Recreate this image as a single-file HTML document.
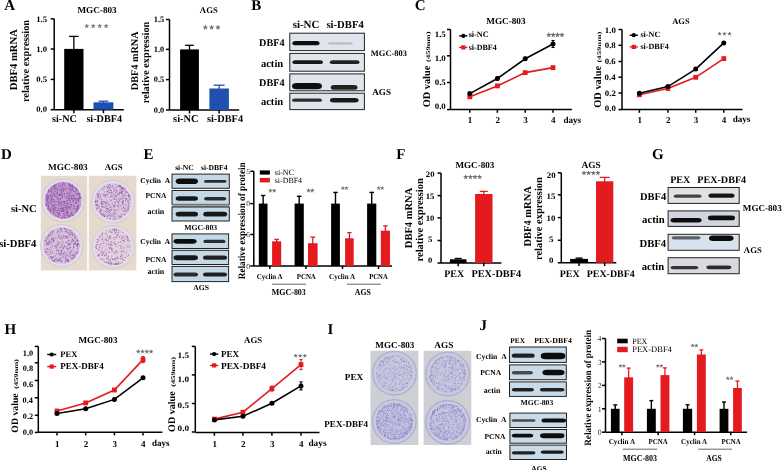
<!DOCTYPE html>
<html><head><meta charset="utf-8"><style>
html,body{margin:0;padding:0;background:#fff;width:782px;height:470px;overflow:hidden}
svg{display:block;filter:blur(0.3px)}
text{text-rendering:geometricPrecision}
</style></head><body>
<svg width="782" height="470" viewBox="0 0 782 470">
<defs><filter id="blur05" x="-10%" y="-10%" width="120%" height="120%"><feGaussianBlur stdDeviation="0.35"/></filter><filter id="blur1" x="-20%" y="-50%" width="140%" height="200%"><feGaussianBlur stdDeviation="0.75"/></filter></defs>
<rect width="782" height="470" fill="#fff"/>
<text x="4.33" y="10.30" font-family="Liberation Serif" font-size="15.0" font-weight="bold">A</text>
<text x="251.28" y="10.22" font-family="Liberation Serif" font-size="15.0" font-weight="bold">B</text>
<text x="414.72" y="10.35" font-family="Liberation Serif" font-size="15.0" font-weight="bold">C</text>
<text x="0.88" y="159.12" font-family="Liberation Serif" font-size="15.0" font-weight="bold">D</text>
<text x="143.58" y="159.20" font-family="Liberation Serif" font-size="15.0" font-weight="bold">E</text>
<text x="396.37" y="159.30" font-family="Liberation Serif" font-size="15.0" font-weight="bold">F</text>
<text x="651.93" y="159.35" font-family="Liberation Serif" font-size="15.0" font-weight="bold">G</text>
<text x="4.58" y="334.20" font-family="Liberation Serif" font-size="15.0" font-weight="bold">H</text>
<text x="327.45" y="334.20" font-family="Liberation Serif" font-size="15.0" font-weight="bold">I</text>
<text x="479.40" y="330.15" font-family="Liberation Serif" font-size="15.0" font-weight="bold">J</text>
<line x1="54.20" y1="18.80" x2="54.20" y2="109.70" stroke="#000" stroke-width="1.5"/>
<line x1="50.70" y1="18.80" x2="54.20" y2="18.80" stroke="#000" stroke-width="1.5"/>
<line x1="50.70" y1="49.00" x2="54.20" y2="49.00" stroke="#000" stroke-width="1.5"/>
<line x1="50.70" y1="79.40" x2="54.20" y2="79.40" stroke="#000" stroke-width="1.5"/>
<line x1="50.70" y1="109.70" x2="54.20" y2="109.70" stroke="#000" stroke-width="1.5"/>
<line x1="54.20" y1="109.70" x2="123.80" y2="109.70" stroke="#000" stroke-width="1.5"/>
<text x="36.19" y="21.54" font-family="Liberation Serif" font-size="8.30" font-weight="bold" textLength="10.91" lengthAdjust="spacingAndGlyphs">1.5</text>
<text x="36.19" y="51.76" font-family="Liberation Serif" font-size="8.30" font-weight="bold" textLength="10.91" lengthAdjust="spacingAndGlyphs">1.0</text>
<text x="36.19" y="82.16" font-family="Liberation Serif" font-size="8.30" font-weight="bold" textLength="10.91" lengthAdjust="spacingAndGlyphs">0.5</text>
<text x="36.19" y="112.46" font-family="Liberation Serif" font-size="8.30" font-weight="bold" textLength="10.91" lengthAdjust="spacingAndGlyphs">0.0</text>
<text x="77.46" y="13.30" font-family="Liberation Serif" font-size="9.17" font-weight="bold" fill="#000">MGC-803</text>
<path d="M86.75,26.18L86.75,24.45M86.75,26.18L88.39,25.64M86.75,26.18L87.76,27.58M86.75,26.18L85.73,27.58M86.75,26.18L85.10,25.64M93.22,26.18L93.22,24.45M93.22,26.18L94.86,25.64M93.22,26.18L94.23,27.58M93.22,26.18L92.20,27.58M93.22,26.18L91.57,25.64M99.68,26.18L99.68,24.45M99.68,26.18L101.33,25.64M99.68,26.18L100.70,27.58M99.68,26.18L98.67,27.58M99.68,26.18L98.04,25.64M106.15,26.18L106.15,24.45M106.15,26.18L107.80,25.64M106.15,26.18L107.17,27.58M106.15,26.18L105.14,27.58M106.15,26.18L104.51,25.64" stroke="#6a6a6a" stroke-width="0.99" stroke-linecap="round" fill="none"/>
<line x1="73.85" y1="36.40" x2="73.85" y2="49.90" stroke="#000" stroke-width="1.3"/>
<line x1="69.10" y1="36.40" x2="78.60" y2="36.40" stroke="#000" stroke-width="1.3"/>
<rect x="64.20" y="48.90" width="19.30" height="60.80" fill="#000" />
<line x1="73.85" y1="109.70" x2="73.85" y2="113.20" stroke="#000" stroke-width="1.5"/>
<line x1="103.45" y1="101.20" x2="103.45" y2="103.30" stroke="#1f4fb0" stroke-width="1.3"/>
<line x1="98.60" y1="101.20" x2="108.30" y2="101.20" stroke="#1f4fb0" stroke-width="1.3"/>
<rect x="93.50" y="102.30" width="19.90" height="7.40" fill="#1f4fb0" />
<line x1="103.45" y1="109.70" x2="103.45" y2="113.20" stroke="#000" stroke-width="1.5"/>
<text x="52.09" y="122.30" font-family="Liberation Serif" font-size="10.17" font-weight="bold" fill="#000">si-NC</text>
<text x="86.39" y="122.30" font-family="Liberation Serif" font-size="10.19" font-weight="bold" fill="#000">si-DBF4</text>
<text transform="translate(17.00,90.26) rotate(-90)" x="0" y="0" font-family="Liberation Serif" font-size="10.63" font-weight="bold" fill="#000">DBF4 mRNA</text>
<text transform="translate(28.90,102.06) rotate(-90)" x="0" y="0" font-family="Liberation Serif" font-size="10.37" font-weight="bold" fill="#000">relative expression</text>
<line x1="169.50" y1="19.50" x2="169.50" y2="110.00" stroke="#000" stroke-width="1.5"/>
<line x1="166.00" y1="19.50" x2="169.50" y2="19.50" stroke="#000" stroke-width="1.5"/>
<line x1="166.00" y1="49.40" x2="169.50" y2="49.40" stroke="#000" stroke-width="1.5"/>
<line x1="166.00" y1="79.60" x2="169.50" y2="79.60" stroke="#000" stroke-width="1.5"/>
<line x1="166.00" y1="110.00" x2="169.50" y2="110.00" stroke="#000" stroke-width="1.5"/>
<line x1="169.50" y1="110.00" x2="239.20" y2="110.00" stroke="#000" stroke-width="1.5"/>
<text x="153.81" y="22.24" font-family="Liberation Serif" font-size="8.30" font-weight="bold" textLength="10.49" lengthAdjust="spacingAndGlyphs">1.5</text>
<text x="153.81" y="52.16" font-family="Liberation Serif" font-size="8.30" font-weight="bold" textLength="10.49" lengthAdjust="spacingAndGlyphs">1.0</text>
<text x="153.81" y="82.36" font-family="Liberation Serif" font-size="8.30" font-weight="bold" textLength="10.49" lengthAdjust="spacingAndGlyphs">0.5</text>
<text x="153.81" y="112.76" font-family="Liberation Serif" font-size="8.30" font-weight="bold" textLength="10.49" lengthAdjust="spacingAndGlyphs">0.0</text>
<text x="199.86" y="13.00" font-family="Liberation Serif" font-size="8.71" font-weight="bold" fill="#000">AGS</text>
<path d="M205.35,27.40L205.35,25.56M205.35,27.40L207.09,26.83M205.35,27.40L206.43,28.89M205.35,27.40L204.27,28.89M205.35,27.40L203.60,26.83M211.65,27.40L211.65,25.56M211.65,27.40L213.40,26.83M211.65,27.40L212.73,28.89M211.65,27.40L210.57,28.89M211.65,27.40L209.90,26.83M217.95,27.40L217.95,25.56M217.95,27.40L219.70,26.83M217.95,27.40L219.03,28.89M217.95,27.40L216.87,28.89M217.95,27.40L216.21,26.83" stroke="#6a6a6a" stroke-width="1.05" stroke-linecap="round" fill="none"/>
<line x1="189.50" y1="45.30" x2="189.50" y2="50.40" stroke="#000" stroke-width="1.3"/>
<line x1="185.15" y1="45.30" x2="193.85" y2="45.30" stroke="#000" stroke-width="1.3"/>
<rect x="180.10" y="49.40" width="18.80" height="60.60" fill="#000" />
<line x1="189.50" y1="110.00" x2="189.50" y2="113.50" stroke="#000" stroke-width="1.5"/>
<line x1="219.15" y1="85.20" x2="219.15" y2="89.50" stroke="#1f4fb0" stroke-width="1.3"/>
<line x1="213.65" y1="85.20" x2="224.65" y2="85.20" stroke="#1f4fb0" stroke-width="1.3"/>
<rect x="209.40" y="88.50" width="19.50" height="21.50" fill="#1f4fb0" />
<line x1="219.15" y1="110.00" x2="219.15" y2="113.50" stroke="#000" stroke-width="1.5"/>
<text x="173.09" y="122.30" font-family="Liberation Serif" font-size="10.43" font-weight="bold" fill="#000">si-NC</text>
<text x="206.99" y="122.30" font-family="Liberation Serif" font-size="10.30" font-weight="bold" fill="#000">si-DBF4</text>
<text transform="translate(138.20,90.25) rotate(-90)" x="0" y="0" font-family="Liberation Serif" font-size="10.24" font-weight="bold" fill="#000">DBF4 mRNA</text>
<text transform="translate(149.30,103.16) rotate(-90)" x="0" y="0" font-family="Liberation Serif" font-size="10.27" font-weight="bold" fill="#000">relative expression</text>
<text x="292.67" y="28.30" font-family="Liberation Serif" font-size="10.94" font-weight="bold" fill="#000">si-NC</text>
<text x="326.48" y="28.30" font-family="Liberation Serif" font-size="10.65" font-weight="bold" fill="#000">si-DBF4</text>
<rect x="289.80" y="33.20" width="74.60" height="17.40" fill="#e0e4ec" stroke="#222" stroke-width="1.0"/>
<rect x="292.40" y="41.00" width="27.10" height="4.30" rx="3.22" ry="2.15" fill="#111" opacity="1.0" filter="url(#blur1)"/>
<rect x="327.90" y="42.20" width="24.90" height="2.30" rx="1.72" ry="1.15" fill="#111" opacity="0.18" filter="url(#blur1)"/>
<rect x="289.80" y="53.40" width="74.60" height="17.80" fill="#e0e4ec" stroke="#222" stroke-width="1.0"/>
<rect x="292.40" y="60.30" width="30.60" height="3.70" rx="2.78" ry="1.85" fill="#111" opacity="0.95" filter="url(#blur1)"/>
<rect x="329.80" y="60.30" width="29.70" height="3.70" rx="2.78" ry="1.85" fill="#111" opacity="0.9" filter="url(#blur1)"/>
<rect x="289.80" y="73.90" width="74.60" height="16.90" fill="#e0e4ec" stroke="#222" stroke-width="1.0"/>
<rect x="292.00" y="82.90" width="30.00" height="6.40" rx="4.80" ry="3.20" fill="#111" opacity="1.0" filter="url(#blur1)"/>
<rect x="330.70" y="85.00" width="26.80" height="4.80" rx="3.60" ry="2.40" fill="#111" opacity="0.9" filter="url(#blur1)"/>
<rect x="289.80" y="93.20" width="74.60" height="16.40" fill="#e0e4ec" stroke="#222" stroke-width="1.0"/>
<rect x="292.00" y="98.50" width="30.00" height="3.30" rx="2.47" ry="1.65" fill="#111" opacity="0.85" filter="url(#blur1)"/>
<rect x="330.00" y="98.00" width="28.50" height="4.50" rx="3.38" ry="2.25" fill="#111" opacity="0.95" filter="url(#blur1)"/>
<text x="259.05" y="45.70" font-family="Liberation Serif" font-size="10.20" font-weight="bold" fill="#000">DBF4</text>
<text x="260.88" y="67.00" font-family="Liberation Serif" font-size="10.58" font-weight="bold" fill="#000">actin</text>
<text x="259.05" y="85.50" font-family="Liberation Serif" font-size="10.20" font-weight="bold" fill="#000">DBF4</text>
<text x="260.88" y="104.80" font-family="Liberation Serif" font-size="10.58" font-weight="bold" fill="#000">actin</text>
<text x="370.77" y="55.60" font-family="Liberation Serif" font-size="8.51" font-weight="bold" fill="#000">MGC-803</text>
<text x="372.25" y="94.90" font-family="Liberation Serif" font-size="9.10" font-weight="bold" fill="#000">AGS</text>
<line x1="450.50" y1="29.50" x2="450.50" y2="109.60" stroke="#000" stroke-width="1.5"/>
<line x1="447.00" y1="29.50" x2="450.50" y2="29.50" stroke="#000" stroke-width="1.5"/>
<line x1="447.00" y1="55.80" x2="450.50" y2="55.80" stroke="#000" stroke-width="1.5"/>
<line x1="447.00" y1="82.50" x2="450.50" y2="82.50" stroke="#000" stroke-width="1.5"/>
<line x1="447.00" y1="109.60" x2="450.50" y2="109.60" stroke="#000" stroke-width="1.5"/>
<line x1="450.50" y1="109.60" x2="571.90" y2="109.60" stroke="#000" stroke-width="1.5"/>
<line x1="469.80" y1="109.60" x2="469.80" y2="112.80" stroke="#000" stroke-width="1.5"/>
<line x1="497.40" y1="109.60" x2="497.40" y2="112.80" stroke="#000" stroke-width="1.5"/>
<line x1="525.20" y1="109.60" x2="525.20" y2="112.80" stroke="#000" stroke-width="1.5"/>
<line x1="553.00" y1="109.60" x2="553.00" y2="112.80" stroke="#000" stroke-width="1.5"/>
<text x="434.69" y="36.64" font-family="Liberation Serif" font-size="8.30" font-weight="bold" textLength="11.12" lengthAdjust="spacingAndGlyphs">1.5</text>
<text x="434.69" y="60.56" font-family="Liberation Serif" font-size="8.30" font-weight="bold" textLength="11.12" lengthAdjust="spacingAndGlyphs">1.0</text>
<text x="434.69" y="84.56" font-family="Liberation Serif" font-size="8.30" font-weight="bold" textLength="11.12" lengthAdjust="spacingAndGlyphs">0.5</text>
<text x="434.69" y="108.66" font-family="Liberation Serif" font-size="8.30" font-weight="bold" textLength="11.12" lengthAdjust="spacingAndGlyphs">0.0</text>
<text x="470.10" y="122.80" text-anchor="middle" font-family="Liberation Serif" font-size="9.0" font-weight="bold">1</text>
<text x="497.70" y="122.80" text-anchor="middle" font-family="Liberation Serif" font-size="9.0" font-weight="bold">2</text>
<text x="525.50" y="122.80" text-anchor="middle" font-family="Liberation Serif" font-size="9.0" font-weight="bold">3</text>
<text x="553.30" y="122.80" text-anchor="middle" font-family="Liberation Serif" font-size="9.0" font-weight="bold">4</text>
<text x="563.44" y="122.80" font-family="Liberation Serif" font-size="9.10" font-weight="bold" fill="#000">days</text>
<text x="486.26" y="23.80" font-family="Liberation Serif" font-size="9.20" font-weight="bold" fill="#000">MGC-803</text>
<line x1="459.20" y1="35.90" x2="467.40" y2="35.90" stroke="#000" stroke-width="1.4"/>
<circle cx="463.30" cy="35.90" r="2.1" fill="#000"/>
<line x1="459.20" y1="47.40" x2="467.40" y2="47.40" stroke="#e31b1f" stroke-width="1.4"/>
<rect x="461.20" y="45.30" width="4.20" height="4.20" fill="#e31b1f" />
<text x="468.65" y="37.30" font-family="Liberation Serif" font-size="8.21" font-weight="bold" fill="#000">si-NC</text>
<text x="468.66" y="49.60" font-family="Liberation Serif" font-size="8.02" font-weight="bold" fill="#000">si-DBF4</text>
<path d="M548.75,34.90L548.75,33.06M548.75,34.90L550.49,34.33M548.75,34.90L549.83,36.39M548.75,34.90L547.67,36.39M548.75,34.90L547.00,34.33M553.15,34.90L553.15,33.06M553.15,34.90L554.90,34.33M553.15,34.90L554.23,36.39M553.15,34.90L552.07,36.39M553.15,34.90L551.40,34.33M557.55,34.90L557.55,33.06M557.55,34.90L559.30,34.33M557.55,34.90L558.63,36.39M557.55,34.90L556.47,36.39M557.55,34.90L555.80,34.33M561.95,34.90L561.95,33.06M561.95,34.90L563.70,34.33M561.95,34.90L563.03,36.39M561.95,34.90L560.87,36.39M561.95,34.90L560.21,34.33" stroke="#6a6a6a" stroke-width="1.05" stroke-linecap="round" fill="none"/>
<polyline points="469.80,96.80 497.40,85.90 525.20,72.60 553.00,67.60" fill="none" stroke="#e31b1f" stroke-width="1.6"/>
<polyline points="469.80,93.60 497.40,78.50 525.20,58.80 553.00,44.00" fill="none" stroke="#000" stroke-width="1.6"/>
<rect x="467.40" y="94.40" width="4.80" height="4.80" fill="#e31b1f" />
<rect x="495.00" y="83.50" width="4.80" height="4.80" fill="#e31b1f" />
<rect x="522.80" y="70.20" width="4.80" height="4.80" fill="#e31b1f" />
<rect x="550.60" y="65.20" width="4.80" height="4.80" fill="#e31b1f" />
<circle cx="469.80" cy="93.60" r="2.5" fill="#000"/>
<line x1="497.40" y1="77.00" x2="497.40" y2="80.00" stroke="#000" stroke-width="1.1"/>
<line x1="495.80" y1="77.00" x2="499.00" y2="77.00" stroke="#000" stroke-width="1.1"/>
<line x1="495.80" y1="80.00" x2="499.00" y2="80.00" stroke="#000" stroke-width="1.1"/>
<circle cx="497.40" cy="78.50" r="2.5" fill="#000"/>
<line x1="525.20" y1="57.30" x2="525.20" y2="60.30" stroke="#000" stroke-width="1.1"/>
<line x1="523.60" y1="57.30" x2="526.80" y2="57.30" stroke="#000" stroke-width="1.1"/>
<line x1="523.60" y1="60.30" x2="526.80" y2="60.30" stroke="#000" stroke-width="1.1"/>
<circle cx="525.20" cy="58.80" r="2.5" fill="#000"/>
<line x1="553.00" y1="40.50" x2="553.00" y2="47.50" stroke="#000" stroke-width="1.1"/>
<line x1="551.40" y1="40.50" x2="554.60" y2="40.50" stroke="#000" stroke-width="1.1"/>
<line x1="551.40" y1="47.50" x2="554.60" y2="47.50" stroke="#000" stroke-width="1.1"/>
<circle cx="553.00" cy="44.00" r="2.5" fill="#000"/>
<text transform="translate(430.20,107.37) rotate(-90)" x="0" y="0" font-family="Liberation Serif" font-size="10.35" font-weight="bold" fill="#000">OD value</text>
<text transform="translate(430.20,61.94) rotate(-90)" x="0" y="0" font-family="Liberation Serif" font-size="5.60" font-weight="bold" fill="#000" textLength="30.43" lengthAdjust="spacingAndGlyphs">(459nm)</text>
<line x1="622.00" y1="29.50" x2="622.00" y2="109.60" stroke="#000" stroke-width="1.5"/>
<line x1="618.50" y1="29.50" x2="622.00" y2="29.50" stroke="#000" stroke-width="1.5"/>
<line x1="618.50" y1="45.30" x2="622.00" y2="45.30" stroke="#000" stroke-width="1.5"/>
<line x1="618.50" y1="61.50" x2="622.00" y2="61.50" stroke="#000" stroke-width="1.5"/>
<line x1="618.50" y1="77.20" x2="622.00" y2="77.20" stroke="#000" stroke-width="1.5"/>
<line x1="618.50" y1="93.00" x2="622.00" y2="93.00" stroke="#000" stroke-width="1.5"/>
<line x1="618.50" y1="109.60" x2="622.00" y2="109.60" stroke="#000" stroke-width="1.5"/>
<line x1="622.00" y1="109.60" x2="742.50" y2="109.60" stroke="#000" stroke-width="1.5"/>
<line x1="639.40" y1="109.60" x2="639.40" y2="112.80" stroke="#000" stroke-width="1.5"/>
<line x1="667.90" y1="109.60" x2="667.90" y2="112.80" stroke="#000" stroke-width="1.5"/>
<line x1="695.70" y1="109.60" x2="695.70" y2="112.80" stroke="#000" stroke-width="1.5"/>
<line x1="723.80" y1="109.60" x2="723.80" y2="112.80" stroke="#000" stroke-width="1.5"/>
<text x="604.77" y="32.56" font-family="Liberation Serif" font-size="8.30" font-weight="bold" textLength="11.04" lengthAdjust="spacingAndGlyphs">1.0</text>
<text x="604.72" y="48.06" font-family="Liberation Serif" font-size="8.30" font-weight="bold" textLength="11.04" lengthAdjust="spacingAndGlyphs">0.8</text>
<text x="604.68" y="64.16" font-family="Liberation Serif" font-size="8.30" font-weight="bold" textLength="11.04" lengthAdjust="spacingAndGlyphs">0.6</text>
<text x="604.59" y="79.86" font-family="Liberation Serif" font-size="8.30" font-weight="bold" textLength="11.04" lengthAdjust="spacingAndGlyphs">0.4</text>
<text x="604.81" y="95.66" font-family="Liberation Serif" font-size="8.30" font-weight="bold" textLength="11.04" lengthAdjust="spacingAndGlyphs">0.2</text>
<text x="604.77" y="110.96" font-family="Liberation Serif" font-size="8.30" font-weight="bold" textLength="11.04" lengthAdjust="spacingAndGlyphs">0.0</text>
<text x="639.70" y="122.80" text-anchor="middle" font-family="Liberation Serif" font-size="9.0" font-weight="bold">1</text>
<text x="668.20" y="122.80" text-anchor="middle" font-family="Liberation Serif" font-size="9.0" font-weight="bold">2</text>
<text x="696.00" y="122.80" text-anchor="middle" font-family="Liberation Serif" font-size="9.0" font-weight="bold">3</text>
<text x="724.10" y="122.80" text-anchor="middle" font-family="Liberation Serif" font-size="9.0" font-weight="bold">4</text>
<text x="732.63" y="122.40" font-family="Liberation Serif" font-size="9.15" font-weight="bold" fill="#000">days</text>
<text x="672.26" y="23.80" font-family="Liberation Serif" font-size="8.46" font-weight="bold" fill="#000">AGS</text>
<line x1="629.70" y1="35.20" x2="637.90" y2="35.20" stroke="#000" stroke-width="1.4"/>
<circle cx="633.80" cy="35.20" r="2.1" fill="#000"/>
<line x1="629.70" y1="46.90" x2="637.90" y2="46.90" stroke="#e31b1f" stroke-width="1.4"/>
<rect x="631.70" y="44.80" width="4.20" height="4.20" fill="#e31b1f" />
<text x="640.46" y="36.60" font-family="Liberation Serif" font-size="8.12" font-weight="bold" fill="#000">si-NC</text>
<text x="640.46" y="49.40" font-family="Liberation Serif" font-size="8.08" font-weight="bold" fill="#000">si-DBF4</text>
<path d="M719.60,33.88L719.60,32.41M719.60,33.88L720.99,33.43M719.60,33.88L720.46,35.07M719.60,33.88L718.73,35.07M719.60,33.88L718.20,33.43M724.55,33.88L724.55,32.41M724.55,33.88L725.95,33.43M724.55,33.88L725.41,35.07M724.55,33.88L723.69,35.07M724.55,33.88L723.15,33.43M729.50,33.88L729.50,32.41M729.50,33.88L730.90,33.43M729.50,33.88L730.37,35.07M729.50,33.88L728.64,35.07M729.50,33.88L728.11,33.43" stroke="#6a6a6a" stroke-width="0.90" stroke-linecap="round" fill="none"/>
<polyline points="639.40,94.80 667.90,88.50 695.70,77.30 723.80,58.60" fill="none" stroke="#e31b1f" stroke-width="1.6"/>
<polyline points="639.40,93.20 667.90,86.60 695.70,69.10 723.80,42.90" fill="none" stroke="#000" stroke-width="1.6"/>
<rect x="637.00" y="92.40" width="4.80" height="4.80" fill="#e31b1f" />
<rect x="665.50" y="86.10" width="4.80" height="4.80" fill="#e31b1f" />
<rect x="693.30" y="74.90" width="4.80" height="4.80" fill="#e31b1f" />
<rect x="721.40" y="56.20" width="4.80" height="4.80" fill="#e31b1f" />
<circle cx="639.40" cy="93.20" r="2.5" fill="#000"/>
<circle cx="667.90" cy="86.60" r="2.5" fill="#000"/>
<circle cx="695.70" cy="69.10" r="2.5" fill="#000"/>
<circle cx="723.80" cy="42.90" r="2.5" fill="#000"/>
<text transform="translate(601.20,107.77) rotate(-90)" x="0" y="0" font-family="Liberation Serif" font-size="10.40" font-weight="bold" fill="#000">OD value</text>
<text transform="translate(601.20,62.55) rotate(-90)" x="0" y="0" font-family="Liberation Serif" font-size="5.60" font-weight="bold" fill="#000" textLength="30.84" lengthAdjust="spacingAndGlyphs">(459nm)</text>
<rect x="40.80" y="175.80" width="46.40" height="94.60" fill="#e7dacd" />
<rect x="88.80" y="175.80" width="47.60" height="94.60" fill="#e7dacd" />
<circle cx="63.20" cy="200.40" r="21.40" fill="#e2dce6" stroke="#d2c8d4" stroke-width="1.0"/>
<circle cx="63.20" cy="200.40" r="18.40" fill="#c3a0cf" filter="url(#blur1)"/>
<g fill="#7e3a9c" opacity="0.75" filter="url(#blur05)"><circle cx="64.2" cy="213.7" r="0.43"/><circle cx="51.9" cy="191.7" r="0.28"/><circle cx="79.6" cy="201.8" r="0.38"/><circle cx="65.0" cy="218.3" r="0.49"/><circle cx="69.6" cy="189.7" r="0.57"/><circle cx="71.6" cy="212.1" r="0.68"/><circle cx="47.8" cy="198.1" r="0.59"/><circle cx="77.7" cy="206.5" r="0.55"/><circle cx="62.2" cy="203.4" r="0.68"/><circle cx="48.1" cy="203.0" r="0.69"/><circle cx="59.3" cy="183.5" r="0.45"/><circle cx="67.0" cy="189.0" r="0.72"/><circle cx="67.3" cy="196.5" r="0.32"/><circle cx="66.8" cy="217.7" r="0.47"/><circle cx="56.3" cy="193.3" r="0.50"/><circle cx="55.1" cy="207.4" r="0.54"/><circle cx="48.4" cy="191.7" r="0.59"/><circle cx="78.3" cy="193.2" r="0.75"/><circle cx="59.7" cy="194.0" r="0.68"/><circle cx="79.9" cy="196.6" r="0.53"/><circle cx="61.3" cy="192.3" r="0.67"/><circle cx="54.6" cy="196.1" r="0.28"/><circle cx="74.1" cy="186.1" r="0.29"/><circle cx="66.8" cy="189.4" r="0.33"/><circle cx="58.9" cy="215.6" r="0.69"/><circle cx="76.8" cy="204.3" r="0.27"/><circle cx="61.2" cy="190.2" r="0.69"/><circle cx="75.9" cy="198.8" r="0.75"/><circle cx="61.4" cy="205.1" r="0.55"/><circle cx="71.1" cy="202.0" r="0.45"/><circle cx="57.7" cy="195.8" r="0.27"/><circle cx="70.0" cy="192.9" r="0.73"/><circle cx="72.0" cy="193.7" r="0.48"/><circle cx="48.8" cy="198.6" r="0.55"/><circle cx="50.0" cy="195.2" r="0.72"/><circle cx="51.4" cy="199.9" r="0.61"/><circle cx="64.0" cy="210.3" r="0.74"/><circle cx="50.0" cy="198.6" r="0.26"/><circle cx="51.4" cy="207.4" r="0.26"/><circle cx="52.5" cy="190.9" r="0.28"/><circle cx="54.6" cy="191.6" r="0.59"/><circle cx="54.1" cy="212.5" r="0.62"/><circle cx="67.6" cy="201.0" r="0.59"/><circle cx="72.0" cy="198.3" r="0.48"/><circle cx="54.7" cy="194.8" r="0.43"/><circle cx="59.0" cy="210.5" r="0.55"/><circle cx="59.8" cy="210.9" r="0.64"/><circle cx="76.6" cy="202.7" r="0.62"/><circle cx="60.1" cy="208.3" r="0.65"/><circle cx="63.8" cy="208.2" r="0.47"/><circle cx="61.4" cy="194.9" r="0.41"/><circle cx="54.9" cy="214.6" r="0.47"/><circle cx="67.8" cy="194.6" r="0.42"/><circle cx="53.2" cy="186.7" r="0.48"/><circle cx="64.2" cy="206.6" r="0.51"/><circle cx="69.1" cy="215.5" r="0.67"/><circle cx="67.1" cy="209.1" r="0.65"/><circle cx="53.0" cy="187.8" r="0.42"/><circle cx="69.9" cy="207.5" r="0.65"/><circle cx="61.8" cy="210.9" r="0.46"/><circle cx="53.1" cy="206.0" r="0.71"/><circle cx="63.9" cy="201.4" r="0.72"/><circle cx="76.3" cy="188.1" r="0.47"/><circle cx="79.7" cy="195.0" r="0.36"/><circle cx="62.7" cy="183.9" r="0.58"/><circle cx="53.6" cy="199.2" r="0.42"/><circle cx="63.9" cy="205.1" r="0.54"/><circle cx="59.5" cy="216.2" r="0.27"/><circle cx="75.6" cy="191.8" r="0.71"/><circle cx="76.8" cy="190.0" r="0.54"/><circle cx="78.7" cy="201.7" r="0.34"/><circle cx="58.7" cy="214.4" r="0.51"/><circle cx="48.2" cy="209.4" r="0.56"/><circle cx="58.3" cy="208.0" r="0.68"/><circle cx="47.4" cy="202.7" r="0.43"/><circle cx="67.5" cy="212.9" r="0.66"/><circle cx="70.8" cy="214.5" r="0.71"/><circle cx="68.8" cy="185.0" r="0.25"/><circle cx="51.6" cy="188.3" r="0.27"/><circle cx="61.9" cy="209.7" r="0.51"/><circle cx="52.2" cy="206.2" r="0.64"/><circle cx="67.4" cy="200.4" r="0.31"/><circle cx="66.5" cy="203.7" r="0.74"/><circle cx="66.4" cy="196.2" r="0.50"/><circle cx="59.1" cy="209.7" r="0.43"/><circle cx="54.9" cy="189.4" r="0.43"/><circle cx="66.9" cy="210.0" r="0.31"/><circle cx="48.9" cy="195.2" r="0.44"/><circle cx="69.9" cy="204.1" r="0.44"/><circle cx="50.6" cy="190.7" r="0.44"/><circle cx="67.7" cy="186.9" r="0.47"/><circle cx="54.4" cy="209.5" r="0.60"/><circle cx="50.0" cy="207.6" r="0.48"/><circle cx="63.6" cy="213.6" r="0.60"/><circle cx="73.8" cy="205.5" r="0.46"/><circle cx="75.9" cy="188.4" r="0.44"/><circle cx="76.0" cy="190.8" r="0.38"/><circle cx="57.0" cy="201.8" r="0.66"/><circle cx="54.3" cy="185.9" r="0.65"/><circle cx="55.6" cy="187.0" r="0.53"/><circle cx="74.2" cy="208.7" r="0.25"/><circle cx="73.0" cy="212.8" r="0.27"/><circle cx="68.0" cy="203.5" r="0.69"/><circle cx="64.4" cy="202.9" r="0.67"/><circle cx="75.2" cy="211.8" r="0.59"/><circle cx="72.3" cy="185.3" r="0.54"/><circle cx="64.2" cy="197.1" r="0.63"/><circle cx="48.0" cy="199.3" r="0.30"/><circle cx="63.1" cy="183.0" r="0.28"/><circle cx="57.1" cy="212.5" r="0.66"/><circle cx="63.6" cy="208.0" r="0.37"/><circle cx="51.5" cy="190.0" r="0.45"/><circle cx="55.6" cy="208.8" r="0.43"/><circle cx="58.7" cy="203.0" r="0.50"/><circle cx="74.6" cy="198.4" r="0.62"/><circle cx="71.2" cy="213.1" r="0.63"/><circle cx="57.2" cy="188.9" r="0.49"/><circle cx="52.6" cy="187.0" r="0.32"/><circle cx="76.1" cy="209.2" r="0.71"/><circle cx="51.3" cy="199.1" r="0.61"/><circle cx="66.8" cy="209.0" r="0.35"/><circle cx="54.5" cy="195.2" r="0.37"/><circle cx="56.8" cy="184.0" r="0.40"/><circle cx="60.0" cy="189.3" r="0.68"/><circle cx="55.2" cy="195.7" r="0.36"/><circle cx="75.6" cy="202.2" r="0.44"/><circle cx="68.3" cy="210.0" r="0.41"/><circle cx="64.2" cy="193.6" r="0.75"/><circle cx="49.4" cy="202.2" r="0.48"/><circle cx="71.5" cy="186.3" r="0.53"/><circle cx="48.0" cy="202.2" r="0.68"/><circle cx="50.7" cy="209.5" r="0.73"/><circle cx="54.7" cy="202.2" r="0.37"/><circle cx="60.2" cy="185.9" r="0.73"/><circle cx="68.6" cy="193.3" r="0.34"/><circle cx="62.8" cy="208.2" r="0.60"/><circle cx="74.0" cy="187.1" r="0.38"/><circle cx="69.9" cy="192.8" r="0.46"/><circle cx="62.5" cy="195.2" r="0.30"/><circle cx="68.1" cy="192.0" r="0.43"/><circle cx="50.2" cy="193.2" r="0.25"/><circle cx="57.1" cy="210.7" r="0.49"/><circle cx="66.6" cy="213.8" r="0.73"/><circle cx="52.9" cy="208.8" r="0.31"/><circle cx="60.9" cy="214.9" r="0.31"/><circle cx="76.3" cy="189.2" r="0.30"/><circle cx="73.5" cy="196.4" r="0.64"/><circle cx="63.7" cy="190.6" r="0.59"/><circle cx="54.0" cy="187.1" r="0.38"/><circle cx="63.7" cy="182.7" r="0.59"/><circle cx="57.3" cy="199.0" r="0.50"/><circle cx="54.0" cy="212.6" r="0.59"/><circle cx="56.2" cy="197.3" r="0.57"/><circle cx="58.0" cy="194.8" r="0.69"/><circle cx="59.7" cy="195.2" r="0.72"/><circle cx="69.7" cy="208.5" r="0.61"/><circle cx="52.2" cy="192.7" r="0.57"/><circle cx="53.5" cy="203.0" r="0.34"/><circle cx="77.1" cy="206.8" r="0.63"/><circle cx="48.3" cy="196.2" r="0.43"/><circle cx="62.1" cy="211.5" r="0.69"/><circle cx="75.6" cy="203.8" r="0.37"/><circle cx="64.5" cy="189.7" r="0.42"/><circle cx="52.3" cy="208.0" r="0.64"/><circle cx="53.2" cy="213.6" r="0.31"/><circle cx="62.5" cy="206.0" r="0.31"/><circle cx="66.0" cy="185.3" r="0.34"/><circle cx="67.5" cy="211.2" r="0.62"/><circle cx="69.5" cy="186.1" r="0.55"/><circle cx="70.1" cy="209.5" r="0.35"/><circle cx="49.8" cy="198.1" r="0.35"/><circle cx="63.2" cy="216.3" r="0.27"/><circle cx="68.8" cy="184.3" r="0.72"/><circle cx="53.2" cy="209.4" r="0.54"/><circle cx="51.3" cy="187.1" r="0.59"/><circle cx="58.1" cy="216.3" r="0.49"/><circle cx="50.8" cy="191.3" r="0.25"/><circle cx="65.1" cy="185.8" r="0.50"/><circle cx="51.1" cy="198.6" r="0.35"/><circle cx="59.8" cy="199.8" r="0.50"/><circle cx="55.9" cy="190.9" r="0.53"/><circle cx="79.7" cy="196.1" r="0.32"/><circle cx="66.9" cy="186.7" r="0.28"/><circle cx="57.6" cy="207.1" r="0.29"/><circle cx="46.3" cy="196.2" r="0.41"/><circle cx="73.5" cy="189.5" r="0.32"/><circle cx="72.0" cy="189.5" r="0.71"/><circle cx="59.9" cy="185.2" r="0.42"/><circle cx="69.3" cy="184.1" r="0.68"/><circle cx="48.7" cy="206.4" r="0.49"/><circle cx="66.1" cy="202.8" r="0.29"/><circle cx="65.4" cy="207.3" r="0.50"/><circle cx="59.1" cy="187.8" r="0.46"/><circle cx="57.3" cy="192.4" r="0.48"/><circle cx="63.7" cy="189.0" r="0.34"/><circle cx="75.5" cy="191.4" r="0.43"/><circle cx="54.2" cy="209.9" r="0.55"/><circle cx="63.4" cy="201.3" r="0.35"/><circle cx="64.6" cy="193.7" r="0.48"/><circle cx="66.0" cy="208.2" r="0.34"/><circle cx="57.1" cy="204.6" r="0.26"/><circle cx="68.9" cy="205.1" r="0.50"/><circle cx="65.7" cy="201.4" r="0.47"/><circle cx="50.5" cy="208.7" r="0.28"/><circle cx="53.9" cy="206.9" r="0.26"/><circle cx="71.4" cy="198.6" r="0.30"/><circle cx="56.0" cy="201.6" r="0.56"/><circle cx="59.6" cy="205.6" r="0.28"/><circle cx="61.9" cy="191.0" r="0.64"/><circle cx="46.2" cy="204.2" r="0.40"/><circle cx="63.2" cy="209.7" r="0.66"/><circle cx="55.9" cy="192.7" r="0.30"/><circle cx="55.9" cy="184.2" r="0.55"/><circle cx="66.3" cy="200.5" r="0.30"/><circle cx="64.9" cy="203.4" r="0.28"/><circle cx="53.5" cy="186.3" r="0.35"/><circle cx="75.5" cy="198.4" r="0.65"/><circle cx="78.4" cy="191.7" r="0.27"/><circle cx="58.5" cy="213.6" r="0.72"/><circle cx="71.5" cy="205.5" r="0.67"/><circle cx="71.7" cy="207.8" r="0.42"/><circle cx="55.8" cy="184.7" r="0.34"/><circle cx="62.2" cy="185.0" r="0.67"/><circle cx="46.8" cy="194.7" r="0.43"/><circle cx="55.8" cy="204.8" r="0.64"/><circle cx="53.9" cy="201.5" r="0.33"/><circle cx="60.6" cy="186.6" r="0.61"/><circle cx="53.7" cy="208.6" r="0.33"/><circle cx="62.5" cy="197.8" r="0.48"/><circle cx="64.0" cy="185.6" r="0.30"/><circle cx="64.5" cy="216.9" r="0.57"/><circle cx="75.4" cy="188.8" r="0.47"/><circle cx="75.5" cy="191.1" r="0.42"/><circle cx="59.9" cy="203.9" r="0.45"/><circle cx="68.8" cy="198.8" r="0.53"/><circle cx="67.1" cy="203.7" r="0.57"/><circle cx="63.4" cy="204.4" r="0.33"/><circle cx="54.7" cy="189.5" r="0.26"/><circle cx="65.4" cy="218.0" r="0.36"/><circle cx="52.4" cy="195.9" r="0.64"/><circle cx="50.5" cy="190.6" r="0.52"/><circle cx="66.1" cy="207.4" r="0.29"/><circle cx="66.0" cy="195.0" r="0.26"/><circle cx="71.1" cy="198.7" r="0.70"/><circle cx="73.8" cy="206.7" r="0.36"/><circle cx="70.0" cy="188.0" r="0.57"/><circle cx="64.4" cy="183.6" r="0.42"/><circle cx="53.6" cy="193.1" r="0.31"/><circle cx="70.3" cy="188.4" r="0.66"/><circle cx="66.8" cy="213.1" r="0.48"/><circle cx="62.5" cy="195.4" r="0.42"/><circle cx="58.4" cy="200.9" r="0.53"/><circle cx="62.1" cy="188.7" r="0.57"/><circle cx="56.6" cy="195.2" r="0.43"/><circle cx="73.6" cy="200.1" r="0.47"/><circle cx="70.5" cy="204.6" r="0.33"/><circle cx="77.1" cy="193.9" r="0.69"/><circle cx="77.3" cy="199.2" r="0.72"/><circle cx="51.8" cy="197.8" r="0.72"/><circle cx="77.6" cy="190.3" r="0.49"/><circle cx="64.9" cy="189.0" r="0.75"/><circle cx="71.8" cy="195.7" r="0.72"/><circle cx="65.4" cy="205.5" r="0.61"/><circle cx="59.6" cy="212.9" r="0.57"/><circle cx="78.3" cy="204.3" r="0.39"/><circle cx="53.6" cy="204.8" r="0.62"/><circle cx="63.0" cy="190.7" r="0.30"/><circle cx="59.7" cy="211.4" r="0.29"/><circle cx="72.2" cy="213.3" r="0.60"/><circle cx="80.9" cy="197.8" r="0.69"/><circle cx="58.2" cy="205.6" r="0.41"/><circle cx="50.5" cy="203.4" r="0.52"/><circle cx="52.6" cy="213.3" r="0.39"/><circle cx="46.7" cy="204.3" r="0.65"/><circle cx="60.6" cy="208.9" r="0.65"/><circle cx="69.7" cy="200.8" r="0.52"/><circle cx="56.0" cy="198.8" r="0.28"/><circle cx="67.7" cy="215.6" r="0.48"/><circle cx="79.1" cy="198.3" r="0.74"/><circle cx="70.8" cy="202.1" r="0.26"/><circle cx="53.6" cy="204.7" r="0.28"/><circle cx="57.9" cy="198.8" r="0.41"/><circle cx="63.5" cy="216.6" r="0.46"/><circle cx="63.0" cy="204.2" r="0.46"/><circle cx="52.9" cy="189.8" r="0.71"/><circle cx="66.4" cy="192.0" r="0.32"/><circle cx="64.0" cy="184.4" r="0.50"/><circle cx="69.7" cy="188.7" r="0.39"/><circle cx="64.4" cy="202.5" r="0.57"/><circle cx="76.9" cy="190.0" r="0.48"/><circle cx="54.4" cy="185.4" r="0.66"/><circle cx="53.9" cy="193.4" r="0.51"/><circle cx="66.9" cy="207.2" r="0.59"/><circle cx="76.5" cy="199.7" r="0.45"/><circle cx="55.9" cy="210.2" r="0.65"/><circle cx="46.3" cy="205.6" r="0.33"/><circle cx="58.0" cy="212.4" r="0.46"/><circle cx="72.9" cy="187.2" r="0.72"/><circle cx="60.8" cy="198.4" r="0.54"/><circle cx="51.2" cy="196.5" r="0.39"/><circle cx="58.9" cy="183.7" r="0.30"/><circle cx="57.8" cy="190.8" r="0.51"/><circle cx="77.2" cy="189.6" r="0.57"/><circle cx="69.1" cy="216.7" r="0.34"/><circle cx="51.0" cy="211.4" r="0.41"/><circle cx="60.9" cy="217.8" r="0.72"/><circle cx="58.6" cy="210.7" r="0.39"/><circle cx="69.3" cy="207.0" r="0.74"/><circle cx="70.8" cy="204.5" r="0.35"/><circle cx="74.7" cy="206.7" r="0.62"/><circle cx="70.7" cy="188.2" r="0.66"/><circle cx="72.8" cy="200.7" r="0.73"/><circle cx="71.7" cy="204.3" r="0.49"/><circle cx="61.7" cy="213.6" r="0.27"/><circle cx="64.8" cy="218.0" r="0.32"/><circle cx="69.5" cy="196.1" r="0.75"/><circle cx="56.6" cy="187.5" r="0.32"/><circle cx="78.0" cy="205.7" r="0.34"/><circle cx="69.3" cy="215.6" r="0.69"/><circle cx="80.1" cy="205.7" r="0.52"/><circle cx="58.8" cy="204.4" r="0.44"/><circle cx="72.7" cy="199.7" r="0.32"/><circle cx="67.1" cy="205.5" r="0.43"/><circle cx="67.5" cy="197.9" r="0.35"/><circle cx="79.9" cy="193.7" r="0.74"/><circle cx="63.5" cy="211.1" r="0.73"/><circle cx="48.1" cy="201.8" r="0.41"/><circle cx="73.7" cy="201.8" r="0.62"/><circle cx="65.9" cy="187.1" r="0.48"/><circle cx="51.5" cy="197.6" r="0.52"/><circle cx="67.2" cy="193.4" r="0.55"/><circle cx="78.4" cy="193.6" r="0.34"/><circle cx="79.3" cy="196.6" r="0.33"/><circle cx="62.4" cy="208.5" r="0.28"/><circle cx="74.6" cy="198.8" r="0.69"/><circle cx="64.8" cy="201.8" r="0.68"/><circle cx="68.1" cy="183.1" r="0.59"/><circle cx="47.6" cy="197.9" r="0.30"/><circle cx="51.6" cy="197.4" r="0.32"/><circle cx="54.9" cy="194.4" r="0.50"/><circle cx="56.1" cy="207.7" r="0.43"/><circle cx="48.8" cy="189.8" r="0.72"/><circle cx="73.9" cy="187.8" r="0.39"/><circle cx="72.5" cy="199.0" r="0.31"/><circle cx="47.8" cy="200.3" r="0.42"/><circle cx="57.3" cy="192.8" r="0.73"/><circle cx="51.3" cy="204.0" r="0.52"/><circle cx="75.9" cy="187.7" r="0.51"/><circle cx="50.0" cy="205.5" r="0.28"/><circle cx="48.4" cy="207.9" r="0.64"/><circle cx="78.7" cy="206.5" r="0.44"/><circle cx="74.0" cy="199.1" r="0.36"/><circle cx="47.0" cy="195.3" r="0.47"/><circle cx="73.4" cy="189.1" r="0.43"/><circle cx="59.2" cy="212.6" r="0.45"/><circle cx="53.1" cy="210.9" r="0.69"/><circle cx="57.3" cy="196.9" r="0.36"/><circle cx="53.5" cy="210.7" r="0.32"/><circle cx="72.1" cy="205.4" r="0.39"/><circle cx="76.2" cy="202.8" r="0.71"/><circle cx="48.1" cy="197.1" r="0.66"/><circle cx="72.2" cy="185.7" r="0.47"/><circle cx="60.6" cy="194.7" r="0.69"/><circle cx="54.2" cy="209.0" r="0.70"/><circle cx="61.4" cy="208.1" r="0.66"/><circle cx="58.9" cy="197.3" r="0.26"/><circle cx="62.3" cy="201.7" r="0.67"/><circle cx="67.0" cy="209.0" r="0.44"/><circle cx="51.4" cy="199.5" r="0.56"/><circle cx="56.8" cy="190.3" r="0.30"/><circle cx="78.1" cy="198.4" r="0.29"/><circle cx="48.6" cy="206.0" r="0.75"/><circle cx="64.8" cy="201.1" r="0.49"/><circle cx="48.1" cy="208.4" r="0.66"/><circle cx="57.5" cy="210.6" r="0.54"/><circle cx="69.3" cy="195.0" r="0.45"/><circle cx="75.5" cy="208.0" r="0.26"/><circle cx="75.2" cy="195.2" r="0.54"/><circle cx="70.7" cy="204.8" r="0.48"/><circle cx="71.5" cy="190.1" r="0.39"/><circle cx="77.8" cy="198.8" r="0.51"/><circle cx="66.1" cy="209.8" r="0.70"/><circle cx="72.0" cy="210.1" r="0.56"/><circle cx="53.5" cy="212.9" r="0.70"/><circle cx="72.9" cy="188.3" r="0.35"/><circle cx="74.2" cy="204.8" r="0.41"/><circle cx="69.0" cy="216.2" r="0.36"/><circle cx="70.9" cy="184.7" r="0.31"/><circle cx="72.9" cy="194.5" r="0.36"/><circle cx="64.6" cy="203.6" r="0.50"/><circle cx="50.8" cy="211.5" r="0.67"/><circle cx="73.9" cy="204.4" r="0.44"/><circle cx="67.2" cy="208.5" r="0.38"/><circle cx="59.6" cy="190.5" r="0.31"/><circle cx="65.4" cy="212.2" r="0.53"/><circle cx="63.6" cy="215.5" r="0.36"/><circle cx="56.5" cy="188.0" r="0.34"/><circle cx="63.3" cy="189.1" r="0.52"/><circle cx="51.5" cy="192.2" r="0.47"/><circle cx="78.2" cy="205.9" r="0.68"/><circle cx="49.5" cy="201.2" r="0.38"/><circle cx="75.2" cy="191.5" r="0.36"/><circle cx="70.6" cy="184.1" r="0.42"/><circle cx="75.7" cy="200.0" r="0.34"/><circle cx="61.0" cy="190.1" r="0.62"/><circle cx="58.1" cy="197.4" r="0.51"/><circle cx="70.6" cy="190.4" r="0.52"/><circle cx="71.1" cy="191.3" r="0.50"/><circle cx="49.0" cy="192.3" r="0.35"/><circle cx="76.3" cy="209.1" r="0.53"/><circle cx="57.7" cy="216.5" r="0.69"/><circle cx="45.9" cy="195.8" r="0.67"/><circle cx="63.1" cy="190.7" r="0.26"/><circle cx="56.5" cy="186.5" r="0.43"/><circle cx="49.7" cy="202.2" r="0.37"/><circle cx="58.8" cy="187.6" r="0.44"/><circle cx="73.6" cy="208.9" r="0.41"/><circle cx="62.0" cy="193.0" r="0.45"/><circle cx="67.0" cy="211.3" r="0.54"/><circle cx="66.5" cy="203.0" r="0.49"/><circle cx="67.0" cy="212.6" r="0.33"/><circle cx="73.9" cy="208.2" r="0.71"/><circle cx="72.0" cy="190.9" r="0.45"/><circle cx="71.9" cy="204.2" r="0.41"/><circle cx="69.0" cy="198.2" r="0.72"/><circle cx="51.4" cy="202.1" r="0.38"/><circle cx="70.8" cy="198.6" r="0.54"/><circle cx="55.2" cy="199.9" r="0.36"/><circle cx="79.2" cy="198.9" r="0.62"/><circle cx="67.8" cy="197.2" r="0.60"/><circle cx="63.2" cy="191.8" r="0.48"/><circle cx="73.4" cy="198.7" r="0.63"/><circle cx="70.7" cy="213.1" r="0.38"/><circle cx="52.2" cy="199.8" r="0.69"/><circle cx="62.8" cy="187.6" r="0.59"/><circle cx="48.7" cy="207.5" r="0.38"/><circle cx="49.9" cy="196.6" r="0.44"/><circle cx="70.3" cy="202.5" r="0.57"/><circle cx="67.0" cy="215.6" r="0.50"/><circle cx="79.1" cy="195.6" r="0.61"/><circle cx="60.6" cy="203.1" r="0.53"/><circle cx="62.7" cy="183.1" r="0.35"/><circle cx="72.9" cy="215.4" r="0.62"/><circle cx="47.8" cy="201.9" r="0.32"/><circle cx="49.0" cy="196.4" r="0.55"/><circle cx="66.7" cy="206.1" r="0.56"/><circle cx="68.2" cy="195.9" r="0.25"/><circle cx="77.1" cy="208.3" r="0.45"/><circle cx="45.9" cy="205.3" r="0.56"/><circle cx="61.9" cy="215.4" r="0.25"/><circle cx="60.2" cy="215.2" r="0.34"/><circle cx="75.9" cy="203.0" r="0.41"/><circle cx="68.9" cy="199.4" r="0.65"/><circle cx="50.8" cy="210.8" r="0.47"/><circle cx="58.1" cy="191.4" r="0.36"/><circle cx="47.8" cy="205.2" r="0.42"/><circle cx="64.7" cy="211.9" r="0.30"/><circle cx="57.7" cy="212.9" r="0.52"/><circle cx="55.3" cy="194.8" r="0.26"/><circle cx="73.6" cy="202.1" r="0.35"/><circle cx="54.8" cy="196.5" r="0.63"/><circle cx="51.4" cy="191.7" r="0.62"/><circle cx="51.5" cy="198.8" r="0.40"/><circle cx="78.0" cy="206.6" r="0.50"/><circle cx="77.3" cy="210.6" r="0.54"/><circle cx="54.7" cy="192.0" r="0.31"/><circle cx="70.6" cy="200.4" r="0.43"/><circle cx="69.5" cy="200.4" r="0.50"/><circle cx="54.3" cy="201.5" r="0.71"/><circle cx="61.5" cy="201.4" r="0.49"/><circle cx="78.4" cy="200.8" r="0.68"/><circle cx="66.5" cy="198.2" r="0.59"/><circle cx="59.0" cy="212.1" r="0.40"/><circle cx="61.0" cy="206.6" r="0.56"/><circle cx="78.2" cy="209.8" r="0.27"/><circle cx="70.9" cy="198.6" r="0.29"/><circle cx="62.8" cy="187.3" r="0.63"/><circle cx="48.9" cy="199.6" r="0.29"/><circle cx="57.3" cy="188.9" r="0.73"/><circle cx="67.9" cy="200.6" r="0.59"/><circle cx="73.7" cy="195.2" r="0.61"/><circle cx="52.7" cy="196.2" r="0.48"/><circle cx="60.7" cy="198.6" r="0.40"/><circle cx="62.5" cy="191.3" r="0.49"/><circle cx="62.7" cy="211.2" r="0.58"/><circle cx="62.5" cy="182.8" r="0.49"/><circle cx="66.3" cy="210.4" r="0.28"/><circle cx="64.1" cy="214.2" r="0.56"/><circle cx="63.6" cy="208.1" r="0.30"/><circle cx="68.7" cy="211.9" r="0.38"/><circle cx="73.3" cy="191.4" r="0.42"/><circle cx="59.9" cy="201.9" r="0.62"/><circle cx="63.3" cy="189.5" r="0.61"/><circle cx="62.0" cy="208.8" r="0.36"/><circle cx="67.8" cy="213.7" r="0.57"/><circle cx="62.4" cy="194.6" r="0.63"/><circle cx="52.2" cy="201.9" r="0.50"/><circle cx="55.8" cy="203.7" r="0.45"/><circle cx="53.9" cy="188.3" r="0.71"/><circle cx="69.0" cy="216.4" r="0.65"/><circle cx="59.1" cy="183.0" r="0.32"/><circle cx="66.0" cy="183.5" r="0.31"/><circle cx="48.7" cy="190.6" r="0.40"/><circle cx="73.7" cy="186.9" r="0.47"/><circle cx="68.3" cy="207.0" r="0.66"/><circle cx="54.3" cy="205.2" r="0.47"/><circle cx="71.4" cy="196.4" r="0.26"/><circle cx="72.8" cy="197.2" r="0.44"/><circle cx="72.7" cy="199.0" r="0.29"/><circle cx="70.0" cy="194.6" r="0.36"/><circle cx="71.2" cy="197.1" r="0.70"/><circle cx="58.2" cy="209.0" r="0.36"/><circle cx="50.2" cy="196.9" r="0.45"/><circle cx="53.4" cy="199.9" r="0.67"/><circle cx="77.5" cy="194.1" r="0.66"/><circle cx="71.3" cy="204.3" r="0.35"/><circle cx="73.2" cy="215.1" r="0.70"/><circle cx="74.8" cy="193.5" r="0.31"/><circle cx="59.4" cy="202.3" r="0.70"/><circle cx="62.3" cy="210.0" r="0.72"/><circle cx="68.5" cy="216.9" r="0.41"/><circle cx="60.2" cy="195.3" r="0.70"/><circle cx="54.7" cy="206.7" r="0.58"/><circle cx="55.7" cy="195.4" r="0.31"/><circle cx="60.7" cy="199.1" r="0.69"/><circle cx="59.1" cy="206.6" r="0.41"/><circle cx="70.9" cy="207.1" r="0.52"/><circle cx="54.5" cy="206.2" r="0.40"/><circle cx="47.3" cy="201.7" r="0.47"/><circle cx="64.6" cy="187.9" r="0.31"/><circle cx="71.2" cy="215.0" r="0.49"/><circle cx="53.6" cy="209.1" r="0.67"/><circle cx="55.5" cy="208.1" r="0.43"/><circle cx="76.5" cy="201.3" r="0.49"/><circle cx="51.1" cy="200.7" r="0.49"/><circle cx="61.5" cy="192.8" r="0.74"/><circle cx="75.8" cy="211.5" r="0.34"/><circle cx="65.8" cy="191.6" r="0.29"/><circle cx="47.2" cy="196.2" r="0.67"/><circle cx="76.0" cy="187.9" r="0.28"/><circle cx="58.9" cy="204.5" r="0.63"/><circle cx="48.4" cy="205.1" r="0.65"/><circle cx="78.0" cy="200.3" r="0.69"/><circle cx="58.3" cy="198.9" r="0.70"/><circle cx="67.6" cy="203.3" r="0.67"/><circle cx="60.4" cy="214.8" r="0.26"/><circle cx="66.9" cy="215.2" r="0.27"/><circle cx="45.8" cy="199.2" r="0.36"/><circle cx="58.8" cy="185.5" r="0.56"/><circle cx="64.7" cy="185.4" r="0.26"/><circle cx="67.9" cy="212.7" r="0.73"/><circle cx="66.0" cy="213.9" r="0.31"/><circle cx="70.1" cy="190.5" r="0.51"/><circle cx="60.0" cy="194.6" r="0.61"/><circle cx="68.4" cy="184.5" r="0.39"/><circle cx="63.9" cy="207.7" r="0.70"/><circle cx="52.8" cy="204.7" r="0.51"/><circle cx="60.0" cy="190.8" r="0.42"/><circle cx="64.8" cy="184.6" r="0.40"/><circle cx="78.7" cy="208.2" r="0.61"/><circle cx="53.7" cy="194.0" r="0.73"/><circle cx="55.6" cy="203.9" r="0.30"/><circle cx="54.9" cy="211.7" r="0.43"/><circle cx="76.9" cy="195.7" r="0.48"/><circle cx="55.7" cy="188.6" r="0.56"/><circle cx="50.2" cy="200.8" r="0.50"/><circle cx="67.1" cy="193.5" r="0.64"/><circle cx="58.2" cy="216.3" r="0.29"/><circle cx="51.2" cy="201.5" r="0.61"/><circle cx="65.9" cy="209.2" r="0.32"/><circle cx="50.5" cy="195.2" r="0.25"/><circle cx="66.7" cy="207.6" r="0.73"/><circle cx="50.2" cy="204.2" r="0.39"/><circle cx="54.5" cy="186.7" r="0.59"/><circle cx="75.2" cy="200.5" r="0.49"/><circle cx="78.6" cy="204.8" r="0.41"/><circle cx="59.4" cy="214.1" r="0.54"/><circle cx="46.5" cy="200.8" r="0.51"/><circle cx="60.7" cy="204.2" r="0.53"/><circle cx="54.6" cy="210.4" r="0.42"/><circle cx="66.7" cy="200.6" r="0.33"/><circle cx="77.0" cy="209.7" r="0.54"/><circle cx="64.3" cy="215.6" r="0.57"/><circle cx="77.7" cy="206.3" r="0.36"/><circle cx="70.0" cy="200.3" r="0.39"/><circle cx="63.3" cy="217.1" r="0.66"/><circle cx="57.1" cy="197.1" r="0.46"/><circle cx="61.9" cy="196.3" r="0.71"/><circle cx="72.7" cy="185.8" r="0.60"/><circle cx="50.0" cy="188.4" r="0.38"/><circle cx="61.0" cy="206.3" r="0.34"/><circle cx="64.9" cy="195.1" r="0.62"/><circle cx="49.8" cy="210.6" r="0.63"/><circle cx="56.8" cy="185.1" r="0.27"/><circle cx="62.1" cy="211.3" r="0.46"/><circle cx="55.1" cy="185.6" r="0.62"/><circle cx="76.8" cy="193.9" r="0.43"/><circle cx="47.6" cy="199.6" r="0.66"/><circle cx="55.8" cy="208.2" r="0.56"/><circle cx="65.5" cy="217.2" r="0.25"/><circle cx="55.7" cy="190.3" r="0.35"/><circle cx="52.0" cy="195.1" r="0.73"/><circle cx="73.5" cy="191.2" r="0.69"/><circle cx="68.7" cy="195.5" r="0.66"/><circle cx="72.2" cy="184.9" r="0.63"/><circle cx="56.8" cy="205.5" r="0.58"/><circle cx="67.0" cy="215.6" r="0.54"/><circle cx="68.1" cy="190.8" r="0.40"/><circle cx="75.3" cy="192.1" r="0.44"/><circle cx="47.7" cy="194.2" r="0.62"/><circle cx="47.0" cy="198.7" r="0.79"/><circle cx="76.3" cy="188.9" r="0.44"/><circle cx="69.2" cy="216.7" r="0.71"/><circle cx="53.9" cy="187.2" r="0.66"/><circle cx="46.8" cy="198.0" r="0.59"/><circle cx="46.9" cy="205.8" r="0.68"/><circle cx="79.0" cy="198.7" r="0.59"/><circle cx="79.4" cy="194.6" r="0.59"/><circle cx="72.7" cy="187.9" r="0.70"/><circle cx="51.0" cy="188.5" r="0.46"/><circle cx="51.5" cy="189.5" r="0.56"/><circle cx="62.3" cy="218.3" r="0.70"/><circle cx="46.0" cy="203.4" r="0.49"/><circle cx="47.3" cy="198.0" r="0.73"/><circle cx="64.7" cy="183.0" r="0.34"/><circle cx="69.8" cy="186.2" r="0.58"/><circle cx="47.5" cy="201.6" r="0.51"/><circle cx="76.2" cy="189.2" r="0.46"/><circle cx="69.7" cy="185.2" r="0.75"/><circle cx="50.3" cy="209.6" r="0.79"/><circle cx="77.9" cy="207.4" r="0.69"/><circle cx="75.9" cy="211.6" r="0.73"/><circle cx="49.3" cy="191.6" r="0.68"/><circle cx="71.0" cy="185.3" r="0.61"/><circle cx="55.9" cy="215.3" r="0.80"/><circle cx="78.6" cy="197.6" r="0.40"/><circle cx="65.9" cy="217.7" r="0.40"/><circle cx="71.7" cy="215.7" r="0.38"/><circle cx="79.8" cy="198.0" r="0.75"/><circle cx="70.0" cy="185.8" r="0.69"/><circle cx="49.3" cy="208.6" r="0.32"/><circle cx="58.3" cy="184.1" r="0.45"/><circle cx="71.2" cy="186.4" r="0.52"/><circle cx="77.3" cy="209.0" r="0.74"/><circle cx="47.2" cy="200.4" r="0.42"/></g>
<circle cx="61.80" cy="245.60" r="21.20" fill="#e2dce6" stroke="#d2c8d4" stroke-width="1.0"/>
<circle cx="61.80" cy="245.60" r="18.23" fill="#d8c4dc" filter="url(#blur1)"/>
<g fill="#7e3a9c" opacity="0.75" filter="url(#blur05)"><circle cx="56.0" cy="238.2" r="0.62"/><circle cx="77.3" cy="251.8" r="0.50"/><circle cx="66.5" cy="236.0" r="0.26"/><circle cx="68.4" cy="258.1" r="0.24"/><circle cx="74.0" cy="255.7" r="0.62"/><circle cx="71.9" cy="232.8" r="0.47"/><circle cx="72.4" cy="235.1" r="0.48"/><circle cx="59.3" cy="246.9" r="0.27"/><circle cx="61.8" cy="257.7" r="0.28"/><circle cx="75.1" cy="243.1" r="0.56"/><circle cx="68.4" cy="240.3" r="0.62"/><circle cx="70.7" cy="243.2" r="0.28"/><circle cx="67.0" cy="229.6" r="0.58"/><circle cx="50.2" cy="253.2" r="0.28"/><circle cx="62.9" cy="257.1" r="0.56"/><circle cx="76.4" cy="254.7" r="0.24"/><circle cx="70.3" cy="244.0" r="0.59"/><circle cx="69.0" cy="229.7" r="0.44"/><circle cx="58.7" cy="236.4" r="0.60"/><circle cx="74.8" cy="256.2" r="0.49"/><circle cx="77.8" cy="252.2" r="0.37"/><circle cx="70.1" cy="249.4" r="0.24"/><circle cx="58.9" cy="260.4" r="0.67"/><circle cx="50.6" cy="233.5" r="0.60"/><circle cx="59.4" cy="234.8" r="0.34"/><circle cx="69.2" cy="256.6" r="0.32"/><circle cx="61.2" cy="235.5" r="0.49"/><circle cx="48.2" cy="241.5" r="0.29"/><circle cx="61.2" cy="260.4" r="0.32"/><circle cx="53.5" cy="230.1" r="0.40"/><circle cx="75.4" cy="242.3" r="0.65"/><circle cx="46.5" cy="243.1" r="0.53"/><circle cx="66.1" cy="257.7" r="0.49"/><circle cx="47.7" cy="248.9" r="0.63"/><circle cx="66.3" cy="230.1" r="0.29"/><circle cx="57.7" cy="232.1" r="0.65"/><circle cx="69.2" cy="245.7" r="0.66"/><circle cx="51.4" cy="256.4" r="0.49"/><circle cx="52.3" cy="252.7" r="0.48"/><circle cx="74.8" cy="244.4" r="0.58"/><circle cx="56.8" cy="259.8" r="0.50"/><circle cx="61.1" cy="228.9" r="0.26"/><circle cx="75.5" cy="242.7" r="0.34"/><circle cx="56.4" cy="246.8" r="0.33"/><circle cx="69.7" cy="232.8" r="0.61"/><circle cx="64.9" cy="250.6" r="0.40"/><circle cx="46.7" cy="246.0" r="0.36"/><circle cx="60.7" cy="232.0" r="0.35"/><circle cx="62.9" cy="240.9" r="0.49"/><circle cx="63.2" cy="249.0" r="0.44"/><circle cx="47.9" cy="243.9" r="0.39"/><circle cx="76.1" cy="238.8" r="0.29"/><circle cx="79.3" cy="246.1" r="0.41"/><circle cx="67.8" cy="250.2" r="0.54"/><circle cx="66.7" cy="255.4" r="0.53"/><circle cx="53.1" cy="257.2" r="0.65"/><circle cx="65.6" cy="232.0" r="0.51"/><circle cx="56.6" cy="258.9" r="0.52"/><circle cx="51.1" cy="239.1" r="0.56"/><circle cx="66.1" cy="260.1" r="0.67"/><circle cx="70.5" cy="247.6" r="0.67"/><circle cx="75.8" cy="253.6" r="0.49"/><circle cx="74.6" cy="251.6" r="0.23"/><circle cx="67.5" cy="237.6" r="0.64"/><circle cx="67.1" cy="241.6" r="0.41"/><circle cx="70.7" cy="258.3" r="0.27"/><circle cx="67.2" cy="248.3" r="0.61"/><circle cx="62.0" cy="255.8" r="0.43"/><circle cx="50.9" cy="241.9" r="0.65"/><circle cx="55.2" cy="256.0" r="0.61"/><circle cx="62.1" cy="253.0" r="0.60"/><circle cx="55.0" cy="261.0" r="0.59"/><circle cx="54.6" cy="253.0" r="0.27"/><circle cx="70.1" cy="237.1" r="0.38"/><circle cx="65.6" cy="253.2" r="0.62"/><circle cx="70.9" cy="255.3" r="0.51"/><circle cx="49.2" cy="244.0" r="0.40"/><circle cx="67.6" cy="260.7" r="0.63"/><circle cx="53.6" cy="242.1" r="0.64"/><circle cx="64.0" cy="252.7" r="0.51"/><circle cx="68.4" cy="233.8" r="0.27"/><circle cx="68.8" cy="244.7" r="0.38"/><circle cx="77.7" cy="244.4" r="0.57"/><circle cx="76.5" cy="253.2" r="0.41"/><circle cx="77.6" cy="246.7" r="0.64"/><circle cx="73.3" cy="249.1" r="0.63"/><circle cx="56.9" cy="254.1" r="0.58"/><circle cx="45.2" cy="252.0" r="0.61"/><circle cx="71.3" cy="233.9" r="0.31"/><circle cx="56.6" cy="233.1" r="0.44"/><circle cx="52.8" cy="241.6" r="0.31"/><circle cx="71.0" cy="239.9" r="0.27"/><circle cx="74.4" cy="243.7" r="0.53"/><circle cx="58.1" cy="251.4" r="0.37"/><circle cx="66.5" cy="237.5" r="0.64"/><circle cx="56.1" cy="261.5" r="0.31"/><circle cx="55.8" cy="247.8" r="0.29"/><circle cx="51.1" cy="244.1" r="0.47"/><circle cx="63.9" cy="255.3" r="0.37"/><circle cx="65.9" cy="242.6" r="0.41"/><circle cx="70.0" cy="234.9" r="0.34"/><circle cx="67.7" cy="245.5" r="0.29"/><circle cx="73.6" cy="246.9" r="0.61"/><circle cx="59.9" cy="255.0" r="0.58"/><circle cx="63.9" cy="246.7" r="0.52"/><circle cx="72.8" cy="252.4" r="0.29"/><circle cx="48.6" cy="235.8" r="0.43"/><circle cx="59.7" cy="259.6" r="0.54"/><circle cx="70.0" cy="248.7" r="0.39"/><circle cx="52.5" cy="245.3" r="0.52"/><circle cx="61.2" cy="262.6" r="0.38"/><circle cx="62.7" cy="250.5" r="0.28"/><circle cx="65.4" cy="262.0" r="0.41"/><circle cx="45.4" cy="251.7" r="0.66"/><circle cx="62.7" cy="236.9" r="0.37"/><circle cx="52.7" cy="245.3" r="0.38"/><circle cx="63.8" cy="254.1" r="0.56"/><circle cx="52.3" cy="238.4" r="0.44"/><circle cx="50.6" cy="235.9" r="0.24"/><circle cx="68.5" cy="235.5" r="0.38"/><circle cx="76.8" cy="241.6" r="0.38"/><circle cx="73.5" cy="247.4" r="0.42"/><circle cx="57.9" cy="249.6" r="0.48"/><circle cx="61.3" cy="261.2" r="0.46"/><circle cx="57.5" cy="261.3" r="0.43"/><circle cx="70.0" cy="250.4" r="0.25"/><circle cx="46.4" cy="252.9" r="0.65"/><circle cx="57.7" cy="239.9" r="0.33"/><circle cx="65.0" cy="256.0" r="0.51"/><circle cx="74.2" cy="247.3" r="0.42"/><circle cx="53.2" cy="231.8" r="0.40"/><circle cx="54.4" cy="240.0" r="0.43"/><circle cx="59.1" cy="242.5" r="0.46"/><circle cx="54.1" cy="245.5" r="0.34"/><circle cx="66.5" cy="236.2" r="0.31"/><circle cx="59.0" cy="258.2" r="0.40"/><circle cx="55.8" cy="253.8" r="0.32"/><circle cx="48.0" cy="245.2" r="0.27"/><circle cx="53.5" cy="240.3" r="0.67"/><circle cx="67.8" cy="243.1" r="0.54"/><circle cx="58.4" cy="250.5" r="0.62"/><circle cx="75.1" cy="237.0" r="0.51"/><circle cx="75.0" cy="243.8" r="0.53"/><circle cx="52.3" cy="232.0" r="0.61"/><circle cx="59.1" cy="253.3" r="0.47"/><circle cx="52.8" cy="239.9" r="0.61"/><circle cx="70.4" cy="233.6" r="0.47"/><circle cx="59.1" cy="238.2" r="0.59"/><circle cx="73.6" cy="257.8" r="0.51"/><circle cx="60.5" cy="253.3" r="0.49"/><circle cx="47.3" cy="249.0" r="0.27"/><circle cx="70.1" cy="237.3" r="0.42"/><circle cx="60.8" cy="231.7" r="0.43"/><circle cx="58.6" cy="257.4" r="0.24"/><circle cx="61.2" cy="261.8" r="0.28"/><circle cx="75.9" cy="254.1" r="0.39"/><circle cx="48.3" cy="243.0" r="0.55"/><circle cx="55.2" cy="259.8" r="0.23"/><circle cx="67.5" cy="237.5" r="0.51"/><circle cx="56.7" cy="260.2" r="0.39"/><circle cx="53.7" cy="239.5" r="0.60"/><circle cx="63.2" cy="237.7" r="0.57"/><circle cx="69.9" cy="242.5" r="0.31"/><circle cx="77.7" cy="238.2" r="0.28"/><circle cx="64.6" cy="228.6" r="0.34"/><circle cx="63.7" cy="236.0" r="0.58"/><circle cx="49.5" cy="245.0" r="0.28"/><circle cx="53.2" cy="233.4" r="0.36"/><circle cx="67.0" cy="247.1" r="0.34"/><circle cx="77.2" cy="245.3" r="0.63"/><circle cx="61.8" cy="239.1" r="0.40"/><circle cx="77.5" cy="240.5" r="0.67"/><circle cx="68.2" cy="232.0" r="0.57"/><circle cx="71.9" cy="239.6" r="0.24"/><circle cx="61.0" cy="247.5" r="0.35"/><circle cx="53.9" cy="240.6" r="0.34"/><circle cx="70.7" cy="251.6" r="0.46"/><circle cx="47.2" cy="236.2" r="0.26"/><circle cx="61.6" cy="250.6" r="0.64"/><circle cx="52.0" cy="234.9" r="0.59"/><circle cx="78.8" cy="245.9" r="0.37"/><circle cx="54.0" cy="237.4" r="0.56"/><circle cx="58.8" cy="254.5" r="0.34"/><circle cx="59.9" cy="233.7" r="0.29"/><circle cx="53.5" cy="256.2" r="0.39"/><circle cx="48.1" cy="236.6" r="0.51"/><circle cx="64.9" cy="236.3" r="0.62"/><circle cx="73.9" cy="240.9" r="0.24"/><circle cx="75.1" cy="253.6" r="0.62"/><circle cx="59.8" cy="233.0" r="0.47"/><circle cx="72.1" cy="254.8" r="0.67"/><circle cx="65.6" cy="259.0" r="0.61"/><circle cx="55.6" cy="237.0" r="0.33"/><circle cx="59.9" cy="228.5" r="0.62"/><circle cx="49.3" cy="254.6" r="0.59"/><circle cx="50.8" cy="256.6" r="0.40"/><circle cx="61.9" cy="245.9" r="0.55"/><circle cx="61.9" cy="241.9" r="0.25"/><circle cx="58.4" cy="253.0" r="0.55"/><circle cx="66.8" cy="258.3" r="0.47"/><circle cx="52.2" cy="259.0" r="0.42"/><circle cx="47.3" cy="244.5" r="0.41"/><circle cx="68.6" cy="261.6" r="0.56"/><circle cx="49.7" cy="242.1" r="0.50"/><circle cx="60.5" cy="250.2" r="0.47"/><circle cx="66.3" cy="242.3" r="0.67"/><circle cx="49.3" cy="258.3" r="0.57"/><circle cx="60.7" cy="253.8" r="0.62"/><circle cx="77.7" cy="243.5" r="0.49"/><circle cx="46.6" cy="241.4" r="0.60"/><circle cx="66.6" cy="237.3" r="0.60"/><circle cx="74.8" cy="241.7" r="0.23"/><circle cx="67.2" cy="259.0" r="0.42"/><circle cx="74.2" cy="238.5" r="0.54"/><circle cx="69.3" cy="256.1" r="0.54"/><circle cx="76.5" cy="237.1" r="0.34"/><circle cx="44.1" cy="245.4" r="0.27"/><circle cx="68.7" cy="248.9" r="0.55"/><circle cx="55.0" cy="259.0" r="0.60"/><circle cx="63.1" cy="242.3" r="0.53"/><circle cx="66.3" cy="231.3" r="0.61"/><circle cx="67.6" cy="232.8" r="0.61"/><circle cx="56.2" cy="244.0" r="0.35"/><circle cx="71.2" cy="241.3" r="0.44"/><circle cx="72.1" cy="235.0" r="0.58"/><circle cx="49.3" cy="248.0" r="0.26"/><circle cx="64.0" cy="252.4" r="0.47"/><circle cx="57.1" cy="244.8" r="0.51"/><circle cx="70.7" cy="252.2" r="0.24"/><circle cx="55.1" cy="246.7" r="0.65"/><circle cx="51.3" cy="258.0" r="0.42"/><circle cx="54.2" cy="260.1" r="0.35"/><circle cx="47.6" cy="244.3" r="0.67"/><circle cx="60.6" cy="241.7" r="0.43"/><circle cx="77.6" cy="240.7" r="0.39"/><circle cx="68.2" cy="252.3" r="0.57"/><circle cx="68.9" cy="260.9" r="0.34"/><circle cx="56.3" cy="231.8" r="0.33"/><circle cx="47.7" cy="243.9" r="0.35"/><circle cx="47.9" cy="242.8" r="0.66"/><circle cx="60.2" cy="252.9" r="0.45"/><circle cx="51.6" cy="238.5" r="0.64"/><circle cx="65.6" cy="257.8" r="0.44"/><circle cx="65.7" cy="257.0" r="0.43"/><circle cx="50.7" cy="256.7" r="0.67"/><circle cx="70.0" cy="244.0" r="0.39"/><circle cx="66.7" cy="244.0" r="0.27"/><circle cx="77.9" cy="252.5" r="0.45"/><circle cx="56.7" cy="247.9" r="0.62"/><circle cx="76.6" cy="244.9" r="0.64"/><circle cx="52.7" cy="241.5" r="0.31"/><circle cx="59.5" cy="252.1" r="0.39"/><circle cx="65.2" cy="246.7" r="0.63"/><circle cx="71.1" cy="232.4" r="0.38"/><circle cx="49.3" cy="249.6" r="0.58"/><circle cx="57.6" cy="257.7" r="0.47"/><circle cx="67.5" cy="236.7" r="0.23"/><circle cx="48.0" cy="255.1" r="0.30"/><circle cx="57.2" cy="241.0" r="0.35"/><circle cx="57.7" cy="241.6" r="0.43"/><circle cx="52.3" cy="239.8" r="0.57"/><circle cx="67.2" cy="237.8" r="0.57"/><circle cx="62.3" cy="231.8" r="0.49"/><circle cx="47.8" cy="239.3" r="0.54"/><circle cx="59.9" cy="259.9" r="0.54"/><circle cx="45.4" cy="249.6" r="0.37"/><circle cx="49.0" cy="241.3" r="0.50"/><circle cx="67.7" cy="259.0" r="0.28"/><circle cx="50.1" cy="243.1" r="0.54"/><circle cx="72.9" cy="231.8" r="0.33"/><circle cx="72.2" cy="239.0" r="0.45"/><circle cx="77.8" cy="249.8" r="0.33"/><circle cx="60.1" cy="255.3" r="0.33"/><circle cx="59.5" cy="254.9" r="0.46"/><circle cx="51.9" cy="257.6" r="0.64"/><circle cx="71.8" cy="241.1" r="0.53"/><circle cx="60.1" cy="230.5" r="0.40"/><circle cx="67.3" cy="260.1" r="0.52"/><circle cx="53.1" cy="257.3" r="0.26"/><circle cx="65.4" cy="229.0" r="0.66"/><circle cx="73.0" cy="255.4" r="0.58"/><circle cx="70.6" cy="256.4" r="0.31"/><circle cx="62.4" cy="248.5" r="0.35"/><circle cx="69.8" cy="234.5" r="0.58"/><circle cx="68.6" cy="244.3" r="0.61"/><circle cx="73.2" cy="236.8" r="0.38"/><circle cx="67.1" cy="256.2" r="0.39"/><circle cx="60.8" cy="260.2" r="0.51"/><circle cx="61.4" cy="253.0" r="0.45"/><circle cx="58.3" cy="231.5" r="0.51"/><circle cx="74.2" cy="236.2" r="0.42"/><circle cx="61.4" cy="231.0" r="0.38"/><circle cx="67.3" cy="255.1" r="0.55"/><circle cx="61.8" cy="235.7" r="0.47"/><circle cx="74.1" cy="251.9" r="0.43"/><circle cx="63.7" cy="229.1" r="0.25"/><circle cx="69.0" cy="244.0" r="0.66"/><circle cx="70.2" cy="244.8" r="0.36"/><circle cx="72.2" cy="259.1" r="0.57"/><circle cx="77.5" cy="242.2" r="0.39"/><circle cx="63.4" cy="235.1" r="0.37"/><circle cx="48.4" cy="252.3" r="0.37"/><circle cx="49.3" cy="240.6" r="0.58"/><circle cx="50.4" cy="247.8" r="0.47"/><circle cx="47.0" cy="249.3" r="0.27"/><circle cx="63.3" cy="248.7" r="0.41"/><circle cx="69.8" cy="234.3" r="0.51"/><circle cx="76.7" cy="239.2" r="0.36"/><circle cx="64.1" cy="258.5" r="0.33"/><circle cx="57.7" cy="242.7" r="0.40"/><circle cx="60.2" cy="236.7" r="0.29"/><circle cx="61.7" cy="237.7" r="0.63"/><circle cx="49.0" cy="234.6" r="0.46"/><circle cx="52.7" cy="246.2" r="0.25"/><circle cx="69.8" cy="243.2" r="0.26"/><circle cx="73.7" cy="240.2" r="0.49"/><circle cx="75.1" cy="238.2" r="0.34"/><circle cx="58.8" cy="259.8" r="0.53"/><circle cx="63.2" cy="254.4" r="0.45"/><circle cx="76.7" cy="251.5" r="0.52"/><circle cx="69.7" cy="256.7" r="0.49"/><circle cx="71.7" cy="251.8" r="0.58"/><circle cx="47.2" cy="249.9" r="0.33"/><circle cx="76.4" cy="245.4" r="0.48"/><circle cx="72.4" cy="246.3" r="0.23"/><circle cx="54.8" cy="248.4" r="0.33"/><circle cx="59.5" cy="252.0" r="0.35"/><circle cx="55.3" cy="245.4" r="0.48"/><circle cx="76.2" cy="240.8" r="0.65"/><circle cx="73.1" cy="254.8" r="0.33"/><circle cx="73.3" cy="240.6" r="0.55"/><circle cx="62.9" cy="239.2" r="0.27"/><circle cx="67.8" cy="230.6" r="0.42"/><circle cx="64.5" cy="246.0" r="0.59"/><circle cx="58.1" cy="235.3" r="0.53"/><circle cx="62.3" cy="244.2" r="0.56"/><circle cx="78.3" cy="243.3" r="0.62"/><circle cx="48.9" cy="250.7" r="0.28"/><circle cx="65.6" cy="231.6" r="0.41"/><circle cx="69.0" cy="247.9" r="0.41"/><circle cx="72.6" cy="239.7" r="0.61"/><circle cx="65.3" cy="253.9" r="0.33"/><circle cx="58.1" cy="261.1" r="0.39"/><circle cx="55.5" cy="258.9" r="0.43"/><circle cx="72.6" cy="235.3" r="0.60"/><circle cx="51.7" cy="250.5" r="0.43"/><circle cx="79.1" cy="244.3" r="0.48"/><circle cx="57.0" cy="245.8" r="0.61"/><circle cx="53.0" cy="238.3" r="0.30"/><circle cx="47.0" cy="248.3" r="0.35"/><circle cx="60.6" cy="258.3" r="0.45"/><circle cx="66.3" cy="245.8" r="0.39"/><circle cx="59.0" cy="234.9" r="0.23"/><circle cx="62.1" cy="253.5" r="0.57"/><circle cx="64.3" cy="263.1" r="0.35"/><circle cx="62.8" cy="247.8" r="0.45"/><circle cx="46.1" cy="244.0" r="0.53"/><circle cx="57.8" cy="244.5" r="0.64"/><circle cx="61.9" cy="254.3" r="0.30"/><circle cx="49.5" cy="238.0" r="0.37"/><circle cx="61.7" cy="247.5" r="0.49"/><circle cx="60.3" cy="239.6" r="0.33"/><circle cx="62.0" cy="230.5" r="0.29"/><circle cx="76.9" cy="244.5" r="0.55"/><circle cx="54.2" cy="261.4" r="0.42"/><circle cx="50.2" cy="232.2" r="0.60"/><circle cx="64.7" cy="251.4" r="0.32"/><circle cx="74.1" cy="257.1" r="0.47"/><circle cx="51.1" cy="247.2" r="0.45"/><circle cx="47.8" cy="251.5" r="0.41"/><circle cx="72.8" cy="233.4" r="0.62"/><circle cx="61.8" cy="238.2" r="0.41"/><circle cx="67.5" cy="236.6" r="0.48"/><circle cx="65.7" cy="261.3" r="0.38"/><circle cx="51.4" cy="257.9" r="0.27"/><circle cx="73.4" cy="246.1" r="0.43"/><circle cx="70.3" cy="252.9" r="0.57"/><circle cx="74.6" cy="234.1" r="0.58"/><circle cx="71.5" cy="250.4" r="0.43"/><circle cx="77.3" cy="248.4" r="0.35"/><circle cx="64.5" cy="231.2" r="0.35"/><circle cx="55.2" cy="255.6" r="0.31"/><circle cx="73.4" cy="246.4" r="0.33"/><circle cx="61.3" cy="261.4" r="0.56"/><circle cx="59.4" cy="247.1" r="0.57"/><circle cx="61.3" cy="251.2" r="0.56"/><circle cx="69.3" cy="240.5" r="0.47"/><circle cx="71.6" cy="237.2" r="0.38"/><circle cx="63.5" cy="248.1" r="0.63"/><circle cx="64.7" cy="238.6" r="0.52"/><circle cx="67.3" cy="260.0" r="0.39"/><circle cx="57.5" cy="233.3" r="0.26"/><circle cx="48.7" cy="239.5" r="0.25"/><circle cx="70.8" cy="247.7" r="0.55"/><circle cx="73.6" cy="243.9" r="0.61"/><circle cx="59.5" cy="236.6" r="0.43"/><circle cx="68.8" cy="235.3" r="0.45"/><circle cx="60.6" cy="238.8" r="0.43"/><circle cx="48.4" cy="243.9" r="0.54"/><circle cx="60.2" cy="257.8" r="0.43"/><circle cx="74.4" cy="255.2" r="0.66"/><circle cx="51.1" cy="241.4" r="0.39"/><circle cx="51.4" cy="248.7" r="0.35"/><circle cx="72.1" cy="242.2" r="0.32"/><circle cx="61.1" cy="244.5" r="0.38"/><circle cx="46.8" cy="239.6" r="0.36"/><circle cx="78.4" cy="251.3" r="0.23"/><circle cx="50.7" cy="251.9" r="0.67"/><circle cx="56.4" cy="252.5" r="0.35"/><circle cx="57.0" cy="250.4" r="0.63"/><circle cx="46.5" cy="244.3" r="0.35"/><circle cx="53.2" cy="230.8" r="0.33"/><circle cx="71.0" cy="243.0" r="0.55"/><circle cx="73.2" cy="241.3" r="0.64"/><circle cx="52.4" cy="252.8" r="0.64"/><circle cx="58.5" cy="243.1" r="0.29"/><circle cx="51.6" cy="243.3" r="0.25"/><circle cx="65.8" cy="236.2" r="0.63"/><circle cx="56.7" cy="251.3" r="0.42"/><circle cx="69.7" cy="230.5" r="0.48"/><circle cx="61.7" cy="258.6" r="0.34"/><circle cx="60.8" cy="246.8" r="0.23"/><circle cx="76.1" cy="239.2" r="0.33"/><circle cx="59.1" cy="243.2" r="0.60"/><circle cx="50.3" cy="235.7" r="0.42"/><circle cx="47.0" cy="252.0" r="0.37"/><circle cx="67.2" cy="248.4" r="0.64"/><circle cx="61.0" cy="250.0" r="0.48"/><circle cx="69.8" cy="254.1" r="0.57"/><circle cx="63.0" cy="257.1" r="0.64"/><circle cx="73.1" cy="233.4" r="0.24"/><circle cx="75.0" cy="243.3" r="0.29"/><circle cx="77.5" cy="244.2" r="0.71"/><circle cx="77.2" cy="248.6" r="0.48"/><circle cx="48.7" cy="234.9" r="0.64"/><circle cx="75.2" cy="256.4" r="0.41"/><circle cx="78.1" cy="240.8" r="0.58"/><circle cx="73.7" cy="258.7" r="0.40"/><circle cx="66.0" cy="261.5" r="0.62"/><circle cx="54.5" cy="260.5" r="0.54"/><circle cx="62.1" cy="261.4" r="0.45"/><circle cx="57.8" cy="229.0" r="0.37"/><circle cx="52.2" cy="231.0" r="0.59"/><circle cx="68.2" cy="259.8" r="0.71"/><circle cx="57.7" cy="230.0" r="0.60"/><circle cx="46.9" cy="237.4" r="0.43"/><circle cx="53.7" cy="231.3" r="0.44"/><circle cx="54.0" cy="261.0" r="0.66"/><circle cx="57.8" cy="260.7" r="0.38"/><circle cx="62.4" cy="229.3" r="0.27"/><circle cx="71.0" cy="231.8" r="0.30"/><circle cx="61.5" cy="228.9" r="0.65"/><circle cx="70.7" cy="230.6" r="0.67"/><circle cx="48.8" cy="257.2" r="0.49"/><circle cx="52.5" cy="232.5" r="0.55"/><circle cx="77.5" cy="253.4" r="0.35"/><circle cx="45.9" cy="238.2" r="0.64"/><circle cx="72.0" cy="232.6" r="0.30"/><circle cx="78.0" cy="244.1" r="0.66"/><circle cx="47.8" cy="254.5" r="0.51"/><circle cx="45.2" cy="240.7" r="0.53"/><circle cx="70.1" cy="260.2" r="0.31"/><circle cx="71.5" cy="233.0" r="0.43"/><circle cx="48.0" cy="236.8" r="0.67"/><circle cx="66.1" cy="229.9" r="0.46"/><circle cx="60.5" cy="228.9" r="0.56"/><circle cx="53.1" cy="260.0" r="0.54"/><circle cx="75.0" cy="236.0" r="0.63"/><circle cx="65.4" cy="261.4" r="0.37"/><circle cx="76.0" cy="238.8" r="0.40"/><circle cx="45.0" cy="249.0" r="0.57"/><circle cx="73.7" cy="257.0" r="0.59"/><circle cx="71.6" cy="258.0" r="0.64"/><circle cx="77.5" cy="245.6" r="0.35"/><circle cx="70.1" cy="231.6" r="0.46"/><circle cx="44.8" cy="241.1" r="0.29"/><circle cx="67.5" cy="261.0" r="0.56"/><circle cx="72.9" cy="257.9" r="0.53"/><circle cx="76.7" cy="252.1" r="0.30"/><circle cx="74.9" cy="237.3" r="0.34"/><circle cx="49.7" cy="235.1" r="0.53"/><circle cx="52.1" cy="260.6" r="0.53"/><circle cx="52.2" cy="258.3" r="0.49"/><circle cx="64.3" cy="228.6" r="0.59"/><circle cx="44.2" cy="243.8" r="0.45"/><circle cx="44.8" cy="240.4" r="0.63"/></g>
<circle cx="112.90" cy="201.60" r="21.40" fill="#e2dce6" stroke="#d2c8d4" stroke-width="1.0"/>
<circle cx="112.90" cy="201.60" r="18.40" fill="#dac8dc" filter="url(#blur1)"/>
<g fill="#7e3a9c" opacity="0.75" filter="url(#blur05)"><circle cx="97.0" cy="204.2" r="0.57"/><circle cx="109.8" cy="212.6" r="0.57"/><circle cx="105.4" cy="209.2" r="0.47"/><circle cx="121.1" cy="205.8" r="0.67"/><circle cx="113.0" cy="217.8" r="0.23"/><circle cx="108.3" cy="213.7" r="0.37"/><circle cx="129.5" cy="195.5" r="0.36"/><circle cx="124.2" cy="214.7" r="0.58"/><circle cx="108.6" cy="201.1" r="0.23"/><circle cx="107.3" cy="187.8" r="0.43"/><circle cx="108.2" cy="209.8" r="0.39"/><circle cx="100.6" cy="208.5" r="0.41"/><circle cx="108.4" cy="208.9" r="0.52"/><circle cx="120.0" cy="198.6" r="0.57"/><circle cx="107.6" cy="194.7" r="0.29"/><circle cx="116.5" cy="195.6" r="0.28"/><circle cx="126.6" cy="210.4" r="0.40"/><circle cx="122.5" cy="201.7" r="0.46"/><circle cx="106.1" cy="202.7" r="0.61"/><circle cx="109.8" cy="192.7" r="0.37"/><circle cx="112.8" cy="204.2" r="0.50"/><circle cx="110.7" cy="216.1" r="0.60"/><circle cx="108.8" cy="210.3" r="0.39"/><circle cx="109.0" cy="202.2" r="0.40"/><circle cx="110.6" cy="207.1" r="0.60"/><circle cx="108.7" cy="189.7" r="0.26"/><circle cx="111.3" cy="190.6" r="0.62"/><circle cx="107.6" cy="194.6" r="0.56"/><circle cx="103.9" cy="195.8" r="0.58"/><circle cx="109.6" cy="207.6" r="0.24"/><circle cx="105.8" cy="195.4" r="0.30"/><circle cx="128.1" cy="206.3" r="0.35"/><circle cx="123.7" cy="188.4" r="0.59"/><circle cx="115.7" cy="218.9" r="0.51"/><circle cx="122.7" cy="187.5" r="0.37"/><circle cx="100.8" cy="213.7" r="0.36"/><circle cx="115.8" cy="203.7" r="0.48"/><circle cx="106.7" cy="218.0" r="0.23"/><circle cx="100.7" cy="210.7" r="0.50"/><circle cx="120.2" cy="189.0" r="0.62"/><circle cx="129.3" cy="198.2" r="0.50"/><circle cx="102.3" cy="209.4" r="0.32"/><circle cx="112.5" cy="214.6" r="0.42"/><circle cx="108.9" cy="205.0" r="0.67"/><circle cx="106.7" cy="212.5" r="0.38"/><circle cx="97.9" cy="196.2" r="0.65"/><circle cx="99.0" cy="191.0" r="0.39"/><circle cx="102.6" cy="203.4" r="0.66"/><circle cx="118.8" cy="207.8" r="0.57"/><circle cx="113.2" cy="206.2" r="0.39"/><circle cx="101.0" cy="204.3" r="0.33"/><circle cx="107.3" cy="209.5" r="0.30"/><circle cx="104.3" cy="201.2" r="0.31"/><circle cx="128.2" cy="194.3" r="0.40"/><circle cx="107.4" cy="200.6" r="0.23"/><circle cx="95.4" cy="200.1" r="0.26"/><circle cx="97.5" cy="206.1" r="0.23"/><circle cx="105.0" cy="196.8" r="0.56"/><circle cx="120.4" cy="186.4" r="0.58"/><circle cx="125.4" cy="209.2" r="0.48"/><circle cx="110.3" cy="209.3" r="0.44"/><circle cx="102.7" cy="207.0" r="0.65"/><circle cx="114.9" cy="218.2" r="0.29"/><circle cx="108.5" cy="190.4" r="0.40"/><circle cx="106.4" cy="202.5" r="0.32"/><circle cx="106.2" cy="205.8" r="0.61"/><circle cx="107.7" cy="188.3" r="0.54"/><circle cx="113.9" cy="203.2" r="0.26"/><circle cx="122.3" cy="193.2" r="0.66"/><circle cx="107.9" cy="211.6" r="0.52"/><circle cx="119.6" cy="191.9" r="0.44"/><circle cx="107.5" cy="208.5" r="0.63"/><circle cx="122.7" cy="194.9" r="0.29"/><circle cx="121.3" cy="192.7" r="0.56"/><circle cx="108.5" cy="204.2" r="0.56"/><circle cx="126.6" cy="212.4" r="0.30"/><circle cx="112.3" cy="202.5" r="0.32"/><circle cx="109.7" cy="197.2" r="0.28"/><circle cx="114.8" cy="202.4" r="0.46"/><circle cx="115.3" cy="217.1" r="0.53"/><circle cx="95.5" cy="201.1" r="0.66"/><circle cx="107.3" cy="216.4" r="0.54"/><circle cx="119.1" cy="216.3" r="0.24"/><circle cx="104.9" cy="186.4" r="0.52"/><circle cx="108.1" cy="187.8" r="0.41"/><circle cx="121.4" cy="208.7" r="0.37"/><circle cx="119.4" cy="186.0" r="0.66"/><circle cx="104.4" cy="216.4" r="0.63"/><circle cx="126.1" cy="203.3" r="0.27"/><circle cx="123.4" cy="207.4" r="0.54"/><circle cx="117.3" cy="210.8" r="0.44"/><circle cx="106.8" cy="199.9" r="0.30"/><circle cx="123.1" cy="202.5" r="0.67"/><circle cx="119.0" cy="216.0" r="0.52"/><circle cx="123.2" cy="189.1" r="0.25"/><circle cx="105.0" cy="216.0" r="0.52"/><circle cx="114.9" cy="199.0" r="0.60"/><circle cx="100.2" cy="211.3" r="0.49"/><circle cx="104.8" cy="211.9" r="0.24"/><circle cx="128.4" cy="195.0" r="0.52"/><circle cx="103.6" cy="189.3" r="0.42"/><circle cx="113.5" cy="216.1" r="0.67"/><circle cx="123.8" cy="189.7" r="0.30"/><circle cx="109.3" cy="210.4" r="0.48"/><circle cx="124.4" cy="193.3" r="0.49"/><circle cx="106.1" cy="204.9" r="0.34"/><circle cx="130.0" cy="199.7" r="0.52"/><circle cx="109.6" cy="193.7" r="0.24"/><circle cx="115.3" cy="202.0" r="0.32"/><circle cx="126.5" cy="200.0" r="0.32"/><circle cx="114.9" cy="202.9" r="0.23"/><circle cx="119.8" cy="209.5" r="0.30"/><circle cx="114.8" cy="215.7" r="0.28"/><circle cx="123.3" cy="213.5" r="0.35"/><circle cx="106.3" cy="194.6" r="0.54"/><circle cx="122.3" cy="202.2" r="0.61"/><circle cx="109.1" cy="215.5" r="0.32"/><circle cx="122.1" cy="208.9" r="0.43"/><circle cx="125.7" cy="204.5" r="0.42"/><circle cx="103.0" cy="213.8" r="0.62"/><circle cx="104.6" cy="207.1" r="0.57"/><circle cx="113.6" cy="188.7" r="0.50"/><circle cx="104.5" cy="214.5" r="0.49"/><circle cx="119.1" cy="193.9" r="0.26"/><circle cx="122.1" cy="191.3" r="0.59"/><circle cx="112.5" cy="185.8" r="0.39"/><circle cx="122.2" cy="191.0" r="0.41"/><circle cx="115.7" cy="206.4" r="0.33"/><circle cx="108.5" cy="211.0" r="0.50"/><circle cx="126.0" cy="198.2" r="0.52"/><circle cx="127.9" cy="202.6" r="0.47"/><circle cx="114.7" cy="191.1" r="0.51"/><circle cx="97.0" cy="200.4" r="0.42"/><circle cx="120.5" cy="186.6" r="0.46"/><circle cx="97.7" cy="201.4" r="0.46"/><circle cx="130.0" cy="198.3" r="0.45"/><circle cx="110.7" cy="196.2" r="0.63"/><circle cx="110.8" cy="199.6" r="0.23"/><circle cx="121.9" cy="188.4" r="0.50"/><circle cx="105.6" cy="206.6" r="0.44"/><circle cx="124.9" cy="193.7" r="0.24"/><circle cx="114.3" cy="206.7" r="0.61"/><circle cx="122.8" cy="187.4" r="0.42"/><circle cx="111.1" cy="205.7" r="0.34"/><circle cx="106.6" cy="210.9" r="0.38"/><circle cx="110.6" cy="185.0" r="0.40"/><circle cx="116.9" cy="192.7" r="0.34"/><circle cx="114.5" cy="196.4" r="0.26"/><circle cx="125.3" cy="201.0" r="0.41"/><circle cx="115.2" cy="184.7" r="0.39"/><circle cx="115.1" cy="195.5" r="0.62"/><circle cx="103.3" cy="207.4" r="0.23"/><circle cx="123.1" cy="206.3" r="0.28"/><circle cx="103.3" cy="186.4" r="0.36"/><circle cx="113.2" cy="187.8" r="0.50"/><circle cx="115.0" cy="189.2" r="0.60"/><circle cx="121.0" cy="214.1" r="0.46"/><circle cx="115.7" cy="209.8" r="0.65"/><circle cx="104.6" cy="192.0" r="0.45"/><circle cx="121.3" cy="189.9" r="0.32"/><circle cx="128.3" cy="195.3" r="0.58"/><circle cx="109.2" cy="187.3" r="0.37"/><circle cx="128.0" cy="199.4" r="0.30"/><circle cx="117.2" cy="190.6" r="0.25"/><circle cx="119.2" cy="195.8" r="0.41"/><circle cx="123.7" cy="208.9" r="0.47"/><circle cx="120.6" cy="185.8" r="0.62"/><circle cx="107.3" cy="191.6" r="0.65"/><circle cx="114.3" cy="211.6" r="0.48"/><circle cx="103.7" cy="211.6" r="0.28"/><circle cx="113.0" cy="204.2" r="0.42"/><circle cx="113.9" cy="217.9" r="0.34"/><circle cx="118.4" cy="215.9" r="0.31"/><circle cx="119.9" cy="190.5" r="0.29"/><circle cx="107.4" cy="184.4" r="0.36"/><circle cx="100.4" cy="197.1" r="0.65"/><circle cx="117.4" cy="201.2" r="0.40"/><circle cx="117.0" cy="190.7" r="0.45"/><circle cx="111.1" cy="200.8" r="0.24"/><circle cx="122.0" cy="194.8" r="0.42"/><circle cx="98.3" cy="196.0" r="0.63"/><circle cx="125.3" cy="208.8" r="0.23"/><circle cx="97.3" cy="197.0" r="0.44"/><circle cx="101.6" cy="213.9" r="0.54"/><circle cx="124.3" cy="194.8" r="0.36"/><circle cx="108.5" cy="189.8" r="0.23"/><circle cx="125.0" cy="214.4" r="0.52"/><circle cx="128.2" cy="204.8" r="0.57"/><circle cx="130.1" cy="206.8" r="0.30"/><circle cx="97.7" cy="200.9" r="0.44"/><circle cx="105.7" cy="211.8" r="0.51"/><circle cx="129.1" cy="196.6" r="0.67"/><circle cx="117.1" cy="189.9" r="0.38"/><circle cx="127.5" cy="192.3" r="0.36"/><circle cx="115.3" cy="191.2" r="0.25"/><circle cx="96.1" cy="204.5" r="0.47"/><circle cx="119.4" cy="186.4" r="0.58"/><circle cx="107.8" cy="218.0" r="0.26"/><circle cx="107.7" cy="201.4" r="0.40"/><circle cx="125.2" cy="190.9" r="0.67"/><circle cx="100.8" cy="196.8" r="0.30"/><circle cx="95.8" cy="203.2" r="0.38"/><circle cx="119.0" cy="193.7" r="0.59"/><circle cx="119.3" cy="218.1" r="0.28"/><circle cx="124.8" cy="208.2" r="0.57"/><circle cx="110.1" cy="190.5" r="0.55"/><circle cx="115.8" cy="211.5" r="0.35"/><circle cx="113.5" cy="205.3" r="0.32"/><circle cx="99.3" cy="198.0" r="0.38"/><circle cx="104.9" cy="194.9" r="0.59"/><circle cx="128.7" cy="202.9" r="0.63"/><circle cx="100.3" cy="194.7" r="0.67"/><circle cx="116.3" cy="206.0" r="0.45"/><circle cx="110.7" cy="188.6" r="0.44"/><circle cx="101.8" cy="206.6" r="0.62"/><circle cx="126.2" cy="207.7" r="0.27"/><circle cx="118.0" cy="193.9" r="0.58"/><circle cx="106.8" cy="214.6" r="0.45"/><circle cx="124.8" cy="198.2" r="0.46"/><circle cx="103.9" cy="201.5" r="0.65"/><circle cx="109.1" cy="207.5" r="0.32"/><circle cx="109.6" cy="184.8" r="0.49"/><circle cx="121.1" cy="199.3" r="0.62"/><circle cx="113.8" cy="193.3" r="0.27"/><circle cx="102.6" cy="207.0" r="0.45"/><circle cx="111.4" cy="193.1" r="0.34"/><circle cx="109.3" cy="207.9" r="0.42"/><circle cx="105.3" cy="196.1" r="0.29"/><circle cx="112.2" cy="196.3" r="0.61"/><circle cx="106.4" cy="195.9" r="0.23"/><circle cx="114.4" cy="199.4" r="0.56"/><circle cx="98.3" cy="198.4" r="0.32"/><circle cx="111.8" cy="192.6" r="0.49"/><circle cx="126.5" cy="198.5" r="0.30"/><circle cx="113.5" cy="213.1" r="0.60"/><circle cx="116.2" cy="190.8" r="0.49"/><circle cx="105.2" cy="211.6" r="0.37"/><circle cx="123.3" cy="197.9" r="0.37"/><circle cx="106.8" cy="195.7" r="0.28"/><circle cx="97.5" cy="207.2" r="0.39"/><circle cx="110.9" cy="211.1" r="0.50"/><circle cx="111.3" cy="214.7" r="0.46"/><circle cx="122.8" cy="204.1" r="0.59"/><circle cx="116.7" cy="216.7" r="0.26"/><circle cx="101.2" cy="202.4" r="0.52"/><circle cx="119.2" cy="201.8" r="0.41"/><circle cx="124.0" cy="195.3" r="0.61"/><circle cx="95.3" cy="198.1" r="0.26"/><circle cx="119.1" cy="194.9" r="0.32"/><circle cx="101.4" cy="199.7" r="0.67"/><circle cx="127.0" cy="195.6" r="0.34"/><circle cx="114.2" cy="213.5" r="0.37"/><circle cx="114.5" cy="209.6" r="0.34"/><circle cx="111.1" cy="207.3" r="0.36"/><circle cx="128.6" cy="196.7" r="0.50"/><circle cx="129.7" cy="196.9" r="0.27"/><circle cx="122.9" cy="204.6" r="0.46"/><circle cx="115.9" cy="201.6" r="0.54"/><circle cx="115.3" cy="192.7" r="0.57"/><circle cx="116.6" cy="197.5" r="0.52"/><circle cx="97.3" cy="204.3" r="0.29"/><circle cx="111.9" cy="199.9" r="0.24"/><circle cx="103.2" cy="206.0" r="0.42"/><circle cx="117.4" cy="219.0" r="0.41"/><circle cx="102.1" cy="201.8" r="0.62"/><circle cx="121.7" cy="216.6" r="0.31"/><circle cx="121.3" cy="193.3" r="0.49"/><circle cx="114.4" cy="217.8" r="0.32"/><circle cx="116.2" cy="187.3" r="0.63"/><circle cx="129.0" cy="200.5" r="0.30"/><circle cx="115.2" cy="196.3" r="0.59"/><circle cx="118.8" cy="198.5" r="0.24"/><circle cx="116.9" cy="191.7" r="0.53"/><circle cx="120.2" cy="185.7" r="0.46"/><circle cx="122.3" cy="187.2" r="0.57"/><circle cx="101.1" cy="214.2" r="0.41"/><circle cx="122.0" cy="195.1" r="0.44"/><circle cx="118.6" cy="202.9" r="0.64"/><circle cx="98.1" cy="205.8" r="0.44"/><circle cx="110.9" cy="188.7" r="0.29"/><circle cx="107.2" cy="214.8" r="0.30"/><circle cx="117.1" cy="200.0" r="0.48"/><circle cx="123.5" cy="190.4" r="0.29"/><circle cx="124.8" cy="211.0" r="0.41"/><circle cx="118.1" cy="205.3" r="0.52"/><circle cx="122.5" cy="203.1" r="0.65"/><circle cx="112.7" cy="218.2" r="0.24"/><circle cx="114.1" cy="205.4" r="0.55"/><circle cx="98.5" cy="195.1" r="0.59"/><circle cx="111.9" cy="195.8" r="0.43"/><circle cx="128.7" cy="204.9" r="0.39"/><circle cx="96.3" cy="205.5" r="0.67"/><circle cx="104.0" cy="194.8" r="0.62"/><circle cx="117.6" cy="194.7" r="0.43"/><circle cx="129.8" cy="195.9" r="0.64"/><circle cx="105.6" cy="202.2" r="0.63"/><circle cx="116.8" cy="215.0" r="0.40"/><circle cx="119.2" cy="192.7" r="0.39"/><circle cx="121.8" cy="189.1" r="0.67"/><circle cx="117.7" cy="206.1" r="0.53"/><circle cx="95.9" cy="201.9" r="0.43"/><circle cx="124.8" cy="205.3" r="0.34"/><circle cx="117.9" cy="186.2" r="0.61"/><circle cx="123.4" cy="210.2" r="0.31"/><circle cx="119.8" cy="200.6" r="0.52"/><circle cx="111.3" cy="193.7" r="0.49"/><circle cx="115.9" cy="204.5" r="0.35"/><circle cx="123.5" cy="207.2" r="0.53"/><circle cx="121.1" cy="197.4" r="0.44"/><circle cx="109.1" cy="192.2" r="0.36"/><circle cx="101.6" cy="213.6" r="0.39"/><circle cx="113.7" cy="194.7" r="0.36"/><circle cx="110.7" cy="209.9" r="0.30"/><circle cx="100.0" cy="211.5" r="0.52"/><circle cx="123.0" cy="201.1" r="0.36"/><circle cx="113.5" cy="214.2" r="0.28"/><circle cx="116.8" cy="190.5" r="0.24"/><circle cx="101.1" cy="201.2" r="0.31"/><circle cx="108.1" cy="215.6" r="0.67"/><circle cx="105.6" cy="196.0" r="0.24"/><circle cx="108.9" cy="209.5" r="0.42"/><circle cx="103.8" cy="204.6" r="0.30"/><circle cx="128.8" cy="194.1" r="0.55"/><circle cx="125.1" cy="195.7" r="0.56"/><circle cx="99.2" cy="206.9" r="0.61"/><circle cx="108.6" cy="186.1" r="0.50"/><circle cx="103.8" cy="215.0" r="0.63"/><circle cx="113.6" cy="208.9" r="0.23"/><circle cx="113.2" cy="209.3" r="0.32"/><circle cx="118.0" cy="210.4" r="0.30"/><circle cx="117.5" cy="200.4" r="0.23"/><circle cx="122.7" cy="196.3" r="0.56"/><circle cx="112.0" cy="203.5" r="0.24"/><circle cx="116.5" cy="199.7" r="0.43"/><circle cx="111.8" cy="216.0" r="0.39"/><circle cx="115.9" cy="193.8" r="0.47"/><circle cx="125.9" cy="199.9" r="0.65"/><circle cx="129.0" cy="206.7" r="0.40"/><circle cx="128.0" cy="201.3" r="0.34"/><circle cx="113.8" cy="194.3" r="0.46"/><circle cx="112.5" cy="194.2" r="0.25"/><circle cx="117.1" cy="195.0" r="0.57"/><circle cx="105.1" cy="203.0" r="0.61"/><circle cx="106.5" cy="208.2" r="0.63"/><circle cx="123.3" cy="200.9" r="0.66"/><circle cx="125.3" cy="211.7" r="0.49"/><circle cx="113.3" cy="213.0" r="0.37"/><circle cx="107.5" cy="191.2" r="0.42"/><circle cx="107.6" cy="192.4" r="0.26"/><circle cx="96.1" cy="202.3" r="0.33"/><circle cx="110.8" cy="218.7" r="0.30"/><circle cx="122.5" cy="199.1" r="0.32"/><circle cx="110.0" cy="184.8" r="0.44"/><circle cx="112.1" cy="208.0" r="0.23"/><circle cx="108.5" cy="186.7" r="0.37"/><circle cx="97.3" cy="204.2" r="0.54"/><circle cx="105.6" cy="185.9" r="0.33"/><circle cx="127.0" cy="199.2" r="0.37"/><circle cx="108.7" cy="192.6" r="0.41"/><circle cx="120.1" cy="187.1" r="0.49"/><circle cx="118.8" cy="185.9" r="0.40"/><circle cx="128.5" cy="209.6" r="0.25"/><circle cx="107.5" cy="203.6" r="0.47"/><circle cx="113.5" cy="198.3" r="0.45"/><circle cx="100.8" cy="210.0" r="0.63"/><circle cx="110.8" cy="197.7" r="0.38"/><circle cx="105.8" cy="203.2" r="0.61"/><circle cx="106.0" cy="209.9" r="0.32"/><circle cx="97.1" cy="197.9" r="0.28"/><circle cx="103.1" cy="201.6" r="0.25"/><circle cx="101.4" cy="210.2" r="0.50"/><circle cx="128.0" cy="201.2" r="0.64"/><circle cx="110.8" cy="186.8" r="0.63"/><circle cx="123.3" cy="189.8" r="0.37"/><circle cx="109.5" cy="218.0" r="0.24"/><circle cx="100.2" cy="212.1" r="0.36"/><circle cx="102.3" cy="201.7" r="0.51"/><circle cx="115.0" cy="197.7" r="0.41"/><circle cx="120.1" cy="192.5" r="0.66"/><circle cx="111.2" cy="214.3" r="0.30"/><circle cx="121.3" cy="192.4" r="0.60"/><circle cx="109.4" cy="193.0" r="0.61"/><circle cx="128.7" cy="208.8" r="0.58"/><circle cx="113.3" cy="215.3" r="0.38"/><circle cx="95.7" cy="205.1" r="0.43"/><circle cx="109.6" cy="199.7" r="0.25"/><circle cx="101.3" cy="203.3" r="0.65"/><circle cx="97.5" cy="194.3" r="0.48"/><circle cx="122.2" cy="197.3" r="0.24"/><circle cx="113.1" cy="187.0" r="0.31"/><circle cx="115.5" cy="213.7" r="0.63"/><circle cx="107.1" cy="191.2" r="0.48"/><circle cx="106.4" cy="210.8" r="0.31"/><circle cx="112.0" cy="199.0" r="0.46"/><circle cx="118.7" cy="205.2" r="0.57"/><circle cx="121.3" cy="191.8" r="0.66"/><circle cx="109.5" cy="188.8" r="0.50"/><circle cx="118.5" cy="201.9" r="0.56"/><circle cx="100.4" cy="214.2" r="0.34"/><circle cx="111.2" cy="209.7" r="0.64"/><circle cx="104.1" cy="199.0" r="0.25"/><circle cx="111.0" cy="200.5" r="0.61"/><circle cx="121.5" cy="214.8" r="0.61"/><circle cx="109.5" cy="215.0" r="0.53"/><circle cx="101.8" cy="204.7" r="0.62"/><circle cx="112.4" cy="215.2" r="0.23"/><circle cx="96.8" cy="194.1" r="0.40"/><circle cx="111.9" cy="191.3" r="0.39"/><circle cx="99.6" cy="212.1" r="0.37"/><circle cx="125.7" cy="205.3" r="0.49"/><circle cx="103.2" cy="194.0" r="0.36"/><circle cx="111.0" cy="192.8" r="0.34"/><circle cx="114.8" cy="205.5" r="0.32"/><circle cx="107.8" cy="191.5" r="0.43"/><circle cx="114.0" cy="210.7" r="0.53"/><circle cx="119.2" cy="199.1" r="0.54"/><circle cx="125.8" cy="198.3" r="0.63"/><circle cx="119.6" cy="216.1" r="0.27"/><circle cx="114.1" cy="207.1" r="0.23"/><circle cx="113.5" cy="191.0" r="0.39"/><circle cx="111.9" cy="192.6" r="0.61"/><circle cx="120.0" cy="218.0" r="0.62"/><circle cx="95.5" cy="201.6" r="0.61"/><circle cx="122.3" cy="198.7" r="0.41"/><circle cx="109.0" cy="213.0" r="0.47"/><circle cx="119.4" cy="193.6" r="0.48"/><circle cx="110.9" cy="213.5" r="0.25"/><circle cx="99.2" cy="197.9" r="0.49"/><circle cx="121.7" cy="192.0" r="0.35"/><circle cx="123.8" cy="198.1" r="0.31"/><circle cx="97.8" cy="200.8" r="0.35"/><circle cx="113.5" cy="206.8" r="0.48"/><circle cx="101.5" cy="213.0" r="0.30"/><circle cx="107.6" cy="197.1" r="0.31"/><circle cx="123.9" cy="211.1" r="0.55"/><circle cx="97.9" cy="208.1" r="0.59"/><circle cx="122.5" cy="190.8" r="0.43"/><circle cx="99.0" cy="209.7" r="0.36"/><circle cx="113.6" cy="219.6" r="0.65"/><circle cx="103.6" cy="188.0" r="0.25"/><circle cx="115.4" cy="184.7" r="0.40"/><circle cx="109.8" cy="218.6" r="0.68"/><circle cx="112.5" cy="185.9" r="0.53"/><circle cx="104.6" cy="215.5" r="0.30"/><circle cx="98.6" cy="193.8" r="0.42"/><circle cx="95.1" cy="201.6" r="0.39"/><circle cx="97.6" cy="193.7" r="0.61"/><circle cx="122.3" cy="188.4" r="0.66"/><circle cx="127.8" cy="209.2" r="0.60"/><circle cx="126.2" cy="191.9" r="0.58"/><circle cx="107.9" cy="186.6" r="0.61"/><circle cx="121.2" cy="187.9" r="0.41"/><circle cx="96.6" cy="208.9" r="0.70"/><circle cx="119.7" cy="216.8" r="0.33"/><circle cx="128.2" cy="206.9" r="0.69"/><circle cx="126.2" cy="192.6" r="0.55"/><circle cx="102.0" cy="188.9" r="0.65"/><circle cx="126.7" cy="210.3" r="0.32"/><circle cx="127.7" cy="192.2" r="0.47"/><circle cx="127.9" cy="210.9" r="0.62"/><circle cx="125.1" cy="188.5" r="0.57"/><circle cx="95.4" cy="202.6" r="0.33"/><circle cx="121.5" cy="187.7" r="0.47"/><circle cx="123.8" cy="190.4" r="0.42"/><circle cx="119.4" cy="186.3" r="0.68"/><circle cx="109.5" cy="185.8" r="0.49"/><circle cx="102.4" cy="215.2" r="0.59"/><circle cx="97.1" cy="201.4" r="0.66"/><circle cx="120.3" cy="217.1" r="0.64"/><circle cx="97.7" cy="205.7" r="0.52"/><circle cx="126.0" cy="210.9" r="0.36"/><circle cx="120.9" cy="216.6" r="0.61"/><circle cx="96.2" cy="208.0" r="0.30"/><circle cx="105.0" cy="216.0" r="0.51"/><circle cx="105.0" cy="187.3" r="0.46"/><circle cx="100.8" cy="212.7" r="0.30"/></g>
<circle cx="113.20" cy="246.90" r="21.40" fill="#e2dce6" stroke="#d2c8d4" stroke-width="1.0"/>
<circle cx="113.20" cy="246.90" r="18.40" fill="#e2d2de" filter="url(#blur1)"/>
<g fill="#7e3a9c" opacity="0.75" filter="url(#blur05)"><circle cx="113.2" cy="243.9" r="0.39"/><circle cx="115.0" cy="258.4" r="0.51"/><circle cx="118.2" cy="230.8" r="0.47"/><circle cx="112.8" cy="248.6" r="0.27"/><circle cx="121.5" cy="239.5" r="0.37"/><circle cx="106.9" cy="255.2" r="0.29"/><circle cx="110.8" cy="259.0" r="0.40"/><circle cx="118.8" cy="249.1" r="0.22"/><circle cx="99.0" cy="249.8" r="0.58"/><circle cx="101.9" cy="255.2" r="0.54"/><circle cx="100.3" cy="244.0" r="0.27"/><circle cx="106.8" cy="232.9" r="0.34"/><circle cx="108.8" cy="239.9" r="0.26"/><circle cx="106.7" cy="258.6" r="0.37"/><circle cx="113.1" cy="264.6" r="0.50"/><circle cx="112.3" cy="251.6" r="0.51"/><circle cx="126.7" cy="239.7" r="0.50"/><circle cx="127.9" cy="243.9" r="0.26"/><circle cx="102.0" cy="248.9" r="0.45"/><circle cx="121.0" cy="258.8" r="0.51"/><circle cx="111.2" cy="261.0" r="0.35"/><circle cx="107.5" cy="236.0" r="0.61"/><circle cx="109.6" cy="247.7" r="0.24"/><circle cx="111.2" cy="241.8" r="0.53"/><circle cx="102.6" cy="247.2" r="0.38"/><circle cx="120.6" cy="235.9" r="0.39"/><circle cx="99.7" cy="249.4" r="0.40"/><circle cx="110.3" cy="235.7" r="0.33"/><circle cx="122.1" cy="255.2" r="0.29"/><circle cx="115.7" cy="254.0" r="0.36"/><circle cx="124.1" cy="240.0" r="0.33"/><circle cx="101.2" cy="248.9" r="0.23"/><circle cx="117.8" cy="234.9" r="0.63"/><circle cx="107.2" cy="240.3" r="0.62"/><circle cx="118.8" cy="251.6" r="0.27"/><circle cx="116.9" cy="252.4" r="0.59"/><circle cx="121.0" cy="256.8" r="0.27"/><circle cx="111.1" cy="251.9" r="0.36"/><circle cx="110.1" cy="262.0" r="0.63"/><circle cx="117.7" cy="258.4" r="0.47"/><circle cx="117.8" cy="246.5" r="0.49"/><circle cx="102.7" cy="254.2" r="0.50"/><circle cx="109.4" cy="236.4" r="0.55"/><circle cx="105.6" cy="242.7" r="0.29"/><circle cx="118.3" cy="262.3" r="0.57"/><circle cx="120.5" cy="258.7" r="0.24"/><circle cx="126.9" cy="252.6" r="0.44"/><circle cx="102.5" cy="252.0" r="0.40"/><circle cx="106.3" cy="253.6" r="0.60"/><circle cx="125.7" cy="252.8" r="0.28"/><circle cx="110.7" cy="249.7" r="0.27"/><circle cx="110.7" cy="244.8" r="0.38"/><circle cx="102.8" cy="238.1" r="0.25"/><circle cx="104.1" cy="251.8" r="0.55"/><circle cx="122.4" cy="236.5" r="0.54"/><circle cx="97.9" cy="256.1" r="0.51"/><circle cx="118.8" cy="242.3" r="0.50"/><circle cx="105.9" cy="233.8" r="0.59"/><circle cx="114.1" cy="253.1" r="0.45"/><circle cx="116.3" cy="264.4" r="0.59"/><circle cx="97.1" cy="248.8" r="0.47"/><circle cx="124.7" cy="240.0" r="0.30"/><circle cx="122.5" cy="246.4" r="0.26"/><circle cx="115.8" cy="232.6" r="0.57"/><circle cx="116.3" cy="263.9" r="0.56"/><circle cx="111.8" cy="245.1" r="0.53"/><circle cx="108.6" cy="251.7" r="0.35"/><circle cx="122.8" cy="243.6" r="0.40"/><circle cx="125.6" cy="238.1" r="0.37"/><circle cx="106.5" cy="258.5" r="0.44"/><circle cx="110.9" cy="232.6" r="0.29"/><circle cx="124.5" cy="235.4" r="0.42"/><circle cx="120.6" cy="256.5" r="0.57"/><circle cx="111.8" cy="257.0" r="0.50"/><circle cx="112.2" cy="230.5" r="0.38"/><circle cx="112.3" cy="238.3" r="0.23"/><circle cx="110.0" cy="238.8" r="0.58"/><circle cx="108.4" cy="256.3" r="0.57"/><circle cx="130.7" cy="250.0" r="0.35"/><circle cx="123.3" cy="249.5" r="0.26"/><circle cx="113.0" cy="259.7" r="0.45"/><circle cx="119.9" cy="263.6" r="0.27"/><circle cx="120.5" cy="252.7" r="0.21"/><circle cx="118.3" cy="242.0" r="0.22"/><circle cx="105.6" cy="239.7" r="0.26"/><circle cx="105.6" cy="248.4" r="0.24"/><circle cx="104.4" cy="246.5" r="0.36"/><circle cx="95.2" cy="247.6" r="0.47"/><circle cx="104.2" cy="242.8" r="0.40"/><circle cx="111.6" cy="263.4" r="0.60"/><circle cx="119.2" cy="237.0" r="0.51"/><circle cx="108.7" cy="262.3" r="0.61"/><circle cx="115.6" cy="251.5" r="0.63"/><circle cx="98.8" cy="239.9" r="0.57"/><circle cx="115.1" cy="241.4" r="0.32"/><circle cx="101.7" cy="259.2" r="0.52"/><circle cx="114.6" cy="253.5" r="0.54"/><circle cx="115.1" cy="245.0" r="0.35"/><circle cx="122.2" cy="254.5" r="0.22"/><circle cx="107.6" cy="251.7" r="0.23"/><circle cx="120.1" cy="245.6" r="0.60"/><circle cx="111.6" cy="236.4" r="0.37"/><circle cx="106.6" cy="253.7" r="0.45"/><circle cx="122.5" cy="257.2" r="0.42"/><circle cx="119.9" cy="263.2" r="0.33"/><circle cx="102.6" cy="235.9" r="0.52"/><circle cx="102.5" cy="241.0" r="0.39"/><circle cx="112.9" cy="242.4" r="0.45"/><circle cx="119.6" cy="236.6" r="0.41"/><circle cx="107.4" cy="232.0" r="0.35"/><circle cx="100.1" cy="237.2" r="0.47"/><circle cx="117.7" cy="264.3" r="0.35"/><circle cx="110.7" cy="243.5" r="0.50"/><circle cx="97.0" cy="241.1" r="0.31"/><circle cx="123.5" cy="248.3" r="0.39"/><circle cx="109.2" cy="237.7" r="0.53"/><circle cx="115.1" cy="244.3" r="0.62"/><circle cx="121.6" cy="250.6" r="0.24"/><circle cx="118.7" cy="230.2" r="0.32"/><circle cx="97.1" cy="239.5" r="0.53"/><circle cx="112.5" cy="259.1" r="0.60"/><circle cx="121.9" cy="237.9" r="0.45"/><circle cx="123.4" cy="251.8" r="0.55"/><circle cx="121.0" cy="248.9" r="0.45"/><circle cx="120.8" cy="247.8" r="0.53"/><circle cx="118.2" cy="258.6" r="0.60"/><circle cx="98.4" cy="244.4" r="0.24"/><circle cx="100.3" cy="244.7" r="0.41"/><circle cx="108.6" cy="247.5" r="0.47"/><circle cx="104.4" cy="259.2" r="0.32"/><circle cx="123.6" cy="240.4" r="0.56"/><circle cx="103.7" cy="245.6" r="0.39"/><circle cx="110.7" cy="259.8" r="0.36"/><circle cx="111.2" cy="264.8" r="0.62"/><circle cx="99.7" cy="246.0" r="0.55"/><circle cx="105.4" cy="238.3" r="0.42"/><circle cx="114.6" cy="242.5" r="0.38"/><circle cx="124.9" cy="253.7" r="0.22"/><circle cx="107.1" cy="249.3" r="0.35"/><circle cx="121.8" cy="245.5" r="0.37"/><circle cx="115.9" cy="239.2" r="0.31"/><circle cx="100.8" cy="253.7" r="0.30"/><circle cx="113.0" cy="251.4" r="0.32"/><circle cx="102.5" cy="255.7" r="0.33"/><circle cx="97.4" cy="244.3" r="0.33"/><circle cx="110.1" cy="231.5" r="0.60"/><circle cx="112.3" cy="232.5" r="0.48"/><circle cx="100.7" cy="258.5" r="0.29"/><circle cx="109.1" cy="251.8" r="0.42"/><circle cx="125.0" cy="238.6" r="0.22"/><circle cx="116.3" cy="244.0" r="0.29"/><circle cx="110.5" cy="247.3" r="0.54"/><circle cx="106.3" cy="230.6" r="0.48"/><circle cx="105.4" cy="250.6" r="0.34"/><circle cx="101.8" cy="235.0" r="0.29"/><circle cx="98.9" cy="244.5" r="0.31"/><circle cx="110.8" cy="237.7" r="0.36"/><circle cx="118.0" cy="263.8" r="0.23"/><circle cx="108.2" cy="260.1" r="0.42"/><circle cx="115.4" cy="259.5" r="0.41"/><circle cx="101.7" cy="243.5" r="0.28"/><circle cx="109.9" cy="237.1" r="0.55"/><circle cx="104.6" cy="261.3" r="0.31"/><circle cx="102.5" cy="232.7" r="0.34"/><circle cx="117.7" cy="234.3" r="0.21"/><circle cx="103.9" cy="240.9" r="0.24"/><circle cx="118.2" cy="232.7" r="0.60"/><circle cx="120.5" cy="254.9" r="0.45"/><circle cx="109.6" cy="252.2" r="0.37"/><circle cx="101.7" cy="252.1" r="0.40"/><circle cx="102.0" cy="253.0" r="0.50"/><circle cx="113.3" cy="259.4" r="0.56"/><circle cx="116.1" cy="231.2" r="0.60"/><circle cx="96.7" cy="248.2" r="0.54"/><circle cx="103.5" cy="259.3" r="0.41"/><circle cx="106.6" cy="244.0" r="0.52"/><circle cx="107.4" cy="257.2" r="0.43"/><circle cx="114.4" cy="229.1" r="0.57"/><circle cx="108.3" cy="238.5" r="0.44"/><circle cx="105.6" cy="239.3" r="0.59"/><circle cx="108.3" cy="259.0" r="0.62"/><circle cx="115.9" cy="258.3" r="0.60"/><circle cx="124.2" cy="242.1" r="0.50"/><circle cx="108.4" cy="244.6" r="0.59"/><circle cx="125.4" cy="234.7" r="0.30"/><circle cx="97.5" cy="242.3" r="0.57"/><circle cx="115.8" cy="243.7" r="0.50"/><circle cx="109.4" cy="252.5" r="0.42"/><circle cx="121.9" cy="251.7" r="0.39"/><circle cx="104.9" cy="252.9" r="0.41"/><circle cx="106.2" cy="246.6" r="0.31"/><circle cx="111.9" cy="249.1" r="0.43"/><circle cx="120.5" cy="241.8" r="0.58"/><circle cx="105.0" cy="255.8" r="0.54"/><circle cx="101.3" cy="251.5" r="0.60"/><circle cx="124.0" cy="252.0" r="0.34"/><circle cx="99.8" cy="247.2" r="0.50"/><circle cx="108.4" cy="263.6" r="0.61"/><circle cx="115.6" cy="233.1" r="0.54"/><circle cx="126.6" cy="251.7" r="0.40"/><circle cx="106.4" cy="260.2" r="0.37"/><circle cx="117.8" cy="243.3" r="0.32"/><circle cx="106.6" cy="248.0" r="0.26"/><circle cx="109.1" cy="238.6" r="0.27"/><circle cx="108.3" cy="230.9" r="0.47"/><circle cx="106.4" cy="240.2" r="0.59"/><circle cx="116.7" cy="231.1" r="0.44"/><circle cx="114.8" cy="259.2" r="0.37"/><circle cx="108.4" cy="242.2" r="0.29"/><circle cx="106.8" cy="244.7" r="0.28"/><circle cx="101.6" cy="243.7" r="0.56"/><circle cx="126.6" cy="245.4" r="0.48"/><circle cx="100.7" cy="253.3" r="0.37"/><circle cx="122.1" cy="237.6" r="0.31"/><circle cx="98.8" cy="255.0" r="0.22"/><circle cx="128.8" cy="246.2" r="0.42"/><circle cx="111.5" cy="255.8" r="0.36"/><circle cx="111.1" cy="232.7" r="0.42"/><circle cx="104.7" cy="254.9" r="0.27"/><circle cx="102.5" cy="257.4" r="0.22"/><circle cx="115.5" cy="246.1" r="0.40"/><circle cx="109.7" cy="259.6" r="0.32"/><circle cx="110.2" cy="244.7" r="0.59"/><circle cx="128.0" cy="238.9" r="0.50"/><circle cx="122.5" cy="257.7" r="0.45"/><circle cx="116.8" cy="235.2" r="0.54"/><circle cx="112.1" cy="249.9" r="0.28"/><circle cx="123.5" cy="246.4" r="0.27"/><circle cx="122.1" cy="262.1" r="0.55"/><circle cx="109.4" cy="248.5" r="0.55"/><circle cx="128.8" cy="247.2" r="0.39"/><circle cx="111.8" cy="248.7" r="0.49"/><circle cx="121.7" cy="238.3" r="0.58"/><circle cx="117.3" cy="256.3" r="0.39"/><circle cx="120.2" cy="263.4" r="0.43"/><circle cx="127.6" cy="247.0" r="0.27"/><circle cx="103.4" cy="259.9" r="0.35"/><circle cx="111.4" cy="263.5" r="0.32"/><circle cx="116.3" cy="245.9" r="0.24"/><circle cx="127.3" cy="246.4" r="0.44"/><circle cx="115.8" cy="237.4" r="0.58"/><circle cx="110.0" cy="263.4" r="0.42"/><circle cx="127.4" cy="236.4" r="0.55"/><circle cx="120.8" cy="256.5" r="0.59"/><circle cx="105.5" cy="249.8" r="0.41"/><circle cx="116.6" cy="250.6" r="0.46"/><circle cx="124.7" cy="247.6" r="0.34"/><circle cx="116.4" cy="236.5" r="0.39"/><circle cx="108.4" cy="241.3" r="0.41"/><circle cx="117.1" cy="257.6" r="0.55"/><circle cx="129.7" cy="240.8" r="0.55"/><circle cx="124.6" cy="249.9" r="0.36"/><circle cx="104.4" cy="255.5" r="0.49"/><circle cx="127.1" cy="247.4" r="0.23"/><circle cx="113.1" cy="229.5" r="0.49"/><circle cx="115.9" cy="229.3" r="0.59"/><circle cx="109.8" cy="260.6" r="0.41"/><circle cx="101.5" cy="245.5" r="0.22"/><circle cx="111.7" cy="249.6" r="0.58"/><circle cx="114.2" cy="242.7" r="0.48"/><circle cx="123.6" cy="237.1" r="0.49"/><circle cx="102.0" cy="248.1" r="0.35"/><circle cx="121.7" cy="252.1" r="0.30"/><circle cx="103.3" cy="251.7" r="0.34"/><circle cx="121.8" cy="246.5" r="0.37"/><circle cx="118.0" cy="237.1" r="0.23"/><circle cx="103.4" cy="242.9" r="0.54"/><circle cx="108.1" cy="256.0" r="0.42"/><circle cx="108.7" cy="242.3" r="0.24"/><circle cx="114.0" cy="237.9" r="0.60"/><circle cx="118.1" cy="234.7" r="0.24"/><circle cx="113.1" cy="249.4" r="0.46"/><circle cx="98.9" cy="241.2" r="0.36"/><circle cx="127.2" cy="237.4" r="0.50"/><circle cx="95.8" cy="246.4" r="0.42"/><circle cx="130.2" cy="247.2" r="0.25"/><circle cx="105.9" cy="255.1" r="0.57"/><circle cx="102.5" cy="239.0" r="0.63"/><circle cx="124.2" cy="237.5" r="0.39"/><circle cx="115.4" cy="263.7" r="0.51"/><circle cx="122.9" cy="240.7" r="0.61"/><circle cx="121.8" cy="251.3" r="0.61"/><circle cx="114.3" cy="239.4" r="0.36"/><circle cx="115.8" cy="261.0" r="0.50"/><circle cx="104.1" cy="240.0" r="0.24"/><circle cx="104.7" cy="262.0" r="0.52"/><circle cx="101.8" cy="239.1" r="0.38"/><circle cx="121.3" cy="247.9" r="0.34"/><circle cx="123.9" cy="247.8" r="0.34"/><circle cx="103.4" cy="253.1" r="0.54"/><circle cx="96.3" cy="244.4" r="0.45"/><circle cx="107.8" cy="257.7" r="0.50"/><circle cx="122.1" cy="259.2" r="0.61"/><circle cx="111.2" cy="232.1" r="0.56"/><circle cx="126.6" cy="247.9" r="0.37"/><circle cx="117.9" cy="257.1" r="0.23"/><circle cx="111.2" cy="241.6" r="0.37"/><circle cx="128.1" cy="256.9" r="0.31"/><circle cx="110.8" cy="246.2" r="0.33"/><circle cx="111.1" cy="248.2" r="0.58"/><circle cx="111.1" cy="244.2" r="0.40"/><circle cx="121.6" cy="255.1" r="0.53"/><circle cx="117.7" cy="262.7" r="0.41"/><circle cx="100.5" cy="234.3" r="0.28"/><circle cx="110.8" cy="229.2" r="0.46"/><circle cx="115.4" cy="264.3" r="0.44"/><circle cx="130.6" cy="250.8" r="0.31"/><circle cx="112.6" cy="230.9" r="0.44"/><circle cx="97.0" cy="244.8" r="0.49"/><circle cx="129.6" cy="245.8" r="0.51"/><circle cx="128.1" cy="241.0" r="0.62"/><circle cx="128.3" cy="238.7" r="0.27"/><circle cx="111.4" cy="263.0" r="0.47"/><circle cx="118.3" cy="264.0" r="0.66"/><circle cx="128.7" cy="255.3" r="0.43"/><circle cx="96.6" cy="245.0" r="0.40"/><circle cx="96.2" cy="246.3" r="0.38"/><circle cx="115.4" cy="263.3" r="0.33"/><circle cx="101.6" cy="234.5" r="0.56"/><circle cx="102.3" cy="233.7" r="0.35"/><circle cx="99.4" cy="254.8" r="0.59"/><circle cx="128.1" cy="238.3" r="0.46"/><circle cx="106.4" cy="262.4" r="0.58"/><circle cx="96.2" cy="247.1" r="0.29"/><circle cx="116.5" cy="263.5" r="0.62"/><circle cx="109.9" cy="263.4" r="0.39"/><circle cx="125.5" cy="257.6" r="0.54"/><circle cx="101.7" cy="259.0" r="0.47"/><circle cx="99.4" cy="236.8" r="0.54"/><circle cx="126.4" cy="235.9" r="0.49"/><circle cx="127.1" cy="237.6" r="0.48"/><circle cx="128.2" cy="255.3" r="0.50"/><circle cx="127.5" cy="240.1" r="0.35"/><circle cx="114.2" cy="229.4" r="0.53"/><circle cx="114.8" cy="264.7" r="0.49"/><circle cx="122.9" cy="232.2" r="0.53"/><circle cx="96.0" cy="246.0" r="0.30"/><circle cx="113.2" cy="229.0" r="0.51"/><circle cx="102.6" cy="233.1" r="0.53"/><circle cx="124.5" cy="260.5" r="0.58"/><circle cx="114.5" cy="263.8" r="0.30"/><circle cx="113.5" cy="263.4" r="0.46"/><circle cx="116.8" cy="229.4" r="0.57"/><circle cx="106.4" cy="261.9" r="0.29"/><circle cx="97.4" cy="242.0" r="0.49"/><circle cx="98.1" cy="255.3" r="0.57"/><circle cx="98.5" cy="255.1" r="0.54"/><circle cx="118.8" cy="263.1" r="0.30"/><circle cx="107.5" cy="262.6" r="0.46"/><circle cx="99.7" cy="258.3" r="0.37"/><circle cx="119.3" cy="230.6" r="0.34"/><circle cx="109.7" cy="263.9" r="0.49"/><circle cx="99.3" cy="236.0" r="0.32"/><circle cx="120.8" cy="263.2" r="0.38"/><circle cx="100.8" cy="236.3" r="0.30"/><circle cx="120.1" cy="230.9" r="0.37"/><circle cx="127.7" cy="256.6" r="0.37"/><circle cx="114.5" cy="230.7" r="0.67"/><circle cx="123.9" cy="259.4" r="0.35"/></g>
<text x="47.96" y="170.40" font-family="Liberation Serif" font-size="9.31" font-weight="bold" fill="#000">MGC-803</text>
<text x="104.66" y="170.40" font-family="Liberation Serif" font-size="8.76" font-weight="bold" fill="#000">AGS</text>
<text x="10.88" y="211.90" font-family="Liberation Serif" font-size="10.56" font-weight="bold" fill="#000">si-NC</text>
<text x="-0.82" y="247.30" font-family="Liberation Serif" font-size="10.65" font-weight="bold" fill="#000">si-DBF4</text>
<rect x="370.50" y="350.80" width="47.90" height="94.20" fill="#cecfd4" />
<rect x="423.60" y="350.80" width="47.70" height="94.20" fill="#cecfd4" />
<circle cx="394.50" cy="373.20" r="21.80" fill="#cacadc" stroke="#aeaed4" stroke-width="1.3"/>
<circle cx="394.50" cy="373.20" r="18.75" fill="#c9c9de" filter="url(#blur1)"/>
<g fill="#5050b8" opacity="0.6" filter="url(#blur05)"><circle cx="383.2" cy="362.2" r="0.41"/><circle cx="409.3" cy="367.6" r="0.46"/><circle cx="406.8" cy="375.5" r="0.46"/><circle cx="384.2" cy="359.2" r="0.20"/><circle cx="385.5" cy="375.0" r="0.33"/><circle cx="392.6" cy="372.3" r="0.23"/><circle cx="391.3" cy="390.5" r="0.41"/><circle cx="403.3" cy="387.0" r="0.20"/><circle cx="389.7" cy="368.8" r="0.16"/><circle cx="400.3" cy="367.1" r="0.23"/><circle cx="411.6" cy="371.3" r="0.25"/><circle cx="407.6" cy="370.0" r="0.38"/><circle cx="399.5" cy="390.3" r="0.38"/><circle cx="411.5" cy="369.6" r="0.26"/><circle cx="389.7" cy="378.9" r="0.21"/><circle cx="403.8" cy="377.2" r="0.35"/><circle cx="409.6" cy="373.5" r="0.27"/><circle cx="388.4" cy="388.7" r="0.31"/><circle cx="389.4" cy="384.9" r="0.39"/><circle cx="411.5" cy="379.6" r="0.17"/><circle cx="394.5" cy="356.3" r="0.17"/><circle cx="397.1" cy="362.4" r="0.35"/><circle cx="398.5" cy="373.4" r="0.22"/><circle cx="402.3" cy="370.9" r="0.40"/><circle cx="410.6" cy="365.6" r="0.27"/><circle cx="386.4" cy="383.7" r="0.41"/><circle cx="406.9" cy="383.2" r="0.42"/><circle cx="396.7" cy="370.5" r="0.46"/><circle cx="403.5" cy="379.0" r="0.36"/><circle cx="403.8" cy="367.9" r="0.46"/><circle cx="384.6" cy="370.3" r="0.26"/><circle cx="396.8" cy="377.8" r="0.21"/><circle cx="387.7" cy="356.2" r="0.21"/><circle cx="411.9" cy="378.7" r="0.33"/><circle cx="387.1" cy="378.2" r="0.35"/><circle cx="400.2" cy="362.2" r="0.29"/><circle cx="411.0" cy="379.2" r="0.17"/><circle cx="377.7" cy="373.9" r="0.20"/><circle cx="392.4" cy="355.4" r="0.36"/><circle cx="395.9" cy="367.4" r="0.30"/><circle cx="404.5" cy="386.8" r="0.25"/><circle cx="376.9" cy="378.5" r="0.43"/><circle cx="406.7" cy="371.3" r="0.32"/><circle cx="392.9" cy="360.6" r="0.25"/><circle cx="388.7" cy="377.2" r="0.28"/><circle cx="412.5" cy="371.9" r="0.36"/><circle cx="383.8" cy="373.2" r="0.19"/><circle cx="392.2" cy="389.3" r="0.44"/><circle cx="384.0" cy="385.7" r="0.41"/><circle cx="389.4" cy="359.1" r="0.40"/><circle cx="384.4" cy="384.9" r="0.25"/><circle cx="378.4" cy="374.6" r="0.38"/><circle cx="389.6" cy="390.4" r="0.37"/><circle cx="392.8" cy="372.2" r="0.34"/><circle cx="394.4" cy="388.3" r="0.31"/><circle cx="400.5" cy="359.7" r="0.42"/><circle cx="386.0" cy="385.2" r="0.40"/><circle cx="399.6" cy="363.6" r="0.43"/><circle cx="404.9" cy="362.1" r="0.47"/><circle cx="407.2" cy="369.6" r="0.33"/><circle cx="402.9" cy="387.7" r="0.46"/><circle cx="379.4" cy="375.4" r="0.39"/><circle cx="393.6" cy="365.6" r="0.41"/><circle cx="381.4" cy="365.9" r="0.29"/><circle cx="383.0" cy="361.9" r="0.36"/><circle cx="393.9" cy="370.2" r="0.21"/><circle cx="380.7" cy="378.6" r="0.23"/><circle cx="388.8" cy="359.8" r="0.17"/><circle cx="385.9" cy="374.8" r="0.18"/><circle cx="401.4" cy="380.9" r="0.22"/><circle cx="395.7" cy="376.5" r="0.31"/><circle cx="384.0" cy="383.0" r="0.35"/><circle cx="395.8" cy="390.6" r="0.16"/><circle cx="386.5" cy="378.6" r="0.29"/><circle cx="407.1" cy="384.3" r="0.28"/><circle cx="408.5" cy="376.4" r="0.19"/><circle cx="384.2" cy="370.2" r="0.35"/><circle cx="410.6" cy="368.9" r="0.29"/><circle cx="400.2" cy="359.6" r="0.28"/><circle cx="403.4" cy="384.2" r="0.34"/><circle cx="411.9" cy="368.4" r="0.35"/><circle cx="384.2" cy="387.2" r="0.16"/><circle cx="405.3" cy="381.9" r="0.36"/><circle cx="403.7" cy="384.5" r="0.45"/><circle cx="385.9" cy="381.7" r="0.23"/><circle cx="389.8" cy="390.7" r="0.28"/><circle cx="411.5" cy="369.0" r="0.35"/><circle cx="393.4" cy="391.4" r="0.32"/><circle cx="385.5" cy="378.5" r="0.47"/><circle cx="384.7" cy="373.7" r="0.31"/><circle cx="404.9" cy="383.2" r="0.30"/><circle cx="390.2" cy="388.9" r="0.42"/><circle cx="407.9" cy="374.3" r="0.25"/><circle cx="409.4" cy="366.8" r="0.24"/><circle cx="393.7" cy="380.4" r="0.48"/><circle cx="390.7" cy="387.0" r="0.31"/><circle cx="385.7" cy="361.9" r="0.40"/><circle cx="406.3" cy="384.0" r="0.26"/><circle cx="384.1" cy="371.0" r="0.25"/><circle cx="382.2" cy="370.9" r="0.28"/><circle cx="394.1" cy="359.1" r="0.17"/><circle cx="394.3" cy="385.6" r="0.45"/><circle cx="404.8" cy="364.4" r="0.16"/><circle cx="396.6" cy="361.4" r="0.34"/><circle cx="390.7" cy="359.1" r="0.31"/><circle cx="404.2" cy="367.2" r="0.29"/><circle cx="399.4" cy="366.7" r="0.25"/><circle cx="396.8" cy="369.1" r="0.43"/><circle cx="390.4" cy="361.8" r="0.25"/><circle cx="397.9" cy="356.0" r="0.21"/><circle cx="381.0" cy="375.0" r="0.32"/><circle cx="391.0" cy="379.5" r="0.35"/><circle cx="396.3" cy="368.8" r="0.23"/><circle cx="401.4" cy="358.4" r="0.37"/><circle cx="409.9" cy="375.7" r="0.47"/><circle cx="409.9" cy="373.0" r="0.18"/><circle cx="399.2" cy="366.0" r="0.37"/><circle cx="409.3" cy="368.6" r="0.20"/><circle cx="389.9" cy="390.2" r="0.21"/><circle cx="385.4" cy="365.6" r="0.21"/><circle cx="391.7" cy="370.5" r="0.19"/><circle cx="390.9" cy="376.6" r="0.18"/><circle cx="380.4" cy="366.0" r="0.44"/><circle cx="402.5" cy="382.2" r="0.26"/><circle cx="384.1" cy="365.6" r="0.46"/><circle cx="391.4" cy="376.3" r="0.38"/><circle cx="403.0" cy="385.1" r="0.32"/><circle cx="406.1" cy="365.9" r="0.36"/><circle cx="393.4" cy="386.8" r="0.24"/><circle cx="394.5" cy="360.0" r="0.20"/><circle cx="395.6" cy="384.3" r="0.40"/><circle cx="401.2" cy="387.2" r="0.37"/><circle cx="407.4" cy="380.9" r="0.19"/><circle cx="404.5" cy="383.2" r="0.24"/><circle cx="403.6" cy="364.3" r="0.26"/><circle cx="395.4" cy="370.2" r="0.39"/><circle cx="401.2" cy="375.6" r="0.46"/><circle cx="390.9" cy="365.3" r="0.20"/><circle cx="409.3" cy="370.6" r="0.42"/><circle cx="403.8" cy="384.4" r="0.27"/><circle cx="395.5" cy="383.8" r="0.36"/><circle cx="387.9" cy="382.5" r="0.20"/><circle cx="401.7" cy="360.3" r="0.42"/><circle cx="379.0" cy="380.1" r="0.33"/><circle cx="382.9" cy="365.6" r="0.40"/><circle cx="390.0" cy="376.7" r="0.17"/><circle cx="395.6" cy="376.7" r="0.44"/><circle cx="378.6" cy="375.1" r="0.16"/><circle cx="377.5" cy="376.4" r="0.36"/><circle cx="383.2" cy="378.6" r="0.19"/><circle cx="398.6" cy="379.3" r="0.28"/><circle cx="381.5" cy="384.5" r="0.21"/><circle cx="394.3" cy="382.9" r="0.21"/><circle cx="392.4" cy="381.9" r="0.31"/><circle cx="411.8" cy="376.7" r="0.28"/><circle cx="408.6" cy="367.4" r="0.38"/><circle cx="376.9" cy="376.4" r="0.20"/><circle cx="389.6" cy="364.6" r="0.38"/><circle cx="393.5" cy="365.8" r="0.22"/><circle cx="403.2" cy="374.6" r="0.19"/><circle cx="379.8" cy="383.8" r="0.28"/><circle cx="389.7" cy="384.8" r="0.25"/><circle cx="392.8" cy="357.7" r="0.21"/><circle cx="395.4" cy="388.2" r="0.46"/><circle cx="387.2" cy="363.6" r="0.47"/><circle cx="399.0" cy="373.4" r="0.41"/><circle cx="391.2" cy="375.3" r="0.34"/><circle cx="407.7" cy="372.3" r="0.27"/><circle cx="398.6" cy="375.9" r="0.45"/><circle cx="376.8" cy="374.2" r="0.18"/><circle cx="394.7" cy="377.3" r="0.29"/><circle cx="403.1" cy="376.6" r="0.29"/><circle cx="393.1" cy="377.1" r="0.17"/><circle cx="402.2" cy="371.8" r="0.32"/><circle cx="383.6" cy="380.9" r="0.19"/><circle cx="392.1" cy="378.8" r="0.33"/><circle cx="407.0" cy="366.5" r="0.43"/><circle cx="395.0" cy="375.6" r="0.33"/><circle cx="380.7" cy="374.4" r="0.28"/><circle cx="383.4" cy="362.1" r="0.45"/><circle cx="390.1" cy="384.7" r="0.42"/><circle cx="395.5" cy="379.4" r="0.26"/><circle cx="408.3" cy="381.6" r="0.42"/><circle cx="392.0" cy="379.3" r="0.19"/><circle cx="394.7" cy="378.5" r="0.30"/><circle cx="386.4" cy="369.0" r="0.18"/><circle cx="393.3" cy="369.4" r="0.22"/><circle cx="392.0" cy="384.1" r="0.19"/><circle cx="385.5" cy="378.1" r="0.40"/><circle cx="378.2" cy="367.2" r="0.37"/><circle cx="395.4" cy="359.3" r="0.30"/><circle cx="400.6" cy="359.6" r="0.47"/><circle cx="392.4" cy="358.0" r="0.25"/><circle cx="398.8" cy="362.7" r="0.20"/><circle cx="401.4" cy="376.2" r="0.24"/><circle cx="390.1" cy="364.4" r="0.18"/><circle cx="395.7" cy="359.5" r="0.17"/><circle cx="400.8" cy="375.3" r="0.27"/><circle cx="405.9" cy="359.4" r="0.36"/><circle cx="395.9" cy="385.1" r="0.28"/><circle cx="393.5" cy="375.0" r="0.35"/><circle cx="401.8" cy="359.3" r="0.19"/><circle cx="387.0" cy="371.8" r="0.39"/><circle cx="377.7" cy="379.1" r="0.41"/><circle cx="402.1" cy="380.2" r="0.45"/><circle cx="382.8" cy="376.1" r="0.30"/><circle cx="396.5" cy="355.5" r="0.33"/><circle cx="408.4" cy="370.5" r="0.19"/><circle cx="399.2" cy="362.3" r="0.18"/><circle cx="397.8" cy="372.7" r="0.34"/><circle cx="377.4" cy="375.1" r="0.29"/><circle cx="396.6" cy="382.6" r="0.22"/><circle cx="384.4" cy="369.0" r="0.40"/><circle cx="395.1" cy="384.1" r="0.24"/><circle cx="411.2" cy="371.3" r="0.43"/><circle cx="385.9" cy="365.3" r="0.21"/><circle cx="400.8" cy="362.0" r="0.17"/><circle cx="397.3" cy="378.3" r="0.39"/><circle cx="401.1" cy="368.4" r="0.42"/><circle cx="387.7" cy="386.8" r="0.44"/><circle cx="382.7" cy="361.7" r="0.28"/><circle cx="407.6" cy="374.0" r="0.35"/><circle cx="399.1" cy="383.7" r="0.26"/><circle cx="404.6" cy="374.9" r="0.28"/><circle cx="379.3" cy="375.5" r="0.29"/><circle cx="411.0" cy="371.4" r="0.46"/><circle cx="389.2" cy="359.1" r="0.33"/><circle cx="397.8" cy="362.6" r="0.35"/><circle cx="388.8" cy="361.2" r="0.25"/><circle cx="399.3" cy="375.7" r="0.27"/><circle cx="380.5" cy="365.5" r="0.39"/><circle cx="388.3" cy="389.8" r="0.25"/><circle cx="393.5" cy="368.4" r="0.40"/><circle cx="385.8" cy="357.5" r="0.45"/><circle cx="388.1" cy="357.7" r="0.40"/><circle cx="388.1" cy="367.8" r="0.33"/><circle cx="401.6" cy="367.7" r="0.47"/><circle cx="383.4" cy="370.1" r="0.16"/><circle cx="388.5" cy="378.1" r="0.37"/><circle cx="408.7" cy="362.9" r="0.36"/><circle cx="389.9" cy="377.2" r="0.38"/><circle cx="379.8" cy="368.1" r="0.28"/><circle cx="400.9" cy="367.7" r="0.26"/><circle cx="392.9" cy="387.6" r="0.45"/><circle cx="401.7" cy="385.9" r="0.41"/><circle cx="395.2" cy="377.7" r="0.34"/><circle cx="402.8" cy="358.1" r="0.39"/><circle cx="384.1" cy="379.2" r="0.33"/><circle cx="402.8" cy="367.5" r="0.25"/><circle cx="380.3" cy="362.1" r="0.22"/><circle cx="400.6" cy="374.4" r="0.34"/><circle cx="388.2" cy="368.4" r="0.22"/><circle cx="382.3" cy="364.9" r="0.38"/><circle cx="393.9" cy="368.7" r="0.32"/><circle cx="403.6" cy="357.7" r="0.26"/><circle cx="403.2" cy="361.3" r="0.46"/><circle cx="396.5" cy="388.4" r="0.43"/><circle cx="388.7" cy="374.1" r="0.22"/><circle cx="397.6" cy="377.9" r="0.21"/><circle cx="390.1" cy="369.2" r="0.40"/><circle cx="393.1" cy="356.7" r="0.42"/><circle cx="390.4" cy="356.0" r="0.47"/><circle cx="381.7" cy="360.4" r="0.19"/><circle cx="398.2" cy="376.0" r="0.23"/><circle cx="385.7" cy="382.0" r="0.38"/><circle cx="394.3" cy="367.9" r="0.29"/><circle cx="383.7" cy="370.2" r="0.20"/><circle cx="385.3" cy="366.8" r="0.38"/><circle cx="376.5" cy="373.7" r="0.46"/><circle cx="408.9" cy="380.2" r="0.39"/><circle cx="392.7" cy="379.2" r="0.31"/><circle cx="384.9" cy="385.7" r="0.45"/><circle cx="387.2" cy="379.9" r="0.32"/><circle cx="389.2" cy="357.8" r="0.34"/><circle cx="391.5" cy="383.4" r="0.43"/><circle cx="390.4" cy="372.7" r="0.29"/><circle cx="395.6" cy="388.2" r="0.18"/><circle cx="393.7" cy="378.8" r="0.31"/><circle cx="408.0" cy="371.9" r="0.28"/><circle cx="399.6" cy="371.0" r="0.27"/><circle cx="395.0" cy="372.0" r="0.41"/><circle cx="393.0" cy="375.0" r="0.24"/><circle cx="383.5" cy="376.1" r="0.33"/><circle cx="402.6" cy="376.0" r="0.47"/><circle cx="382.7" cy="377.7" r="0.19"/><circle cx="391.2" cy="390.9" r="0.38"/><circle cx="390.3" cy="373.0" r="0.29"/><circle cx="396.7" cy="361.3" r="0.35"/><circle cx="406.6" cy="364.7" r="0.36"/><circle cx="397.3" cy="373.8" r="0.41"/><circle cx="379.8" cy="382.1" r="0.42"/><circle cx="404.2" cy="367.5" r="0.48"/><circle cx="395.2" cy="355.9" r="0.21"/><circle cx="396.8" cy="361.5" r="0.47"/><circle cx="403.0" cy="372.9" r="0.29"/><circle cx="392.9" cy="385.7" r="0.25"/><circle cx="391.3" cy="367.6" r="0.21"/><circle cx="389.7" cy="374.5" r="0.28"/><circle cx="408.3" cy="362.8" r="0.22"/><circle cx="411.1" cy="375.1" r="0.47"/><circle cx="389.0" cy="369.3" r="0.24"/><circle cx="410.1" cy="364.6" r="0.17"/><circle cx="399.3" cy="384.2" r="0.25"/><circle cx="394.8" cy="362.0" r="0.41"/><circle cx="402.1" cy="384.0" r="0.47"/><circle cx="392.9" cy="367.9" r="0.20"/><circle cx="387.5" cy="364.4" r="0.28"/><circle cx="380.6" cy="375.2" r="0.47"/><circle cx="395.3" cy="387.0" r="0.24"/><circle cx="379.4" cy="368.8" r="0.20"/><circle cx="379.2" cy="375.0" r="0.16"/><circle cx="396.1" cy="361.4" r="0.32"/><circle cx="381.9" cy="362.7" r="0.18"/><circle cx="390.9" cy="373.2" r="0.28"/><circle cx="393.0" cy="375.4" r="0.26"/><circle cx="380.4" cy="377.8" r="0.46"/><circle cx="385.3" cy="382.9" r="0.39"/><circle cx="411.0" cy="366.3" r="0.48"/><circle cx="392.1" cy="380.3" r="0.46"/><circle cx="405.4" cy="379.0" r="0.40"/><circle cx="383.2" cy="371.1" r="0.46"/><circle cx="390.3" cy="386.2" r="0.43"/><circle cx="401.5" cy="381.5" r="0.32"/><circle cx="386.8" cy="369.8" r="0.31"/><circle cx="399.6" cy="375.2" r="0.27"/><circle cx="405.7" cy="387.4" r="0.24"/><circle cx="391.9" cy="389.3" r="0.40"/><circle cx="393.2" cy="389.9" r="0.36"/><circle cx="383.4" cy="382.6" r="0.24"/><circle cx="393.1" cy="390.3" r="0.30"/><circle cx="400.7" cy="368.6" r="0.20"/><circle cx="409.5" cy="378.3" r="0.34"/><circle cx="398.3" cy="373.4" r="0.42"/><circle cx="377.4" cy="373.8" r="0.17"/><circle cx="389.2" cy="369.9" r="0.39"/><circle cx="383.5" cy="363.9" r="0.23"/><circle cx="400.3" cy="371.3" r="0.18"/><circle cx="392.2" cy="368.1" r="0.18"/><circle cx="380.2" cy="376.9" r="0.45"/><circle cx="393.6" cy="368.4" r="0.37"/><circle cx="398.0" cy="367.9" r="0.40"/><circle cx="394.0" cy="383.2" r="0.16"/><circle cx="395.2" cy="360.0" r="0.45"/><circle cx="387.4" cy="374.8" r="0.23"/><circle cx="393.0" cy="391.0" r="0.23"/><circle cx="403.8" cy="378.9" r="0.19"/><circle cx="381.6" cy="379.8" r="0.37"/><circle cx="397.6" cy="379.3" r="0.32"/><circle cx="389.8" cy="361.9" r="0.34"/><circle cx="400.5" cy="369.5" r="0.25"/><circle cx="381.1" cy="373.7" r="0.45"/><circle cx="380.4" cy="368.1" r="0.29"/><circle cx="398.1" cy="356.8" r="0.25"/><circle cx="401.8" cy="379.1" r="0.27"/><circle cx="401.8" cy="367.2" r="0.36"/><circle cx="383.1" cy="359.3" r="0.20"/><circle cx="395.8" cy="362.6" r="0.19"/><circle cx="383.1" cy="360.7" r="0.35"/><circle cx="411.7" cy="378.8" r="0.28"/><circle cx="384.3" cy="361.4" r="0.24"/><circle cx="385.7" cy="378.9" r="0.19"/><circle cx="408.8" cy="379.3" r="0.29"/><circle cx="397.6" cy="369.8" r="0.26"/><circle cx="402.1" cy="389.4" r="0.41"/><circle cx="404.9" cy="365.3" r="0.19"/><circle cx="386.9" cy="377.6" r="0.17"/><circle cx="385.4" cy="369.3" r="0.19"/><circle cx="376.8" cy="371.9" r="0.46"/><circle cx="388.7" cy="374.4" r="0.41"/><circle cx="404.6" cy="382.1" r="0.19"/><circle cx="408.0" cy="372.1" r="0.30"/><circle cx="392.6" cy="386.7" r="0.47"/><circle cx="386.9" cy="376.9" r="0.32"/><circle cx="404.4" cy="367.6" r="0.36"/><circle cx="403.6" cy="368.1" r="0.42"/><circle cx="387.8" cy="372.0" r="0.18"/><circle cx="406.1" cy="368.5" r="0.30"/><circle cx="406.6" cy="366.3" r="0.32"/><circle cx="391.1" cy="388.7" r="0.24"/><circle cx="378.8" cy="376.1" r="0.35"/><circle cx="400.0" cy="379.4" r="0.38"/><circle cx="393.7" cy="367.4" r="0.48"/><circle cx="399.5" cy="378.8" r="0.19"/><circle cx="380.9" cy="378.0" r="0.43"/><circle cx="402.5" cy="386.3" r="0.19"/><circle cx="386.4" cy="368.7" r="0.27"/><circle cx="409.3" cy="378.3" r="0.20"/><circle cx="395.4" cy="362.6" r="0.35"/><circle cx="386.3" cy="363.4" r="0.44"/><circle cx="403.0" cy="368.5" r="0.27"/><circle cx="399.3" cy="368.5" r="0.29"/><circle cx="378.9" cy="382.5" r="0.20"/><circle cx="385.5" cy="360.0" r="0.39"/><circle cx="412.3" cy="373.3" r="0.26"/><circle cx="403.5" cy="361.3" r="0.29"/><circle cx="402.4" cy="360.3" r="0.27"/><circle cx="393.0" cy="360.2" r="0.39"/><circle cx="382.2" cy="362.4" r="0.21"/><circle cx="393.9" cy="373.2" r="0.41"/><circle cx="396.8" cy="356.5" r="0.17"/><circle cx="382.1" cy="370.4" r="0.20"/><circle cx="399.8" cy="390.5" r="0.43"/><circle cx="395.7" cy="389.9" r="0.37"/><circle cx="383.4" cy="383.0" r="0.23"/><circle cx="394.2" cy="375.0" r="0.37"/><circle cx="380.7" cy="365.4" r="0.32"/><circle cx="385.2" cy="377.2" r="0.40"/><circle cx="384.6" cy="383.4" r="0.40"/><circle cx="380.2" cy="378.4" r="0.18"/><circle cx="393.4" cy="390.0" r="0.21"/><circle cx="396.6" cy="374.0" r="0.41"/><circle cx="404.3" cy="380.9" r="0.30"/><circle cx="398.6" cy="361.2" r="0.33"/><circle cx="410.7" cy="375.7" r="0.41"/><circle cx="382.5" cy="361.4" r="0.36"/><circle cx="390.9" cy="356.6" r="0.36"/><circle cx="411.6" cy="375.4" r="0.48"/><circle cx="395.9" cy="377.7" r="0.27"/><circle cx="403.5" cy="379.8" r="0.19"/><circle cx="394.7" cy="374.2" r="0.30"/><circle cx="389.7" cy="388.1" r="0.28"/><circle cx="403.5" cy="388.7" r="0.45"/><circle cx="391.3" cy="365.3" r="0.29"/><circle cx="383.3" cy="376.8" r="0.17"/><circle cx="379.0" cy="377.6" r="0.38"/><circle cx="404.2" cy="361.5" r="0.40"/><circle cx="406.6" cy="360.4" r="0.41"/><circle cx="381.6" cy="380.7" r="0.37"/><circle cx="406.0" cy="362.8" r="0.30"/><circle cx="398.3" cy="383.0" r="0.24"/><circle cx="387.8" cy="358.5" r="0.22"/><circle cx="378.0" cy="369.7" r="0.28"/><circle cx="406.3" cy="381.2" r="0.28"/><circle cx="400.6" cy="380.9" r="0.16"/><circle cx="401.6" cy="382.8" r="0.19"/><circle cx="408.1" cy="373.7" r="0.47"/><circle cx="399.8" cy="364.1" r="0.46"/><circle cx="400.7" cy="376.6" r="0.16"/><circle cx="407.8" cy="378.3" r="0.40"/><circle cx="378.2" cy="375.5" r="0.30"/><circle cx="407.0" cy="366.2" r="0.33"/><circle cx="400.2" cy="383.7" r="0.30"/><circle cx="398.4" cy="365.3" r="0.25"/><circle cx="396.5" cy="368.7" r="0.33"/><circle cx="397.3" cy="387.9" r="0.35"/><circle cx="407.5" cy="382.0" r="0.29"/><circle cx="387.2" cy="388.6" r="0.41"/><circle cx="389.0" cy="387.3" r="0.20"/><circle cx="389.3" cy="372.6" r="0.37"/><circle cx="407.2" cy="365.8" r="0.17"/><circle cx="382.0" cy="372.2" r="0.30"/><circle cx="400.1" cy="381.1" r="0.30"/><circle cx="408.1" cy="379.7" r="0.24"/><circle cx="393.1" cy="378.6" r="0.26"/><circle cx="403.5" cy="369.0" r="0.19"/><circle cx="384.4" cy="387.9" r="0.19"/><circle cx="389.9" cy="380.2" r="0.38"/><circle cx="388.9" cy="374.6" r="0.44"/><circle cx="387.3" cy="386.6" r="0.30"/><circle cx="397.6" cy="370.0" r="0.23"/><circle cx="392.4" cy="382.4" r="0.42"/><circle cx="383.7" cy="373.0" r="0.32"/><circle cx="402.4" cy="361.8" r="0.30"/><circle cx="386.5" cy="361.2" r="0.29"/><circle cx="388.5" cy="376.2" r="0.30"/><circle cx="401.9" cy="366.2" r="0.28"/><circle cx="383.3" cy="364.7" r="0.22"/><circle cx="379.7" cy="378.4" r="0.17"/><circle cx="406.9" cy="383.3" r="0.45"/><circle cx="399.3" cy="375.4" r="0.36"/><circle cx="391.3" cy="387.7" r="0.17"/><circle cx="387.4" cy="375.2" r="0.27"/><circle cx="389.9" cy="360.9" r="0.43"/><circle cx="402.4" cy="361.1" r="0.43"/><circle cx="400.1" cy="384.6" r="0.26"/><circle cx="390.2" cy="368.9" r="0.44"/><circle cx="383.3" cy="385.0" r="0.46"/><circle cx="405.2" cy="369.0" r="0.43"/><circle cx="401.1" cy="373.1" r="0.40"/><circle cx="392.7" cy="360.9" r="0.25"/><circle cx="400.0" cy="383.6" r="0.46"/><circle cx="386.9" cy="378.6" r="0.36"/><circle cx="381.2" cy="378.7" r="0.31"/><circle cx="393.7" cy="376.6" r="0.42"/><circle cx="389.6" cy="365.6" r="0.32"/><circle cx="383.1" cy="366.9" r="0.45"/><circle cx="396.3" cy="363.2" r="0.27"/><circle cx="388.8" cy="368.4" r="0.46"/><circle cx="407.0" cy="376.9" r="0.25"/><circle cx="390.6" cy="372.6" r="0.23"/><circle cx="410.8" cy="372.1" r="0.23"/><circle cx="391.3" cy="374.1" r="0.20"/><circle cx="401.0" cy="390.2" r="0.26"/><circle cx="394.6" cy="377.9" r="0.20"/><circle cx="410.3" cy="372.7" r="0.45"/><circle cx="402.8" cy="359.2" r="0.24"/><circle cx="399.1" cy="381.5" r="0.18"/><circle cx="401.5" cy="387.1" r="0.32"/><circle cx="404.6" cy="373.9" r="0.43"/><circle cx="403.8" cy="360.6" r="0.39"/><circle cx="406.2" cy="366.0" r="0.28"/><circle cx="385.8" cy="368.9" r="0.17"/><circle cx="393.7" cy="385.6" r="0.20"/><circle cx="402.5" cy="377.6" r="0.28"/><circle cx="406.9" cy="369.8" r="0.43"/><circle cx="394.0" cy="359.1" r="0.26"/><circle cx="386.4" cy="379.7" r="0.36"/><circle cx="404.5" cy="360.3" r="0.25"/><circle cx="395.5" cy="374.6" r="0.35"/><circle cx="394.7" cy="374.6" r="0.26"/><circle cx="395.6" cy="381.4" r="0.37"/><circle cx="386.1" cy="368.3" r="0.39"/><circle cx="399.3" cy="390.2" r="0.20"/><circle cx="381.6" cy="364.8" r="0.39"/><circle cx="377.4" cy="374.6" r="0.36"/><circle cx="392.6" cy="368.4" r="0.22"/><circle cx="381.2" cy="376.1" r="0.19"/><circle cx="393.9" cy="362.4" r="0.31"/><circle cx="377.8" cy="370.9" r="0.26"/><circle cx="381.2" cy="368.0" r="0.37"/><circle cx="390.8" cy="382.2" r="0.31"/><circle cx="382.6" cy="364.5" r="0.20"/><circle cx="381.5" cy="377.8" r="0.22"/><circle cx="408.7" cy="383.8" r="0.17"/><circle cx="384.5" cy="373.3" r="0.17"/><circle cx="393.6" cy="380.5" r="0.29"/><circle cx="398.9" cy="370.4" r="0.27"/><circle cx="389.6" cy="359.5" r="0.17"/><circle cx="395.8" cy="382.9" r="0.45"/><circle cx="385.8" cy="376.5" r="0.31"/><circle cx="387.4" cy="373.9" r="0.37"/><circle cx="392.2" cy="360.7" r="0.33"/><circle cx="396.8" cy="355.4" r="0.36"/><circle cx="407.1" cy="376.8" r="0.37"/><circle cx="387.1" cy="386.5" r="0.28"/><circle cx="383.8" cy="363.6" r="0.37"/><circle cx="408.3" cy="366.2" r="0.39"/><circle cx="392.0" cy="364.7" r="0.36"/><circle cx="391.2" cy="370.1" r="0.40"/><circle cx="396.4" cy="386.0" r="0.33"/><circle cx="391.7" cy="357.4" r="0.31"/><circle cx="405.9" cy="368.7" r="0.34"/><circle cx="404.9" cy="372.6" r="0.39"/><circle cx="399.6" cy="371.8" r="0.41"/><circle cx="386.7" cy="362.2" r="0.41"/><circle cx="399.0" cy="367.8" r="0.32"/><circle cx="383.0" cy="363.0" r="0.47"/><circle cx="400.0" cy="357.4" r="0.18"/><circle cx="378.8" cy="381.0" r="0.46"/><circle cx="394.9" cy="362.6" r="0.41"/><circle cx="379.8" cy="370.2" r="0.36"/><circle cx="404.8" cy="361.6" r="0.47"/><circle cx="381.6" cy="373.7" r="0.37"/><circle cx="390.7" cy="371.7" r="0.47"/><circle cx="389.1" cy="385.0" r="0.17"/><circle cx="401.0" cy="389.7" r="0.25"/><circle cx="389.5" cy="389.0" r="0.24"/><circle cx="387.6" cy="361.2" r="0.45"/><circle cx="384.1" cy="374.7" r="0.24"/><circle cx="394.4" cy="373.3" r="0.20"/><circle cx="400.6" cy="381.5" r="0.41"/><circle cx="404.7" cy="369.3" r="0.24"/><circle cx="390.6" cy="387.2" r="0.31"/><circle cx="404.3" cy="382.1" r="0.25"/><circle cx="404.6" cy="386.0" r="0.19"/><circle cx="379.6" cy="379.2" r="0.33"/><circle cx="401.8" cy="365.8" r="0.46"/><circle cx="411.2" cy="377.9" r="0.30"/><circle cx="403.9" cy="373.4" r="0.48"/><circle cx="391.2" cy="357.8" r="0.42"/><circle cx="404.7" cy="373.6" r="0.31"/><circle cx="409.2" cy="363.7" r="0.21"/><circle cx="408.1" cy="372.1" r="0.26"/><circle cx="404.9" cy="379.2" r="0.33"/><circle cx="384.7" cy="376.2" r="0.46"/><circle cx="384.4" cy="374.8" r="0.41"/><circle cx="394.9" cy="385.1" r="0.19"/><circle cx="395.9" cy="391.5" r="0.36"/><circle cx="379.6" cy="371.0" r="0.38"/><circle cx="383.5" cy="371.7" r="0.21"/><circle cx="400.8" cy="374.4" r="0.29"/><circle cx="409.6" cy="374.2" r="0.27"/><circle cx="395.6" cy="383.4" r="0.32"/><circle cx="398.8" cy="389.6" r="0.31"/><circle cx="399.4" cy="375.4" r="0.44"/><circle cx="385.8" cy="368.5" r="0.39"/><circle cx="411.1" cy="378.1" r="0.46"/><circle cx="392.4" cy="369.7" r="0.30"/><circle cx="401.8" cy="361.1" r="0.23"/><circle cx="395.0" cy="377.8" r="0.33"/><circle cx="399.6" cy="384.3" r="0.45"/><circle cx="405.0" cy="365.7" r="0.41"/><circle cx="406.4" cy="386.5" r="0.44"/><circle cx="377.3" cy="375.1" r="0.26"/><circle cx="404.9" cy="371.9" r="0.46"/><circle cx="403.7" cy="358.0" r="0.39"/><circle cx="403.2" cy="377.5" r="0.37"/><circle cx="409.3" cy="363.6" r="0.20"/><circle cx="384.8" cy="386.9" r="0.25"/><circle cx="397.2" cy="390.2" r="0.31"/><circle cx="392.7" cy="390.0" r="0.50"/><circle cx="379.9" cy="363.1" r="0.49"/><circle cx="412.2" cy="376.7" r="0.22"/><circle cx="400.4" cy="389.9" r="0.43"/><circle cx="381.7" cy="361.9" r="0.42"/><circle cx="379.7" cy="380.4" r="0.26"/><circle cx="406.7" cy="383.6" r="0.50"/><circle cx="410.5" cy="368.0" r="0.32"/><circle cx="391.3" cy="390.7" r="0.35"/><circle cx="403.2" cy="389.1" r="0.49"/><circle cx="410.8" cy="378.1" r="0.26"/><circle cx="383.7" cy="360.3" r="0.29"/><circle cx="388.9" cy="389.7" r="0.35"/><circle cx="377.0" cy="374.5" r="0.34"/><circle cx="410.6" cy="367.6" r="0.45"/><circle cx="410.3" cy="365.8" r="0.38"/><circle cx="398.9" cy="356.1" r="0.25"/><circle cx="380.4" cy="381.3" r="0.20"/><circle cx="388.1" cy="357.7" r="0.27"/><circle cx="410.3" cy="375.8" r="0.41"/><circle cx="383.8" cy="386.4" r="0.41"/><circle cx="409.2" cy="363.5" r="0.26"/><circle cx="410.8" cy="372.1" r="0.38"/><circle cx="384.2" cy="360.1" r="0.48"/><circle cx="380.9" cy="361.9" r="0.24"/><circle cx="402.7" cy="358.7" r="0.39"/><circle cx="393.1" cy="356.5" r="0.28"/><circle cx="385.6" cy="389.2" r="0.40"/><circle cx="377.5" cy="376.3" r="0.40"/><circle cx="393.3" cy="389.3" r="0.23"/><circle cx="379.4" cy="364.6" r="0.50"/><circle cx="381.4" cy="360.8" r="0.51"/><circle cx="377.5" cy="373.6" r="0.34"/><circle cx="382.2" cy="386.0" r="0.38"/><circle cx="407.6" cy="385.9" r="0.36"/><circle cx="394.4" cy="355.9" r="0.38"/><circle cx="380.1" cy="365.7" r="0.23"/><circle cx="392.5" cy="356.5" r="0.23"/><circle cx="401.6" cy="356.9" r="0.44"/><circle cx="382.2" cy="383.8" r="0.44"/><circle cx="398.3" cy="390.4" r="0.41"/><circle cx="392.2" cy="389.0" r="0.38"/><circle cx="398.9" cy="356.4" r="0.51"/><circle cx="396.9" cy="390.8" r="0.33"/><circle cx="379.9" cy="365.1" r="0.27"/><circle cx="377.9" cy="368.0" r="0.48"/><circle cx="380.9" cy="362.8" r="0.40"/><circle cx="382.8" cy="361.0" r="0.28"/><circle cx="387.5" cy="357.8" r="0.20"/><circle cx="402.6" cy="387.9" r="0.41"/><circle cx="385.0" cy="359.0" r="0.45"/><circle cx="386.7" cy="388.1" r="0.43"/><circle cx="387.2" cy="357.9" r="0.48"/><circle cx="411.5" cy="376.0" r="0.47"/><circle cx="406.4" cy="361.9" r="0.45"/><circle cx="376.7" cy="369.4" r="0.30"/><circle cx="385.5" cy="358.2" r="0.51"/><circle cx="385.5" cy="387.5" r="0.23"/><circle cx="388.0" cy="358.5" r="0.46"/><circle cx="404.5" cy="386.2" r="0.50"/><circle cx="376.7" cy="373.4" r="0.30"/><circle cx="395.3" cy="390.0" r="0.51"/><circle cx="401.0" cy="390.1" r="0.47"/><circle cx="387.5" cy="358.2" r="0.43"/><circle cx="408.9" cy="363.4" r="0.26"/><circle cx="380.4" cy="361.6" r="0.38"/><circle cx="404.2" cy="386.5" r="0.39"/><circle cx="409.7" cy="377.9" r="0.31"/><circle cx="393.7" cy="390.3" r="0.22"/><circle cx="378.1" cy="366.8" r="0.29"/><circle cx="379.5" cy="364.7" r="0.44"/><circle cx="379.0" cy="365.1" r="0.37"/><circle cx="401.7" cy="358.7" r="0.23"/><circle cx="406.4" cy="359.8" r="0.19"/><circle cx="408.2" cy="362.4" r="0.47"/><circle cx="389.4" cy="357.1" r="0.23"/><circle cx="396.1" cy="355.6" r="0.34"/><circle cx="392.3" cy="389.9" r="0.49"/><circle cx="378.5" cy="377.0" r="0.51"/><circle cx="410.7" cy="371.0" r="0.26"/><circle cx="392.4" cy="356.5" r="0.34"/><circle cx="387.8" cy="358.0" r="0.38"/><circle cx="399.2" cy="389.0" r="0.37"/><circle cx="378.2" cy="381.1" r="0.24"/><circle cx="408.8" cy="364.9" r="0.30"/><circle cx="407.6" cy="383.5" r="0.51"/><circle cx="382.9" cy="386.9" r="0.50"/><circle cx="389.0" cy="357.8" r="0.33"/><circle cx="402.7" cy="387.5" r="0.30"/><circle cx="403.4" cy="388.4" r="0.36"/></g>
<circle cx="394.30" cy="421.50" r="21.80" fill="#cacadc" stroke="#aeaed4" stroke-width="1.3"/>
<circle cx="394.30" cy="421.50" r="18.75" fill="#c4c4de" filter="url(#blur1)"/>
<g fill="#5050b8" opacity="0.6" filter="url(#blur05)"><circle cx="391.9" cy="430.5" r="0.22"/><circle cx="403.5" cy="429.5" r="0.20"/><circle cx="385.1" cy="420.2" r="0.43"/><circle cx="392.5" cy="438.4" r="0.49"/><circle cx="402.2" cy="417.7" r="0.49"/><circle cx="377.3" cy="424.5" r="0.33"/><circle cx="385.3" cy="419.1" r="0.43"/><circle cx="382.7" cy="434.3" r="0.41"/><circle cx="391.4" cy="422.9" r="0.26"/><circle cx="384.6" cy="427.1" r="0.37"/><circle cx="406.9" cy="421.9" r="0.47"/><circle cx="408.9" cy="417.1" r="0.40"/><circle cx="379.6" cy="410.4" r="0.44"/><circle cx="381.8" cy="424.7" r="0.49"/><circle cx="380.8" cy="417.0" r="0.27"/><circle cx="387.7" cy="410.5" r="0.49"/><circle cx="412.6" cy="421.5" r="0.49"/><circle cx="399.1" cy="422.8" r="0.29"/><circle cx="400.7" cy="409.3" r="0.26"/><circle cx="401.7" cy="426.9" r="0.21"/><circle cx="404.1" cy="433.9" r="0.24"/><circle cx="401.5" cy="434.0" r="0.21"/><circle cx="401.7" cy="408.7" r="0.47"/><circle cx="391.9" cy="406.0" r="0.26"/><circle cx="384.3" cy="426.8" r="0.30"/><circle cx="404.6" cy="415.1" r="0.44"/><circle cx="390.7" cy="417.6" r="0.24"/><circle cx="379.9" cy="413.8" r="0.25"/><circle cx="394.3" cy="432.8" r="0.33"/><circle cx="378.8" cy="430.0" r="0.38"/><circle cx="392.4" cy="432.1" r="0.34"/><circle cx="400.4" cy="431.2" r="0.19"/><circle cx="384.8" cy="407.3" r="0.48"/><circle cx="385.0" cy="415.0" r="0.36"/><circle cx="387.0" cy="418.9" r="0.35"/><circle cx="386.1" cy="421.6" r="0.32"/><circle cx="401.9" cy="408.9" r="0.28"/><circle cx="395.3" cy="436.0" r="0.36"/><circle cx="390.6" cy="433.5" r="0.31"/><circle cx="382.3" cy="409.2" r="0.30"/><circle cx="380.9" cy="418.2" r="0.40"/><circle cx="394.7" cy="430.6" r="0.48"/><circle cx="403.6" cy="433.5" r="0.26"/><circle cx="382.0" cy="422.2" r="0.25"/><circle cx="402.3" cy="437.6" r="0.18"/><circle cx="404.2" cy="433.8" r="0.30"/><circle cx="399.8" cy="436.7" r="0.50"/><circle cx="398.4" cy="436.4" r="0.30"/><circle cx="408.5" cy="421.3" r="0.47"/><circle cx="390.8" cy="415.8" r="0.32"/><circle cx="392.3" cy="414.6" r="0.20"/><circle cx="411.9" cy="420.5" r="0.39"/><circle cx="408.5" cy="427.5" r="0.51"/><circle cx="397.4" cy="406.3" r="0.32"/><circle cx="382.4" cy="408.4" r="0.34"/><circle cx="400.5" cy="424.7" r="0.49"/><circle cx="389.8" cy="404.3" r="0.22"/><circle cx="406.3" cy="430.8" r="0.32"/><circle cx="385.7" cy="423.5" r="0.43"/><circle cx="397.4" cy="406.2" r="0.32"/><circle cx="382.8" cy="422.2" r="0.33"/><circle cx="388.5" cy="432.7" r="0.50"/><circle cx="396.5" cy="415.1" r="0.40"/><circle cx="398.9" cy="411.7" r="0.47"/><circle cx="398.8" cy="419.7" r="0.38"/><circle cx="385.1" cy="430.1" r="0.36"/><circle cx="403.6" cy="410.2" r="0.47"/><circle cx="394.4" cy="437.9" r="0.30"/><circle cx="401.1" cy="436.5" r="0.37"/><circle cx="397.0" cy="438.7" r="0.34"/><circle cx="385.9" cy="405.3" r="0.28"/><circle cx="381.2" cy="417.8" r="0.27"/><circle cx="376.7" cy="417.7" r="0.41"/><circle cx="392.8" cy="436.6" r="0.38"/><circle cx="384.1" cy="432.6" r="0.30"/><circle cx="396.5" cy="410.3" r="0.45"/><circle cx="392.1" cy="428.8" r="0.28"/><circle cx="406.4" cy="433.7" r="0.51"/><circle cx="386.5" cy="426.0" r="0.47"/><circle cx="399.7" cy="414.2" r="0.27"/><circle cx="387.6" cy="421.6" r="0.24"/><circle cx="389.2" cy="425.3" r="0.22"/><circle cx="386.3" cy="415.3" r="0.48"/><circle cx="408.9" cy="417.9" r="0.26"/><circle cx="395.0" cy="410.8" r="0.47"/><circle cx="380.7" cy="428.5" r="0.43"/><circle cx="389.6" cy="406.3" r="0.29"/><circle cx="400.8" cy="430.6" r="0.50"/><circle cx="403.8" cy="423.7" r="0.28"/><circle cx="378.3" cy="427.8" r="0.23"/><circle cx="396.2" cy="423.0" r="0.29"/><circle cx="392.5" cy="409.3" r="0.39"/><circle cx="383.3" cy="420.6" r="0.31"/><circle cx="411.6" cy="426.1" r="0.42"/><circle cx="401.1" cy="426.3" r="0.44"/><circle cx="378.4" cy="420.7" r="0.43"/><circle cx="404.5" cy="434.7" r="0.24"/><circle cx="404.6" cy="433.6" r="0.45"/><circle cx="390.6" cy="432.3" r="0.42"/><circle cx="390.9" cy="433.3" r="0.51"/><circle cx="406.5" cy="434.5" r="0.47"/><circle cx="403.4" cy="421.3" r="0.24"/><circle cx="387.3" cy="424.4" r="0.48"/><circle cx="379.1" cy="414.2" r="0.34"/><circle cx="376.3" cy="421.7" r="0.21"/><circle cx="396.9" cy="438.3" r="0.37"/><circle cx="398.0" cy="403.5" r="0.43"/><circle cx="382.0" cy="411.3" r="0.35"/><circle cx="396.3" cy="431.8" r="0.48"/><circle cx="391.1" cy="421.0" r="0.39"/><circle cx="408.8" cy="420.9" r="0.34"/><circle cx="380.3" cy="425.5" r="0.38"/><circle cx="376.9" cy="422.8" r="0.47"/><circle cx="397.4" cy="406.2" r="0.41"/><circle cx="398.5" cy="433.7" r="0.26"/><circle cx="399.3" cy="438.7" r="0.25"/><circle cx="401.0" cy="406.1" r="0.31"/><circle cx="401.9" cy="422.7" r="0.39"/><circle cx="391.5" cy="410.9" r="0.37"/><circle cx="402.0" cy="434.2" r="0.44"/><circle cx="397.1" cy="408.0" r="0.36"/><circle cx="403.8" cy="421.6" r="0.31"/><circle cx="398.8" cy="423.7" r="0.50"/><circle cx="388.7" cy="408.9" r="0.40"/><circle cx="404.2" cy="410.8" r="0.32"/><circle cx="380.2" cy="432.8" r="0.49"/><circle cx="403.9" cy="435.1" r="0.39"/><circle cx="385.8" cy="434.2" r="0.26"/><circle cx="393.9" cy="407.8" r="0.37"/><circle cx="410.7" cy="427.6" r="0.50"/><circle cx="395.0" cy="411.6" r="0.42"/><circle cx="404.4" cy="430.6" r="0.29"/><circle cx="384.6" cy="423.3" r="0.19"/><circle cx="386.1" cy="425.0" r="0.23"/><circle cx="391.1" cy="427.2" r="0.18"/><circle cx="398.6" cy="420.8" r="0.47"/><circle cx="388.7" cy="424.6" r="0.32"/><circle cx="390.0" cy="421.3" r="0.35"/><circle cx="404.3" cy="422.0" r="0.41"/><circle cx="398.6" cy="415.1" r="0.31"/><circle cx="404.1" cy="418.2" r="0.21"/><circle cx="394.6" cy="438.6" r="0.29"/><circle cx="385.3" cy="406.2" r="0.38"/><circle cx="398.4" cy="433.6" r="0.28"/><circle cx="380.0" cy="423.4" r="0.50"/><circle cx="389.4" cy="409.4" r="0.45"/><circle cx="386.2" cy="421.1" r="0.40"/><circle cx="393.2" cy="429.9" r="0.30"/><circle cx="391.0" cy="421.8" r="0.29"/><circle cx="407.0" cy="418.3" r="0.30"/><circle cx="379.5" cy="425.6" r="0.34"/><circle cx="382.7" cy="429.4" r="0.26"/><circle cx="389.4" cy="410.6" r="0.41"/><circle cx="385.8" cy="433.5" r="0.24"/><circle cx="381.5" cy="422.7" r="0.18"/><circle cx="403.0" cy="430.4" r="0.43"/><circle cx="400.7" cy="405.9" r="0.44"/><circle cx="402.3" cy="419.8" r="0.22"/><circle cx="404.8" cy="434.0" r="0.23"/><circle cx="391.5" cy="427.7" r="0.48"/><circle cx="396.5" cy="430.1" r="0.37"/><circle cx="393.3" cy="418.1" r="0.37"/><circle cx="380.9" cy="418.9" r="0.35"/><circle cx="399.2" cy="405.6" r="0.46"/><circle cx="392.5" cy="424.8" r="0.33"/><circle cx="408.8" cy="423.9" r="0.33"/><circle cx="394.0" cy="404.7" r="0.42"/><circle cx="390.6" cy="411.6" r="0.42"/><circle cx="388.8" cy="414.9" r="0.47"/><circle cx="381.1" cy="423.8" r="0.24"/><circle cx="400.5" cy="410.5" r="0.42"/><circle cx="401.5" cy="410.4" r="0.37"/><circle cx="385.6" cy="423.5" r="0.44"/><circle cx="397.3" cy="419.9" r="0.18"/><circle cx="389.2" cy="422.5" r="0.32"/><circle cx="389.4" cy="429.1" r="0.43"/><circle cx="378.9" cy="412.8" r="0.24"/><circle cx="383.8" cy="431.3" r="0.43"/><circle cx="387.2" cy="425.0" r="0.30"/><circle cx="377.9" cy="414.0" r="0.39"/><circle cx="403.7" cy="407.6" r="0.32"/><circle cx="377.5" cy="420.9" r="0.42"/><circle cx="387.9" cy="426.2" r="0.42"/><circle cx="391.8" cy="430.6" r="0.26"/><circle cx="388.6" cy="407.9" r="0.49"/><circle cx="383.5" cy="414.7" r="0.47"/><circle cx="403.4" cy="432.3" r="0.51"/><circle cx="390.7" cy="427.7" r="0.21"/><circle cx="409.8" cy="424.2" r="0.31"/><circle cx="401.5" cy="406.3" r="0.18"/><circle cx="391.0" cy="430.3" r="0.26"/><circle cx="403.4" cy="423.2" r="0.29"/><circle cx="381.5" cy="425.4" r="0.50"/><circle cx="399.5" cy="425.7" r="0.48"/><circle cx="391.1" cy="434.6" r="0.27"/><circle cx="408.4" cy="410.6" r="0.36"/><circle cx="403.6" cy="427.7" r="0.41"/><circle cx="385.4" cy="417.6" r="0.30"/><circle cx="405.1" cy="425.9" r="0.45"/><circle cx="384.8" cy="429.7" r="0.23"/><circle cx="391.5" cy="410.0" r="0.30"/><circle cx="395.8" cy="411.6" r="0.20"/><circle cx="384.4" cy="409.2" r="0.19"/><circle cx="384.6" cy="435.8" r="0.34"/><circle cx="388.8" cy="425.2" r="0.27"/><circle cx="379.3" cy="412.4" r="0.40"/><circle cx="405.8" cy="419.2" r="0.19"/><circle cx="388.3" cy="430.8" r="0.19"/><circle cx="409.6" cy="430.1" r="0.47"/><circle cx="397.8" cy="425.4" r="0.50"/><circle cx="399.3" cy="430.2" r="0.25"/><circle cx="395.1" cy="424.6" r="0.33"/><circle cx="395.1" cy="416.7" r="0.34"/><circle cx="405.3" cy="433.5" r="0.48"/><circle cx="403.8" cy="412.0" r="0.22"/><circle cx="393.3" cy="416.7" r="0.43"/><circle cx="389.0" cy="438.0" r="0.27"/><circle cx="393.5" cy="408.6" r="0.25"/><circle cx="382.3" cy="422.2" r="0.22"/><circle cx="381.5" cy="417.6" r="0.41"/><circle cx="386.6" cy="433.7" r="0.24"/><circle cx="385.4" cy="420.3" r="0.44"/><circle cx="397.9" cy="430.7" r="0.19"/><circle cx="390.2" cy="434.4" r="0.25"/><circle cx="406.9" cy="433.5" r="0.28"/><circle cx="396.8" cy="432.8" r="0.46"/><circle cx="393.9" cy="404.0" r="0.36"/><circle cx="387.7" cy="432.7" r="0.19"/><circle cx="387.4" cy="406.2" r="0.48"/><circle cx="401.5" cy="408.6" r="0.44"/><circle cx="390.8" cy="434.8" r="0.23"/><circle cx="406.4" cy="416.4" r="0.23"/><circle cx="408.7" cy="420.1" r="0.24"/><circle cx="402.5" cy="409.5" r="0.38"/><circle cx="401.7" cy="414.3" r="0.26"/><circle cx="386.8" cy="418.0" r="0.41"/><circle cx="386.2" cy="422.7" r="0.21"/><circle cx="401.6" cy="433.4" r="0.48"/><circle cx="399.2" cy="405.3" r="0.36"/><circle cx="397.6" cy="411.5" r="0.30"/><circle cx="402.0" cy="416.2" r="0.38"/><circle cx="390.5" cy="419.8" r="0.36"/><circle cx="399.4" cy="404.9" r="0.31"/><circle cx="397.2" cy="419.4" r="0.48"/><circle cx="387.3" cy="406.5" r="0.32"/><circle cx="380.1" cy="412.8" r="0.25"/><circle cx="400.8" cy="436.1" r="0.47"/><circle cx="396.2" cy="435.0" r="0.34"/><circle cx="388.0" cy="437.2" r="0.27"/><circle cx="396.5" cy="409.9" r="0.22"/><circle cx="401.2" cy="419.8" r="0.20"/><circle cx="405.0" cy="423.5" r="0.18"/><circle cx="404.3" cy="436.2" r="0.26"/><circle cx="392.5" cy="413.2" r="0.17"/><circle cx="400.7" cy="421.8" r="0.49"/><circle cx="385.5" cy="424.0" r="0.19"/><circle cx="387.8" cy="413.5" r="0.23"/><circle cx="380.0" cy="427.5" r="0.29"/><circle cx="386.9" cy="418.5" r="0.36"/><circle cx="411.3" cy="426.1" r="0.49"/><circle cx="383.1" cy="415.7" r="0.31"/><circle cx="394.2" cy="407.5" r="0.41"/><circle cx="383.4" cy="425.6" r="0.42"/><circle cx="398.8" cy="431.3" r="0.25"/><circle cx="399.0" cy="437.9" r="0.28"/><circle cx="394.0" cy="417.5" r="0.48"/><circle cx="378.8" cy="424.6" r="0.21"/><circle cx="381.1" cy="411.5" r="0.27"/><circle cx="403.8" cy="427.8" r="0.43"/><circle cx="394.6" cy="416.9" r="0.28"/><circle cx="402.8" cy="416.5" r="0.20"/><circle cx="405.6" cy="409.3" r="0.32"/><circle cx="389.1" cy="406.5" r="0.45"/><circle cx="400.1" cy="436.1" r="0.48"/><circle cx="397.5" cy="408.6" r="0.30"/><circle cx="412.5" cy="419.2" r="0.44"/><circle cx="377.0" cy="420.8" r="0.47"/><circle cx="387.6" cy="421.3" r="0.38"/><circle cx="401.3" cy="429.5" r="0.36"/><circle cx="379.6" cy="421.3" r="0.45"/><circle cx="404.0" cy="418.2" r="0.49"/><circle cx="389.5" cy="431.2" r="0.43"/><circle cx="407.2" cy="419.5" r="0.44"/><circle cx="399.0" cy="412.3" r="0.38"/><circle cx="396.7" cy="420.5" r="0.21"/><circle cx="403.9" cy="411.6" r="0.31"/><circle cx="397.6" cy="409.7" r="0.22"/><circle cx="384.9" cy="434.5" r="0.39"/><circle cx="392.4" cy="421.6" r="0.51"/><circle cx="402.8" cy="426.1" r="0.44"/><circle cx="408.4" cy="415.7" r="0.30"/><circle cx="394.0" cy="406.5" r="0.37"/><circle cx="397.3" cy="408.2" r="0.35"/><circle cx="393.5" cy="437.7" r="0.21"/><circle cx="406.4" cy="429.7" r="0.19"/><circle cx="400.0" cy="415.8" r="0.33"/><circle cx="393.5" cy="434.2" r="0.38"/><circle cx="398.7" cy="434.3" r="0.50"/><circle cx="399.4" cy="428.4" r="0.24"/><circle cx="395.9" cy="422.8" r="0.50"/><circle cx="397.8" cy="420.7" r="0.45"/><circle cx="386.9" cy="417.5" r="0.47"/><circle cx="405.3" cy="431.3" r="0.40"/><circle cx="391.5" cy="413.0" r="0.22"/><circle cx="387.5" cy="414.2" r="0.38"/><circle cx="394.1" cy="418.2" r="0.42"/><circle cx="405.9" cy="420.0" r="0.37"/><circle cx="386.0" cy="436.6" r="0.25"/><circle cx="404.8" cy="429.2" r="0.32"/><circle cx="386.8" cy="418.0" r="0.49"/><circle cx="383.1" cy="419.0" r="0.42"/><circle cx="411.4" cy="425.7" r="0.45"/><circle cx="393.8" cy="433.9" r="0.18"/><circle cx="399.1" cy="404.0" r="0.37"/><circle cx="406.8" cy="419.8" r="0.47"/><circle cx="404.1" cy="406.8" r="0.33"/><circle cx="390.9" cy="421.3" r="0.49"/><circle cx="406.2" cy="428.9" r="0.37"/><circle cx="399.3" cy="431.2" r="0.27"/><circle cx="405.9" cy="422.2" r="0.30"/><circle cx="391.3" cy="406.4" r="0.49"/><circle cx="400.7" cy="414.8" r="0.38"/><circle cx="388.6" cy="406.2" r="0.22"/><circle cx="387.2" cy="434.0" r="0.28"/><circle cx="404.5" cy="415.5" r="0.41"/><circle cx="410.1" cy="428.8" r="0.50"/><circle cx="404.8" cy="419.2" r="0.45"/><circle cx="400.3" cy="420.9" r="0.20"/><circle cx="384.9" cy="405.8" r="0.18"/><circle cx="402.1" cy="408.8" r="0.33"/><circle cx="402.5" cy="431.7" r="0.34"/><circle cx="399.5" cy="438.1" r="0.42"/><circle cx="401.6" cy="434.0" r="0.37"/><circle cx="411.1" cy="414.6" r="0.47"/><circle cx="405.5" cy="425.5" r="0.22"/><circle cx="394.3" cy="416.2" r="0.45"/><circle cx="383.3" cy="411.7" r="0.49"/><circle cx="405.0" cy="410.0" r="0.38"/><circle cx="381.6" cy="417.7" r="0.18"/><circle cx="399.4" cy="435.9" r="0.31"/><circle cx="378.2" cy="426.6" r="0.30"/><circle cx="392.0" cy="405.2" r="0.45"/><circle cx="395.7" cy="435.8" r="0.33"/><circle cx="389.7" cy="418.7" r="0.23"/><circle cx="394.8" cy="437.8" r="0.44"/><circle cx="383.7" cy="431.1" r="0.32"/><circle cx="385.1" cy="419.3" r="0.29"/><circle cx="411.0" cy="417.0" r="0.21"/><circle cx="406.8" cy="433.1" r="0.32"/><circle cx="385.2" cy="410.5" r="0.38"/><circle cx="400.3" cy="417.5" r="0.46"/><circle cx="394.0" cy="426.6" r="0.27"/><circle cx="377.9" cy="420.0" r="0.37"/><circle cx="402.1" cy="420.0" r="0.30"/><circle cx="381.7" cy="415.2" r="0.41"/><circle cx="388.5" cy="421.3" r="0.44"/><circle cx="395.7" cy="416.8" r="0.45"/><circle cx="409.5" cy="422.1" r="0.38"/><circle cx="392.7" cy="426.8" r="0.26"/><circle cx="384.8" cy="412.0" r="0.45"/><circle cx="401.1" cy="434.3" r="0.27"/><circle cx="402.0" cy="423.6" r="0.21"/><circle cx="396.2" cy="424.5" r="0.50"/><circle cx="384.1" cy="433.8" r="0.31"/><circle cx="385.1" cy="420.9" r="0.49"/><circle cx="398.6" cy="439.0" r="0.44"/><circle cx="398.1" cy="417.2" r="0.51"/><circle cx="386.3" cy="410.0" r="0.36"/><circle cx="377.4" cy="427.5" r="0.50"/><circle cx="400.9" cy="419.5" r="0.35"/><circle cx="391.9" cy="414.0" r="0.47"/><circle cx="394.4" cy="415.1" r="0.27"/><circle cx="387.0" cy="405.9" r="0.51"/><circle cx="391.5" cy="438.1" r="0.37"/><circle cx="388.5" cy="428.4" r="0.21"/><circle cx="406.1" cy="424.1" r="0.21"/><circle cx="397.3" cy="431.5" r="0.22"/><circle cx="397.1" cy="430.4" r="0.50"/><circle cx="381.5" cy="428.1" r="0.35"/><circle cx="410.5" cy="417.3" r="0.48"/><circle cx="405.2" cy="410.1" r="0.47"/><circle cx="387.2" cy="434.0" r="0.28"/><circle cx="402.8" cy="417.2" r="0.51"/><circle cx="395.2" cy="432.2" r="0.42"/><circle cx="386.6" cy="417.8" r="0.21"/><circle cx="400.2" cy="415.6" r="0.34"/><circle cx="401.0" cy="410.6" r="0.33"/><circle cx="403.4" cy="436.7" r="0.37"/><circle cx="388.6" cy="411.5" r="0.41"/><circle cx="388.7" cy="426.9" r="0.29"/><circle cx="395.6" cy="404.5" r="0.34"/><circle cx="384.8" cy="406.5" r="0.39"/><circle cx="403.4" cy="420.1" r="0.47"/><circle cx="394.4" cy="407.6" r="0.37"/><circle cx="395.5" cy="423.6" r="0.18"/><circle cx="403.3" cy="414.2" r="0.37"/><circle cx="378.2" cy="427.6" r="0.42"/><circle cx="384.0" cy="431.9" r="0.24"/><circle cx="401.2" cy="418.9" r="0.48"/><circle cx="387.4" cy="419.9" r="0.50"/><circle cx="399.1" cy="435.9" r="0.26"/><circle cx="405.2" cy="433.7" r="0.47"/><circle cx="406.0" cy="412.0" r="0.39"/><circle cx="404.4" cy="436.8" r="0.28"/><circle cx="392.4" cy="419.3" r="0.28"/><circle cx="381.8" cy="419.7" r="0.31"/><circle cx="392.4" cy="423.2" r="0.39"/><circle cx="390.5" cy="426.4" r="0.30"/><circle cx="386.7" cy="407.6" r="0.31"/><circle cx="405.1" cy="431.2" r="0.37"/><circle cx="376.3" cy="423.4" r="0.29"/><circle cx="391.1" cy="421.0" r="0.22"/><circle cx="397.0" cy="429.0" r="0.23"/><circle cx="408.0" cy="432.6" r="0.37"/><circle cx="380.6" cy="422.4" r="0.27"/><circle cx="404.8" cy="409.8" r="0.32"/><circle cx="394.6" cy="421.5" r="0.18"/><circle cx="393.8" cy="418.3" r="0.32"/><circle cx="383.2" cy="420.2" r="0.27"/><circle cx="411.0" cy="414.9" r="0.43"/><circle cx="376.9" cy="417.3" r="0.41"/><circle cx="395.1" cy="428.3" r="0.22"/><circle cx="403.4" cy="428.5" r="0.38"/><circle cx="395.6" cy="426.6" r="0.28"/><circle cx="377.7" cy="426.0" r="0.47"/><circle cx="398.4" cy="413.1" r="0.45"/><circle cx="391.6" cy="435.3" r="0.35"/><circle cx="395.7" cy="434.9" r="0.26"/><circle cx="396.9" cy="413.0" r="0.44"/><circle cx="394.9" cy="423.1" r="0.32"/><circle cx="405.1" cy="411.6" r="0.26"/><circle cx="383.7" cy="421.1" r="0.40"/><circle cx="392.5" cy="428.8" r="0.51"/><circle cx="400.9" cy="423.1" r="0.28"/><circle cx="387.5" cy="433.4" r="0.34"/><circle cx="403.7" cy="435.3" r="0.41"/><circle cx="397.4" cy="428.4" r="0.21"/><circle cx="379.7" cy="420.5" r="0.41"/><circle cx="395.6" cy="438.5" r="0.48"/><circle cx="388.0" cy="422.6" r="0.23"/><circle cx="393.4" cy="416.9" r="0.38"/><circle cx="393.8" cy="418.9" r="0.22"/><circle cx="395.0" cy="433.6" r="0.46"/><circle cx="397.8" cy="410.6" r="0.17"/><circle cx="386.4" cy="419.4" r="0.27"/><circle cx="403.3" cy="417.4" r="0.30"/><circle cx="386.0" cy="405.8" r="0.19"/><circle cx="381.7" cy="413.5" r="0.21"/><circle cx="402.8" cy="427.8" r="0.29"/><circle cx="388.5" cy="404.4" r="0.40"/><circle cx="377.7" cy="429.3" r="0.49"/><circle cx="382.6" cy="426.1" r="0.35"/><circle cx="405.9" cy="430.6" r="0.41"/><circle cx="380.4" cy="423.6" r="0.48"/><circle cx="383.3" cy="410.9" r="0.47"/><circle cx="393.1" cy="409.1" r="0.50"/><circle cx="399.2" cy="419.8" r="0.51"/><circle cx="402.9" cy="436.4" r="0.39"/><circle cx="396.4" cy="410.9" r="0.27"/><circle cx="397.2" cy="427.2" r="0.21"/><circle cx="402.4" cy="436.1" r="0.35"/><circle cx="405.8" cy="407.3" r="0.32"/><circle cx="402.0" cy="437.1" r="0.21"/><circle cx="377.5" cy="420.0" r="0.21"/><circle cx="392.6" cy="436.2" r="0.20"/><circle cx="404.8" cy="409.6" r="0.36"/><circle cx="395.5" cy="414.7" r="0.46"/><circle cx="383.3" cy="418.8" r="0.45"/><circle cx="390.6" cy="422.5" r="0.41"/><circle cx="407.7" cy="424.6" r="0.24"/><circle cx="384.2" cy="427.8" r="0.41"/><circle cx="387.2" cy="413.2" r="0.25"/><circle cx="395.1" cy="416.9" r="0.37"/><circle cx="392.2" cy="407.1" r="0.18"/><circle cx="407.1" cy="428.8" r="0.44"/><circle cx="382.1" cy="407.9" r="0.41"/><circle cx="378.2" cy="429.6" r="0.25"/><circle cx="403.1" cy="428.9" r="0.18"/><circle cx="382.1" cy="416.0" r="0.23"/><circle cx="384.6" cy="413.4" r="0.41"/><circle cx="398.4" cy="405.6" r="0.40"/><circle cx="405.6" cy="429.7" r="0.40"/><circle cx="398.1" cy="432.0" r="0.35"/><circle cx="393.6" cy="426.7" r="0.27"/><circle cx="380.4" cy="429.8" r="0.51"/><circle cx="404.1" cy="407.2" r="0.50"/><circle cx="379.9" cy="420.4" r="0.18"/><circle cx="391.2" cy="405.0" r="0.29"/><circle cx="389.9" cy="417.9" r="0.49"/><circle cx="383.1" cy="426.9" r="0.25"/><circle cx="406.6" cy="408.5" r="0.31"/><circle cx="384.6" cy="420.1" r="0.41"/><circle cx="381.9" cy="410.0" r="0.18"/><circle cx="376.2" cy="421.0" r="0.18"/><circle cx="386.3" cy="413.5" r="0.21"/><circle cx="388.7" cy="438.6" r="0.24"/><circle cx="377.4" cy="424.2" r="0.21"/><circle cx="408.4" cy="423.5" r="0.38"/><circle cx="410.7" cy="425.4" r="0.43"/><circle cx="386.8" cy="416.4" r="0.48"/><circle cx="397.7" cy="439.6" r="0.36"/><circle cx="405.7" cy="414.1" r="0.38"/><circle cx="405.6" cy="417.1" r="0.28"/><circle cx="412.2" cy="417.8" r="0.21"/><circle cx="404.4" cy="409.1" r="0.24"/><circle cx="394.8" cy="425.9" r="0.45"/><circle cx="409.0" cy="429.7" r="0.44"/><circle cx="400.4" cy="421.0" r="0.45"/><circle cx="399.6" cy="424.6" r="0.46"/><circle cx="404.3" cy="433.7" r="0.51"/><circle cx="382.4" cy="422.8" r="0.47"/><circle cx="382.4" cy="407.7" r="0.40"/><circle cx="390.6" cy="422.8" r="0.47"/><circle cx="394.5" cy="414.7" r="0.40"/><circle cx="392.8" cy="433.6" r="0.22"/><circle cx="405.2" cy="427.7" r="0.41"/><circle cx="390.2" cy="405.1" r="0.48"/><circle cx="394.0" cy="412.3" r="0.43"/><circle cx="393.7" cy="415.3" r="0.18"/><circle cx="400.8" cy="417.5" r="0.47"/><circle cx="405.5" cy="417.6" r="0.35"/><circle cx="398.9" cy="423.8" r="0.46"/><circle cx="387.6" cy="415.0" r="0.24"/><circle cx="408.6" cy="428.9" r="0.26"/><circle cx="410.0" cy="427.0" r="0.28"/><circle cx="401.0" cy="433.6" r="0.29"/><circle cx="382.0" cy="419.5" r="0.35"/><circle cx="392.9" cy="434.4" r="0.50"/><circle cx="397.2" cy="433.0" r="0.33"/><circle cx="384.1" cy="424.8" r="0.38"/><circle cx="400.8" cy="418.6" r="0.32"/><circle cx="394.8" cy="421.4" r="0.41"/><circle cx="385.5" cy="431.1" r="0.42"/><circle cx="394.1" cy="426.2" r="0.39"/><circle cx="406.7" cy="420.5" r="0.49"/><circle cx="379.2" cy="420.2" r="0.39"/><circle cx="395.9" cy="406.8" r="0.40"/><circle cx="392.1" cy="412.5" r="0.47"/><circle cx="384.2" cy="413.2" r="0.38"/><circle cx="389.3" cy="429.0" r="0.48"/><circle cx="396.9" cy="432.2" r="0.37"/><circle cx="388.7" cy="421.6" r="0.26"/><circle cx="395.0" cy="414.7" r="0.33"/><circle cx="398.2" cy="424.7" r="0.50"/><circle cx="382.6" cy="426.1" r="0.19"/><circle cx="401.3" cy="432.7" r="0.49"/><circle cx="405.0" cy="417.1" r="0.34"/><circle cx="397.4" cy="438.0" r="0.22"/><circle cx="391.5" cy="429.1" r="0.42"/><circle cx="402.5" cy="412.5" r="0.28"/><circle cx="399.3" cy="418.6" r="0.43"/><circle cx="387.0" cy="437.4" r="0.26"/><circle cx="406.0" cy="409.2" r="0.28"/><circle cx="398.4" cy="435.5" r="0.20"/><circle cx="385.3" cy="416.8" r="0.40"/><circle cx="406.3" cy="430.9" r="0.26"/><circle cx="380.4" cy="414.4" r="0.23"/><circle cx="387.2" cy="435.3" r="0.40"/><circle cx="396.7" cy="419.5" r="0.30"/><circle cx="384.2" cy="435.5" r="0.34"/><circle cx="390.8" cy="428.0" r="0.32"/><circle cx="392.9" cy="423.8" r="0.38"/><circle cx="403.3" cy="414.0" r="0.32"/><circle cx="407.3" cy="409.1" r="0.50"/><circle cx="394.1" cy="413.6" r="0.29"/><circle cx="385.5" cy="435.4" r="0.44"/><circle cx="397.3" cy="415.0" r="0.25"/><circle cx="405.0" cy="421.0" r="0.37"/><circle cx="380.3" cy="428.4" r="0.17"/><circle cx="400.5" cy="405.1" r="0.41"/><circle cx="385.2" cy="433.8" r="0.24"/><circle cx="396.4" cy="405.2" r="0.37"/><circle cx="394.5" cy="406.2" r="0.43"/><circle cx="407.4" cy="412.3" r="0.48"/><circle cx="393.1" cy="416.3" r="0.24"/><circle cx="398.9" cy="418.6" r="0.47"/><circle cx="392.9" cy="414.8" r="0.47"/><circle cx="392.5" cy="413.1" r="0.29"/><circle cx="388.1" cy="408.4" r="0.37"/><circle cx="400.6" cy="413.3" r="0.46"/><circle cx="410.8" cy="417.8" r="0.32"/><circle cx="394.7" cy="434.5" r="0.31"/><circle cx="391.6" cy="416.8" r="0.27"/><circle cx="399.7" cy="425.0" r="0.28"/><circle cx="378.5" cy="417.3" r="0.30"/><circle cx="404.1" cy="413.1" r="0.50"/><circle cx="389.0" cy="430.5" r="0.22"/><circle cx="397.8" cy="407.8" r="0.49"/><circle cx="378.2" cy="421.9" r="0.23"/><circle cx="398.8" cy="419.4" r="0.23"/><circle cx="399.2" cy="421.2" r="0.50"/><circle cx="399.0" cy="421.3" r="0.31"/><circle cx="399.1" cy="404.1" r="0.35"/><circle cx="404.3" cy="414.9" r="0.42"/><circle cx="407.8" cy="427.7" r="0.24"/><circle cx="392.6" cy="411.9" r="0.18"/><circle cx="385.9" cy="424.3" r="0.34"/><circle cx="406.4" cy="422.0" r="0.24"/><circle cx="385.1" cy="432.5" r="0.42"/><circle cx="382.4" cy="422.9" r="0.27"/><circle cx="382.0" cy="411.5" r="0.25"/><circle cx="405.1" cy="432.5" r="0.26"/><circle cx="394.9" cy="407.8" r="0.20"/><circle cx="384.5" cy="436.3" r="0.45"/><circle cx="383.7" cy="406.5" r="0.51"/><circle cx="398.0" cy="404.7" r="0.34"/><circle cx="402.0" cy="415.4" r="0.49"/><circle cx="410.8" cy="419.6" r="0.50"/><circle cx="388.0" cy="407.7" r="0.21"/><circle cx="393.5" cy="416.1" r="0.48"/><circle cx="400.2" cy="405.3" r="0.42"/><circle cx="391.8" cy="435.5" r="0.34"/><circle cx="404.4" cy="411.6" r="0.31"/><circle cx="391.0" cy="405.6" r="0.39"/><circle cx="384.0" cy="432.4" r="0.36"/><circle cx="401.8" cy="427.4" r="0.22"/><circle cx="388.2" cy="421.0" r="0.43"/><circle cx="388.6" cy="417.8" r="0.41"/><circle cx="395.0" cy="418.2" r="0.42"/><circle cx="377.1" cy="424.3" r="0.48"/><circle cx="382.2" cy="410.4" r="0.23"/><circle cx="393.2" cy="406.2" r="0.42"/><circle cx="385.8" cy="424.2" r="0.30"/><circle cx="401.7" cy="434.5" r="0.40"/><circle cx="382.5" cy="410.3" r="0.27"/><circle cx="381.4" cy="411.3" r="0.38"/><circle cx="398.7" cy="430.3" r="0.28"/><circle cx="388.5" cy="435.5" r="0.30"/><circle cx="399.0" cy="438.8" r="0.37"/><circle cx="404.5" cy="415.0" r="0.21"/><circle cx="410.1" cy="429.0" r="0.18"/><circle cx="406.9" cy="428.0" r="0.31"/><circle cx="404.7" cy="424.1" r="0.37"/><circle cx="400.0" cy="431.2" r="0.25"/><circle cx="377.0" cy="420.9" r="0.37"/><circle cx="394.9" cy="404.9" r="0.17"/><circle cx="407.8" cy="431.2" r="0.34"/><circle cx="379.5" cy="430.0" r="0.26"/><circle cx="378.0" cy="423.6" r="0.41"/><circle cx="402.8" cy="425.4" r="0.46"/><circle cx="385.6" cy="413.9" r="0.48"/><circle cx="377.3" cy="418.5" r="0.26"/><circle cx="385.8" cy="414.1" r="0.17"/><circle cx="387.1" cy="410.4" r="0.28"/><circle cx="389.5" cy="432.3" r="0.39"/><circle cx="409.6" cy="418.3" r="0.49"/><circle cx="393.3" cy="424.3" r="0.22"/><circle cx="397.4" cy="416.6" r="0.43"/><circle cx="410.6" cy="420.5" r="0.34"/><circle cx="399.1" cy="437.6" r="0.23"/><circle cx="407.0" cy="422.0" r="0.48"/><circle cx="407.5" cy="421.2" r="0.18"/><circle cx="382.4" cy="424.1" r="0.39"/><circle cx="385.9" cy="429.7" r="0.46"/><circle cx="397.0" cy="412.7" r="0.36"/><circle cx="406.8" cy="425.1" r="0.17"/><circle cx="386.5" cy="413.1" r="0.49"/><circle cx="386.8" cy="421.2" r="0.43"/><circle cx="383.7" cy="430.2" r="0.42"/><circle cx="383.4" cy="429.3" r="0.19"/><circle cx="392.5" cy="426.1" r="0.34"/><circle cx="385.9" cy="422.4" r="0.29"/><circle cx="412.2" cy="422.6" r="0.46"/><circle cx="387.4" cy="438.4" r="0.42"/><circle cx="384.1" cy="420.9" r="0.41"/><circle cx="402.1" cy="407.1" r="0.32"/><circle cx="400.3" cy="415.4" r="0.44"/><circle cx="398.0" cy="421.0" r="0.23"/><circle cx="387.6" cy="408.0" r="0.22"/><circle cx="411.8" cy="423.9" r="0.51"/><circle cx="398.2" cy="419.1" r="0.42"/><circle cx="383.8" cy="425.3" r="0.27"/><circle cx="391.4" cy="410.3" r="0.23"/><circle cx="398.3" cy="422.3" r="0.31"/><circle cx="392.1" cy="407.7" r="0.50"/><circle cx="407.4" cy="410.0" r="0.35"/><circle cx="379.1" cy="420.0" r="0.39"/><circle cx="400.5" cy="433.6" r="0.33"/><circle cx="381.5" cy="421.9" r="0.34"/><circle cx="386.2" cy="415.2" r="0.22"/><circle cx="410.2" cy="421.1" r="0.27"/><circle cx="402.0" cy="407.1" r="0.28"/><circle cx="392.6" cy="429.4" r="0.18"/><circle cx="394.4" cy="439.0" r="0.50"/><circle cx="382.0" cy="408.2" r="0.19"/><circle cx="377.0" cy="416.2" r="0.26"/><circle cx="411.9" cy="424.0" r="0.38"/><circle cx="399.2" cy="419.4" r="0.45"/><circle cx="379.6" cy="412.8" r="0.28"/><circle cx="408.7" cy="424.1" r="0.29"/><circle cx="398.3" cy="427.5" r="0.20"/><circle cx="381.6" cy="411.4" r="0.20"/><circle cx="400.3" cy="437.0" r="0.25"/><circle cx="387.5" cy="417.3" r="0.45"/><circle cx="389.5" cy="418.8" r="0.28"/><circle cx="390.0" cy="413.7" r="0.21"/><circle cx="392.2" cy="423.1" r="0.19"/><circle cx="401.9" cy="428.1" r="0.45"/><circle cx="403.4" cy="414.4" r="0.42"/><circle cx="402.5" cy="405.3" r="0.25"/><circle cx="389.0" cy="404.9" r="0.42"/><circle cx="410.5" cy="425.9" r="0.43"/><circle cx="391.3" cy="419.4" r="0.20"/><circle cx="408.0" cy="422.1" r="0.37"/><circle cx="407.8" cy="431.5" r="0.31"/><circle cx="403.3" cy="432.3" r="0.26"/><circle cx="396.2" cy="429.7" r="0.44"/><circle cx="401.6" cy="426.7" r="0.22"/><circle cx="386.7" cy="408.4" r="0.32"/><circle cx="395.8" cy="423.6" r="0.49"/><circle cx="390.7" cy="418.8" r="0.39"/><circle cx="398.5" cy="414.3" r="0.49"/><circle cx="400.3" cy="432.1" r="0.32"/><circle cx="406.7" cy="418.6" r="0.42"/><circle cx="392.6" cy="411.9" r="0.33"/><circle cx="384.0" cy="424.1" r="0.24"/><circle cx="403.7" cy="437.2" r="0.48"/><circle cx="404.0" cy="437.0" r="0.29"/><circle cx="395.1" cy="409.0" r="0.33"/><circle cx="391.3" cy="423.0" r="0.35"/><circle cx="393.9" cy="439.1" r="0.38"/><circle cx="391.0" cy="438.0" r="0.37"/><circle cx="383.9" cy="409.7" r="0.42"/><circle cx="397.9" cy="438.2" r="0.42"/><circle cx="395.2" cy="405.7" r="0.25"/><circle cx="409.9" cy="419.6" r="0.48"/><circle cx="392.1" cy="431.4" r="0.47"/><circle cx="409.7" cy="421.3" r="0.22"/><circle cx="391.1" cy="434.6" r="0.17"/><circle cx="387.1" cy="433.3" r="0.48"/><circle cx="387.9" cy="405.4" r="0.24"/><circle cx="400.3" cy="415.3" r="0.26"/><circle cx="389.3" cy="413.9" r="0.17"/><circle cx="392.9" cy="417.0" r="0.39"/><circle cx="404.7" cy="429.4" r="0.48"/><circle cx="387.1" cy="425.6" r="0.47"/><circle cx="405.3" cy="415.2" r="0.42"/><circle cx="394.4" cy="424.1" r="0.25"/><circle cx="380.9" cy="412.2" r="0.22"/><circle cx="400.6" cy="429.3" r="0.26"/><circle cx="384.9" cy="434.3" r="0.29"/><circle cx="393.8" cy="406.7" r="0.48"/><circle cx="378.9" cy="411.9" r="0.30"/><circle cx="386.4" cy="419.1" r="0.24"/><circle cx="384.2" cy="435.1" r="0.48"/><circle cx="383.8" cy="424.4" r="0.28"/><circle cx="382.9" cy="416.5" r="0.51"/><circle cx="390.1" cy="411.3" r="0.36"/><circle cx="376.7" cy="425.5" r="0.23"/><circle cx="397.5" cy="412.3" r="0.30"/><circle cx="403.2" cy="423.8" r="0.28"/><circle cx="393.0" cy="436.1" r="0.21"/><circle cx="389.6" cy="434.2" r="0.35"/><circle cx="387.7" cy="417.6" r="0.26"/><circle cx="396.6" cy="403.4" r="0.23"/><circle cx="409.1" cy="430.3" r="0.51"/><circle cx="379.5" cy="431.9" r="0.37"/><circle cx="397.4" cy="419.3" r="0.18"/><circle cx="401.0" cy="410.9" r="0.21"/><circle cx="394.4" cy="420.9" r="0.24"/><circle cx="393.5" cy="405.7" r="0.34"/><circle cx="383.4" cy="412.5" r="0.26"/><circle cx="385.7" cy="433.2" r="0.25"/><circle cx="398.7" cy="404.5" r="0.38"/><circle cx="399.3" cy="429.9" r="0.37"/><circle cx="383.4" cy="425.3" r="0.18"/><circle cx="385.6" cy="428.7" r="0.21"/><circle cx="410.4" cy="420.2" r="0.50"/><circle cx="394.6" cy="436.7" r="0.41"/><circle cx="394.5" cy="435.7" r="0.42"/><circle cx="383.0" cy="414.0" r="0.26"/><circle cx="393.3" cy="431.9" r="0.34"/><circle cx="387.1" cy="425.6" r="0.19"/><circle cx="405.3" cy="420.9" r="0.47"/><circle cx="400.1" cy="417.0" r="0.23"/><circle cx="394.4" cy="422.5" r="0.25"/><circle cx="382.8" cy="411.3" r="0.23"/><circle cx="379.8" cy="419.0" r="0.42"/><circle cx="387.9" cy="406.9" r="0.20"/><circle cx="405.0" cy="432.9" r="0.32"/><circle cx="390.2" cy="406.4" r="0.43"/><circle cx="391.5" cy="409.9" r="0.48"/><circle cx="388.2" cy="410.3" r="0.45"/><circle cx="388.3" cy="430.5" r="0.37"/><circle cx="402.3" cy="420.5" r="0.27"/><circle cx="406.1" cy="430.4" r="0.33"/><circle cx="383.4" cy="423.0" r="0.29"/><circle cx="387.9" cy="418.0" r="0.33"/><circle cx="402.2" cy="432.0" r="0.34"/><circle cx="385.6" cy="427.0" r="0.44"/><circle cx="395.5" cy="434.8" r="0.50"/><circle cx="386.4" cy="430.4" r="0.40"/><circle cx="378.1" cy="421.8" r="0.47"/><circle cx="395.5" cy="434.5" r="0.33"/><circle cx="380.2" cy="425.4" r="0.24"/><circle cx="392.6" cy="430.4" r="0.32"/><circle cx="390.3" cy="430.7" r="0.49"/><circle cx="386.7" cy="414.5" r="0.20"/><circle cx="384.8" cy="410.9" r="0.36"/><circle cx="408.0" cy="425.5" r="0.44"/><circle cx="380.5" cy="415.5" r="0.29"/><circle cx="387.5" cy="427.9" r="0.43"/><circle cx="393.8" cy="408.0" r="0.34"/><circle cx="389.4" cy="439.0" r="0.18"/><circle cx="384.9" cy="417.5" r="0.44"/><circle cx="408.1" cy="418.6" r="0.42"/><circle cx="399.3" cy="439.1" r="0.32"/><circle cx="396.4" cy="419.3" r="0.28"/><circle cx="391.9" cy="414.3" r="0.17"/><circle cx="387.2" cy="435.1" r="0.46"/><circle cx="399.7" cy="434.6" r="0.47"/><circle cx="395.5" cy="406.9" r="0.34"/><circle cx="395.7" cy="431.0" r="0.36"/><circle cx="389.3" cy="436.1" r="0.25"/><circle cx="388.3" cy="415.6" r="0.40"/><circle cx="407.3" cy="410.0" r="0.31"/><circle cx="400.5" cy="418.5" r="0.30"/><circle cx="391.8" cy="432.7" r="0.19"/><circle cx="385.2" cy="432.4" r="0.43"/><circle cx="377.7" cy="427.5" r="0.40"/><circle cx="393.3" cy="404.7" r="0.29"/><circle cx="395.4" cy="408.8" r="0.27"/><circle cx="386.8" cy="408.0" r="0.19"/><circle cx="390.2" cy="404.0" r="0.18"/><circle cx="405.6" cy="417.5" r="0.49"/><circle cx="384.6" cy="429.2" r="0.39"/><circle cx="391.5" cy="429.9" r="0.39"/><circle cx="392.8" cy="424.0" r="0.27"/><circle cx="406.8" cy="411.9" r="0.22"/><circle cx="380.1" cy="420.7" r="0.23"/><circle cx="402.2" cy="405.2" r="0.39"/><circle cx="397.0" cy="410.1" r="0.25"/><circle cx="386.6" cy="406.1" r="0.42"/><circle cx="405.0" cy="436.4" r="0.48"/><circle cx="391.2" cy="413.6" r="0.23"/><circle cx="406.4" cy="432.4" r="0.36"/><circle cx="401.9" cy="421.0" r="0.29"/><circle cx="391.1" cy="438.1" r="0.43"/><circle cx="392.5" cy="408.7" r="0.26"/><circle cx="389.3" cy="425.2" r="0.41"/><circle cx="383.6" cy="413.2" r="0.47"/><circle cx="404.1" cy="432.2" r="0.21"/><circle cx="393.8" cy="436.3" r="0.34"/><circle cx="405.8" cy="409.7" r="0.33"/><circle cx="382.3" cy="433.1" r="0.43"/><circle cx="385.6" cy="436.0" r="0.47"/><circle cx="409.8" cy="429.6" r="0.37"/><circle cx="379.9" cy="430.5" r="0.26"/><circle cx="406.5" cy="434.3" r="0.31"/><circle cx="394.4" cy="437.9" r="0.42"/><circle cx="388.8" cy="405.0" r="0.21"/><circle cx="378.5" cy="427.6" r="0.26"/><circle cx="393.7" cy="404.6" r="0.49"/><circle cx="377.8" cy="422.2" r="0.50"/><circle cx="410.0" cy="427.5" r="0.33"/><circle cx="407.8" cy="432.6" r="0.31"/><circle cx="411.3" cy="415.1" r="0.22"/><circle cx="400.2" cy="438.1" r="0.44"/><circle cx="396.4" cy="438.1" r="0.54"/><circle cx="409.7" cy="414.8" r="0.44"/><circle cx="411.5" cy="418.3" r="0.35"/><circle cx="410.2" cy="414.6" r="0.43"/><circle cx="407.5" cy="412.3" r="0.24"/><circle cx="409.5" cy="428.1" r="0.53"/><circle cx="390.8" cy="405.1" r="0.41"/><circle cx="378.4" cy="427.8" r="0.32"/><circle cx="410.1" cy="413.5" r="0.22"/><circle cx="380.2" cy="409.9" r="0.34"/><circle cx="405.4" cy="433.1" r="0.39"/><circle cx="382.3" cy="434.0" r="0.44"/><circle cx="378.3" cy="428.4" r="0.41"/><circle cx="378.8" cy="414.1" r="0.28"/><circle cx="391.9" cy="438.9" r="0.52"/><circle cx="407.0" cy="431.4" r="0.36"/><circle cx="411.2" cy="415.0" r="0.28"/><circle cx="382.1" cy="411.0" r="0.48"/><circle cx="410.9" cy="429.1" r="0.32"/><circle cx="388.1" cy="437.1" r="0.24"/><circle cx="384.0" cy="434.3" r="0.22"/><circle cx="376.7" cy="424.9" r="0.46"/><circle cx="378.7" cy="417.2" r="0.36"/><circle cx="393.8" cy="438.6" r="0.50"/><circle cx="400.1" cy="437.7" r="0.36"/><circle cx="379.3" cy="427.3" r="0.52"/><circle cx="407.2" cy="411.3" r="0.50"/><circle cx="377.0" cy="426.5" r="0.31"/><circle cx="411.5" cy="427.9" r="0.33"/><circle cx="410.2" cy="425.8" r="0.32"/><circle cx="403.3" cy="405.6" r="0.30"/><circle cx="406.0" cy="432.8" r="0.54"/><circle cx="378.3" cy="424.1" r="0.31"/><circle cx="376.9" cy="420.0" r="0.39"/><circle cx="396.9" cy="404.7" r="0.49"/><circle cx="387.4" cy="405.5" r="0.24"/><circle cx="387.4" cy="436.6" r="0.50"/><circle cx="406.5" cy="408.8" r="0.44"/><circle cx="404.7" cy="433.6" r="0.23"/><circle cx="378.6" cy="427.0" r="0.54"/><circle cx="408.7" cy="431.4" r="0.31"/><circle cx="401.6" cy="437.8" r="0.48"/><circle cx="377.3" cy="423.8" r="0.24"/><circle cx="380.1" cy="410.9" r="0.51"/><circle cx="402.0" cy="405.3" r="0.27"/><circle cx="408.5" cy="413.9" r="0.28"/><circle cx="377.3" cy="416.5" r="0.42"/><circle cx="381.0" cy="409.8" r="0.34"/><circle cx="410.3" cy="426.0" r="0.40"/><circle cx="390.9" cy="404.9" r="0.39"/><circle cx="404.8" cy="407.5" r="0.37"/><circle cx="381.0" cy="430.7" r="0.33"/><circle cx="411.3" cy="418.7" r="0.36"/><circle cx="385.3" cy="407.7" r="0.35"/><circle cx="394.9" cy="438.7" r="0.38"/><circle cx="399.4" cy="404.5" r="0.33"/><circle cx="411.6" cy="420.4" r="0.34"/><circle cx="402.7" cy="435.1" r="0.32"/><circle cx="381.7" cy="410.7" r="0.25"/><circle cx="378.3" cy="424.1" r="0.28"/><circle cx="376.6" cy="421.7" r="0.32"/><circle cx="387.9" cy="406.1" r="0.25"/><circle cx="399.2" cy="404.7" r="0.43"/><circle cx="393.7" cy="404.3" r="0.23"/><circle cx="404.5" cy="435.4" r="0.43"/><circle cx="411.6" cy="425.5" r="0.52"/><circle cx="379.8" cy="410.6" r="0.37"/><circle cx="394.6" cy="405.5" r="0.39"/><circle cx="394.0" cy="403.6" r="0.52"/><circle cx="381.0" cy="430.4" r="0.46"/><circle cx="412.5" cy="419.9" r="0.50"/><circle cx="411.7" cy="424.0" r="0.52"/><circle cx="388.8" cy="438.0" r="0.41"/><circle cx="380.9" cy="433.7" r="0.24"/><circle cx="402.7" cy="437.2" r="0.46"/><circle cx="376.4" cy="423.6" r="0.27"/><circle cx="394.4" cy="437.5" r="0.49"/><circle cx="388.7" cy="438.0" r="0.37"/><circle cx="378.3" cy="417.1" r="0.25"/><circle cx="399.8" cy="405.4" r="0.32"/><circle cx="378.8" cy="417.4" r="0.46"/><circle cx="385.5" cy="435.7" r="0.29"/><circle cx="411.4" cy="426.3" r="0.43"/><circle cx="400.0" cy="405.4" r="0.50"/><circle cx="380.0" cy="431.2" r="0.48"/><circle cx="388.5" cy="437.6" r="0.32"/><circle cx="411.5" cy="427.7" r="0.49"/><circle cx="397.5" cy="405.9" r="0.51"/><circle cx="406.9" cy="434.6" r="0.33"/><circle cx="412.0" cy="423.4" r="0.21"/><circle cx="401.6" cy="407.0" r="0.49"/><circle cx="409.9" cy="426.1" r="0.44"/><circle cx="380.6" cy="410.3" r="0.25"/><circle cx="377.7" cy="414.5" r="0.48"/><circle cx="404.7" cy="407.3" r="0.48"/><circle cx="377.2" cy="420.5" r="0.41"/><circle cx="401.2" cy="406.7" r="0.30"/><circle cx="402.4" cy="407.1" r="0.24"/><circle cx="399.8" cy="404.0" r="0.25"/><circle cx="410.9" cy="425.8" r="0.40"/><circle cx="384.2" cy="407.3" r="0.37"/><circle cx="407.7" cy="431.7" r="0.37"/><circle cx="411.4" cy="420.2" r="0.42"/><circle cx="384.7" cy="406.9" r="0.43"/><circle cx="407.0" cy="432.0" r="0.27"/><circle cx="379.2" cy="428.7" r="0.51"/><circle cx="407.7" cy="430.4" r="0.46"/><circle cx="409.1" cy="427.7" r="0.29"/><circle cx="381.0" cy="432.3" r="0.40"/><circle cx="394.3" cy="403.3" r="0.29"/><circle cx="378.2" cy="426.5" r="0.27"/><circle cx="377.5" cy="414.9" r="0.28"/><circle cx="402.9" cy="435.2" r="0.34"/><circle cx="411.8" cy="421.5" r="0.24"/><circle cx="410.5" cy="418.3" r="0.36"/><circle cx="379.2" cy="411.1" r="0.50"/><circle cx="384.0" cy="436.6" r="0.41"/><circle cx="401.3" cy="406.3" r="0.42"/><circle cx="391.4" cy="403.4" r="0.49"/><circle cx="381.2" cy="412.0" r="0.45"/><circle cx="407.2" cy="434.3" r="0.53"/><circle cx="405.1" cy="409.4" r="0.41"/><circle cx="382.5" cy="408.1" r="0.50"/><circle cx="405.7" cy="433.3" r="0.21"/><circle cx="411.3" cy="419.7" r="0.41"/><circle cx="405.5" cy="409.5" r="0.32"/><circle cx="384.6" cy="407.9" r="0.46"/><circle cx="379.9" cy="431.2" r="0.39"/><circle cx="381.0" cy="434.1" r="0.48"/><circle cx="390.8" cy="438.4" r="0.41"/><circle cx="396.1" cy="437.7" r="0.35"/><circle cx="379.0" cy="412.0" r="0.39"/><circle cx="377.2" cy="421.7" r="0.22"/><circle cx="387.4" cy="437.9" r="0.42"/><circle cx="409.9" cy="430.6" r="0.50"/><circle cx="404.9" cy="407.2" r="0.32"/><circle cx="392.9" cy="438.3" r="0.35"/><circle cx="409.8" cy="426.9" r="0.44"/><circle cx="403.4" cy="408.2" r="0.26"/><circle cx="395.2" cy="439.4" r="0.37"/><circle cx="389.6" cy="438.3" r="0.45"/><circle cx="378.9" cy="413.5" r="0.48"/><circle cx="377.7" cy="416.0" r="0.35"/><circle cx="406.5" cy="408.0" r="0.39"/><circle cx="380.6" cy="409.7" r="0.24"/><circle cx="384.6" cy="435.2" r="0.40"/><circle cx="397.3" cy="404.4" r="0.40"/><circle cx="397.2" cy="404.9" r="0.43"/><circle cx="396.2" cy="404.5" r="0.46"/><circle cx="411.6" cy="423.4" r="0.45"/><circle cx="388.8" cy="406.2" r="0.38"/><circle cx="382.6" cy="408.2" r="0.53"/><circle cx="406.8" cy="432.2" r="0.43"/><circle cx="410.7" cy="425.9" r="0.22"/><circle cx="382.5" cy="408.6" r="0.24"/><circle cx="404.5" cy="434.8" r="0.31"/><circle cx="377.0" cy="422.6" r="0.32"/><circle cx="410.2" cy="423.6" r="0.49"/><circle cx="401.0" cy="438.5" r="0.35"/><circle cx="402.6" cy="436.7" r="0.23"/><circle cx="394.8" cy="438.9" r="0.33"/><circle cx="409.5" cy="430.1" r="0.29"/><circle cx="410.2" cy="417.6" r="0.26"/><circle cx="390.5" cy="439.0" r="0.50"/><circle cx="400.1" cy="406.1" r="0.34"/><circle cx="377.6" cy="417.3" r="0.52"/><circle cx="397.1" cy="404.6" r="0.25"/><circle cx="412.6" cy="421.1" r="0.48"/><circle cx="394.5" cy="403.7" r="0.52"/><circle cx="394.4" cy="404.1" r="0.39"/><circle cx="382.0" cy="411.2" r="0.41"/><circle cx="409.0" cy="432.0" r="0.24"/></g>
<circle cx="447.60" cy="374.00" r="21.80" fill="#cacadc" stroke="#aeaed4" stroke-width="1.3"/>
<circle cx="447.60" cy="374.00" r="18.75" fill="#c9c9de" filter="url(#blur1)"/>
<g fill="#5050b8" opacity="0.6" filter="url(#blur05)"><circle cx="444.7" cy="389.6" r="0.22"/><circle cx="452.2" cy="386.0" r="0.47"/><circle cx="452.9" cy="373.2" r="0.17"/><circle cx="455.3" cy="388.5" r="0.38"/><circle cx="454.4" cy="362.8" r="0.31"/><circle cx="453.0" cy="364.2" r="0.44"/><circle cx="442.3" cy="371.2" r="0.17"/><circle cx="437.0" cy="375.1" r="0.49"/><circle cx="459.7" cy="377.9" r="0.41"/><circle cx="441.6" cy="387.9" r="0.29"/><circle cx="448.5" cy="378.9" r="0.36"/><circle cx="441.1" cy="361.9" r="0.28"/><circle cx="453.8" cy="378.6" r="0.45"/><circle cx="437.2" cy="383.8" r="0.22"/><circle cx="447.8" cy="378.8" r="0.49"/><circle cx="446.5" cy="386.0" r="0.22"/><circle cx="430.8" cy="380.7" r="0.29"/><circle cx="459.4" cy="374.3" r="0.37"/><circle cx="445.6" cy="377.0" r="0.39"/><circle cx="431.6" cy="380.9" r="0.49"/><circle cx="435.3" cy="363.7" r="0.41"/><circle cx="460.3" cy="380.5" r="0.42"/><circle cx="450.6" cy="360.3" r="0.41"/><circle cx="453.1" cy="358.3" r="0.24"/><circle cx="464.8" cy="372.4" r="0.20"/><circle cx="446.0" cy="379.2" r="0.34"/><circle cx="455.0" cy="383.6" r="0.28"/><circle cx="438.6" cy="368.9" r="0.20"/><circle cx="465.0" cy="374.2" r="0.29"/><circle cx="444.5" cy="370.2" r="0.19"/><circle cx="433.3" cy="370.8" r="0.47"/><circle cx="446.0" cy="391.1" r="0.49"/><circle cx="437.8" cy="383.8" r="0.19"/><circle cx="439.7" cy="359.7" r="0.44"/><circle cx="439.3" cy="367.4" r="0.21"/><circle cx="434.6" cy="380.5" r="0.18"/><circle cx="439.7" cy="389.1" r="0.36"/><circle cx="453.0" cy="370.9" r="0.33"/><circle cx="448.4" cy="388.7" r="0.48"/><circle cx="435.8" cy="360.5" r="0.42"/><circle cx="452.0" cy="390.2" r="0.39"/><circle cx="438.8" cy="358.8" r="0.21"/><circle cx="449.5" cy="357.1" r="0.17"/><circle cx="436.2" cy="367.6" r="0.31"/><circle cx="445.0" cy="379.0" r="0.34"/><circle cx="458.1" cy="361.5" r="0.17"/><circle cx="438.1" cy="368.7" r="0.46"/><circle cx="451.9" cy="363.4" r="0.25"/><circle cx="459.4" cy="376.2" r="0.22"/><circle cx="449.5" cy="361.0" r="0.33"/><circle cx="453.2" cy="377.6" r="0.23"/><circle cx="450.9" cy="379.3" r="0.27"/><circle cx="435.0" cy="370.4" r="0.30"/><circle cx="443.2" cy="373.8" r="0.30"/><circle cx="446.1" cy="371.7" r="0.38"/><circle cx="463.3" cy="364.9" r="0.48"/><circle cx="443.5" cy="383.3" r="0.19"/><circle cx="461.5" cy="379.6" r="0.32"/><circle cx="462.7" cy="378.1" r="0.44"/><circle cx="439.9" cy="365.3" r="0.28"/><circle cx="456.5" cy="376.7" r="0.49"/><circle cx="452.0" cy="367.9" r="0.45"/><circle cx="455.4" cy="375.1" r="0.29"/><circle cx="454.9" cy="388.9" r="0.42"/><circle cx="449.7" cy="359.8" r="0.38"/><circle cx="462.2" cy="366.4" r="0.39"/><circle cx="449.1" cy="374.0" r="0.31"/><circle cx="431.8" cy="372.5" r="0.21"/><circle cx="434.7" cy="377.8" r="0.37"/><circle cx="450.4" cy="361.7" r="0.48"/><circle cx="454.6" cy="389.6" r="0.36"/><circle cx="450.2" cy="356.7" r="0.44"/><circle cx="455.5" cy="365.2" r="0.23"/><circle cx="435.9" cy="379.3" r="0.34"/><circle cx="440.8" cy="357.5" r="0.18"/><circle cx="453.6" cy="380.8" r="0.29"/><circle cx="446.2" cy="375.9" r="0.23"/><circle cx="451.1" cy="387.1" r="0.26"/><circle cx="448.5" cy="372.7" r="0.40"/><circle cx="437.0" cy="386.5" r="0.24"/><circle cx="455.0" cy="370.5" r="0.22"/><circle cx="459.7" cy="364.9" r="0.42"/><circle cx="431.2" cy="380.3" r="0.46"/><circle cx="454.7" cy="359.1" r="0.47"/><circle cx="457.2" cy="387.7" r="0.22"/><circle cx="442.6" cy="365.8" r="0.29"/><circle cx="446.7" cy="380.4" r="0.34"/><circle cx="455.3" cy="366.2" r="0.22"/><circle cx="450.9" cy="365.2" r="0.20"/><circle cx="462.2" cy="378.7" r="0.48"/><circle cx="442.4" cy="361.1" r="0.40"/><circle cx="447.9" cy="355.7" r="0.37"/><circle cx="458.2" cy="389.0" r="0.39"/><circle cx="433.7" cy="384.5" r="0.46"/><circle cx="438.3" cy="381.4" r="0.22"/><circle cx="462.2" cy="369.1" r="0.38"/><circle cx="450.9" cy="389.5" r="0.48"/><circle cx="455.9" cy="364.7" r="0.19"/><circle cx="445.0" cy="370.7" r="0.31"/><circle cx="432.2" cy="382.8" r="0.41"/><circle cx="457.3" cy="383.5" r="0.38"/><circle cx="448.0" cy="388.0" r="0.18"/><circle cx="446.1" cy="360.0" r="0.47"/><circle cx="456.0" cy="368.6" r="0.18"/><circle cx="439.5" cy="361.2" r="0.41"/><circle cx="442.8" cy="384.7" r="0.43"/><circle cx="439.8" cy="368.2" r="0.20"/><circle cx="445.2" cy="364.3" r="0.47"/><circle cx="454.1" cy="363.7" r="0.24"/><circle cx="460.9" cy="376.1" r="0.40"/><circle cx="457.7" cy="380.5" r="0.29"/><circle cx="433.6" cy="376.4" r="0.31"/><circle cx="444.6" cy="365.8" r="0.41"/><circle cx="433.6" cy="375.6" r="0.37"/><circle cx="462.4" cy="363.5" r="0.17"/><circle cx="444.2" cy="361.0" r="0.38"/><circle cx="448.7" cy="386.2" r="0.30"/><circle cx="432.8" cy="383.5" r="0.26"/><circle cx="443.9" cy="375.3" r="0.27"/><circle cx="447.6" cy="385.5" r="0.22"/><circle cx="444.8" cy="384.3" r="0.32"/><circle cx="433.2" cy="376.9" r="0.38"/><circle cx="435.8" cy="376.0" r="0.34"/><circle cx="441.3" cy="365.0" r="0.49"/><circle cx="453.6" cy="358.2" r="0.21"/><circle cx="450.4" cy="388.2" r="0.45"/><circle cx="431.8" cy="379.1" r="0.36"/><circle cx="465.7" cy="374.4" r="0.47"/><circle cx="435.6" cy="385.4" r="0.23"/><circle cx="438.6" cy="362.4" r="0.29"/><circle cx="451.5" cy="368.7" r="0.22"/><circle cx="433.4" cy="367.4" r="0.17"/><circle cx="443.8" cy="366.2" r="0.34"/><circle cx="431.9" cy="373.9" r="0.30"/><circle cx="449.4" cy="364.0" r="0.48"/><circle cx="443.1" cy="380.0" r="0.27"/><circle cx="461.8" cy="368.5" r="0.27"/><circle cx="459.5" cy="383.5" r="0.40"/><circle cx="454.9" cy="382.4" r="0.43"/><circle cx="434.1" cy="362.0" r="0.37"/><circle cx="453.8" cy="385.6" r="0.40"/><circle cx="457.8" cy="373.9" r="0.21"/><circle cx="455.4" cy="360.6" r="0.21"/><circle cx="429.9" cy="376.8" r="0.31"/><circle cx="442.1" cy="372.5" r="0.49"/><circle cx="438.2" cy="383.8" r="0.26"/><circle cx="458.7" cy="369.8" r="0.38"/><circle cx="453.7" cy="358.6" r="0.33"/><circle cx="455.5" cy="360.8" r="0.28"/><circle cx="433.9" cy="374.8" r="0.35"/><circle cx="442.2" cy="363.5" r="0.44"/><circle cx="452.7" cy="368.4" r="0.42"/><circle cx="453.2" cy="383.6" r="0.42"/><circle cx="465.4" cy="377.4" r="0.24"/><circle cx="456.0" cy="363.0" r="0.34"/><circle cx="457.5" cy="369.6" r="0.48"/><circle cx="446.8" cy="361.1" r="0.32"/><circle cx="449.1" cy="370.1" r="0.24"/><circle cx="438.4" cy="386.3" r="0.47"/><circle cx="444.1" cy="367.7" r="0.45"/><circle cx="463.8" cy="371.9" r="0.26"/><circle cx="449.0" cy="367.7" r="0.36"/><circle cx="444.6" cy="360.9" r="0.27"/><circle cx="434.1" cy="368.8" r="0.31"/><circle cx="445.7" cy="381.8" r="0.48"/><circle cx="453.8" cy="371.5" r="0.23"/><circle cx="431.8" cy="368.7" r="0.36"/><circle cx="458.3" cy="373.2" r="0.30"/><circle cx="455.3" cy="388.2" r="0.24"/><circle cx="448.6" cy="391.6" r="0.22"/><circle cx="439.1" cy="388.8" r="0.25"/><circle cx="450.9" cy="391.0" r="0.46"/><circle cx="438.4" cy="386.0" r="0.37"/><circle cx="449.7" cy="359.2" r="0.21"/><circle cx="444.9" cy="367.2" r="0.44"/><circle cx="454.6" cy="377.8" r="0.33"/><circle cx="452.4" cy="364.2" r="0.29"/><circle cx="456.4" cy="386.5" r="0.27"/><circle cx="446.6" cy="376.3" r="0.25"/><circle cx="450.8" cy="379.3" r="0.24"/><circle cx="454.4" cy="362.8" r="0.47"/><circle cx="435.5" cy="369.5" r="0.35"/><circle cx="444.9" cy="365.9" r="0.25"/><circle cx="438.1" cy="362.6" r="0.33"/><circle cx="432.2" cy="380.7" r="0.21"/><circle cx="459.2" cy="383.5" r="0.42"/><circle cx="438.9" cy="389.8" r="0.26"/><circle cx="447.3" cy="388.8" r="0.35"/><circle cx="452.8" cy="375.0" r="0.20"/><circle cx="445.9" cy="376.4" r="0.41"/><circle cx="438.9" cy="363.3" r="0.25"/><circle cx="457.5" cy="388.8" r="0.31"/><circle cx="444.1" cy="385.9" r="0.34"/><circle cx="458.1" cy="365.7" r="0.25"/><circle cx="462.6" cy="382.2" r="0.43"/><circle cx="445.1" cy="365.8" r="0.46"/><circle cx="432.2" cy="374.8" r="0.18"/><circle cx="431.4" cy="372.8" r="0.43"/><circle cx="451.1" cy="362.4" r="0.25"/><circle cx="459.0" cy="360.7" r="0.47"/><circle cx="430.3" cy="371.3" r="0.17"/><circle cx="453.9" cy="369.1" r="0.23"/><circle cx="434.2" cy="380.4" r="0.25"/><circle cx="453.1" cy="389.9" r="0.35"/><circle cx="432.7" cy="380.0" r="0.38"/><circle cx="457.5" cy="368.1" r="0.22"/><circle cx="461.2" cy="380.3" r="0.27"/><circle cx="460.4" cy="377.9" r="0.36"/><circle cx="456.1" cy="368.9" r="0.28"/><circle cx="460.6" cy="366.4" r="0.21"/><circle cx="442.1" cy="379.6" r="0.40"/><circle cx="441.9" cy="362.7" r="0.18"/><circle cx="438.5" cy="373.5" r="0.33"/><circle cx="448.4" cy="378.9" r="0.46"/><circle cx="435.6" cy="362.4" r="0.37"/><circle cx="465.5" cy="377.9" r="0.25"/><circle cx="457.4" cy="375.9" r="0.19"/><circle cx="435.2" cy="382.9" r="0.33"/><circle cx="429.5" cy="376.1" r="0.32"/><circle cx="462.2" cy="369.5" r="0.30"/><circle cx="452.8" cy="367.4" r="0.23"/><circle cx="456.7" cy="367.9" r="0.32"/><circle cx="438.4" cy="358.9" r="0.35"/><circle cx="462.5" cy="370.1" r="0.37"/><circle cx="440.8" cy="367.7" r="0.45"/><circle cx="450.3" cy="391.4" r="0.41"/><circle cx="443.5" cy="379.9" r="0.43"/><circle cx="439.9" cy="359.0" r="0.23"/><circle cx="451.5" cy="381.0" r="0.33"/><circle cx="448.0" cy="362.9" r="0.20"/><circle cx="435.4" cy="375.2" r="0.44"/><circle cx="460.8" cy="373.2" r="0.26"/><circle cx="448.1" cy="375.5" r="0.17"/><circle cx="451.6" cy="382.2" r="0.30"/><circle cx="455.7" cy="358.9" r="0.45"/><circle cx="436.1" cy="359.9" r="0.48"/><circle cx="445.9" cy="385.2" r="0.49"/><circle cx="458.4" cy="373.3" r="0.25"/><circle cx="449.2" cy="369.3" r="0.49"/><circle cx="451.9" cy="389.7" r="0.37"/><circle cx="430.8" cy="377.5" r="0.25"/><circle cx="445.4" cy="365.4" r="0.42"/><circle cx="436.8" cy="363.7" r="0.43"/><circle cx="433.1" cy="377.6" r="0.43"/><circle cx="459.8" cy="366.1" r="0.18"/><circle cx="430.5" cy="377.0" r="0.40"/><circle cx="455.7" cy="387.9" r="0.41"/><circle cx="452.8" cy="378.6" r="0.35"/><circle cx="448.0" cy="376.5" r="0.45"/><circle cx="463.6" cy="365.7" r="0.25"/><circle cx="452.4" cy="372.8" r="0.42"/><circle cx="439.9" cy="384.6" r="0.49"/><circle cx="446.2" cy="363.2" r="0.41"/><circle cx="436.4" cy="381.5" r="0.18"/><circle cx="451.7" cy="373.7" r="0.17"/><circle cx="447.9" cy="389.3" r="0.41"/><circle cx="455.2" cy="380.6" r="0.33"/><circle cx="455.3" cy="370.1" r="0.22"/><circle cx="443.8" cy="380.6" r="0.48"/><circle cx="450.3" cy="372.5" r="0.39"/><circle cx="443.7" cy="378.9" r="0.44"/><circle cx="447.2" cy="375.9" r="0.25"/><circle cx="450.3" cy="367.0" r="0.49"/><circle cx="432.8" cy="366.4" r="0.43"/><circle cx="448.5" cy="358.9" r="0.21"/><circle cx="451.2" cy="370.2" r="0.28"/><circle cx="462.5" cy="367.9" r="0.25"/><circle cx="462.3" cy="371.3" r="0.19"/><circle cx="437.6" cy="370.8" r="0.46"/><circle cx="459.1" cy="380.9" r="0.24"/><circle cx="442.8" cy="368.7" r="0.22"/><circle cx="453.8" cy="361.6" r="0.31"/><circle cx="452.2" cy="375.5" r="0.36"/><circle cx="442.6" cy="390.3" r="0.24"/><circle cx="461.1" cy="362.5" r="0.17"/><circle cx="435.5" cy="376.3" r="0.38"/><circle cx="450.9" cy="373.0" r="0.46"/><circle cx="437.4" cy="378.5" r="0.39"/><circle cx="445.2" cy="379.4" r="0.18"/><circle cx="465.0" cy="379.4" r="0.22"/><circle cx="444.5" cy="362.2" r="0.47"/><circle cx="449.3" cy="380.9" r="0.23"/><circle cx="444.8" cy="374.9" r="0.30"/><circle cx="433.2" cy="377.6" r="0.42"/><circle cx="452.5" cy="366.7" r="0.44"/><circle cx="465.2" cy="371.6" r="0.26"/><circle cx="445.8" cy="366.0" r="0.45"/><circle cx="438.0" cy="371.4" r="0.22"/><circle cx="454.4" cy="372.7" r="0.21"/><circle cx="461.1" cy="363.4" r="0.17"/><circle cx="447.3" cy="356.5" r="0.44"/><circle cx="460.4" cy="385.7" r="0.21"/><circle cx="454.3" cy="383.6" r="0.44"/><circle cx="430.9" cy="377.9" r="0.17"/><circle cx="461.1" cy="366.3" r="0.47"/><circle cx="451.0" cy="379.7" r="0.33"/><circle cx="452.2" cy="388.2" r="0.38"/><circle cx="456.5" cy="371.5" r="0.35"/><circle cx="462.4" cy="371.5" r="0.25"/><circle cx="456.1" cy="365.0" r="0.40"/><circle cx="441.2" cy="388.2" r="0.49"/><circle cx="456.3" cy="363.1" r="0.27"/><circle cx="455.0" cy="385.7" r="0.25"/><circle cx="453.5" cy="367.6" r="0.28"/><circle cx="434.6" cy="385.2" r="0.35"/><circle cx="449.3" cy="375.6" r="0.23"/><circle cx="434.7" cy="367.7" r="0.34"/><circle cx="442.3" cy="365.4" r="0.32"/><circle cx="464.7" cy="370.1" r="0.44"/><circle cx="445.5" cy="392.0" r="0.48"/><circle cx="452.1" cy="374.0" r="0.25"/><circle cx="455.7" cy="364.2" r="0.35"/><circle cx="447.6" cy="380.8" r="0.37"/><circle cx="457.0" cy="362.0" r="0.42"/><circle cx="458.2" cy="375.5" r="0.48"/><circle cx="458.8" cy="366.8" r="0.33"/><circle cx="451.7" cy="367.6" r="0.49"/><circle cx="448.3" cy="359.2" r="0.31"/><circle cx="436.0" cy="360.6" r="0.31"/><circle cx="437.0" cy="372.5" r="0.45"/><circle cx="436.1" cy="377.5" r="0.24"/><circle cx="465.2" cy="369.7" r="0.42"/><circle cx="440.7" cy="378.2" r="0.18"/><circle cx="455.8" cy="386.0" r="0.38"/><circle cx="454.9" cy="369.1" r="0.47"/><circle cx="462.0" cy="366.1" r="0.38"/><circle cx="446.6" cy="386.7" r="0.44"/><circle cx="432.4" cy="380.8" r="0.45"/><circle cx="445.9" cy="365.9" r="0.37"/><circle cx="454.7" cy="375.7" r="0.19"/><circle cx="452.0" cy="384.6" r="0.24"/><circle cx="439.7" cy="383.3" r="0.23"/><circle cx="454.6" cy="390.8" r="0.22"/><circle cx="459.3" cy="372.4" r="0.35"/><circle cx="450.6" cy="368.9" r="0.46"/><circle cx="442.3" cy="375.5" r="0.26"/><circle cx="450.9" cy="363.4" r="0.45"/><circle cx="459.1" cy="361.5" r="0.37"/><circle cx="447.0" cy="357.8" r="0.45"/><circle cx="451.2" cy="372.9" r="0.48"/><circle cx="459.3" cy="373.2" r="0.38"/><circle cx="457.7" cy="361.0" r="0.20"/><circle cx="452.5" cy="366.1" r="0.40"/><circle cx="441.2" cy="389.6" r="0.26"/><circle cx="457.5" cy="381.2" r="0.28"/><circle cx="459.3" cy="387.9" r="0.48"/><circle cx="439.8" cy="359.4" r="0.37"/><circle cx="438.7" cy="383.0" r="0.23"/><circle cx="464.1" cy="376.3" r="0.35"/><circle cx="436.7" cy="368.5" r="0.42"/><circle cx="451.3" cy="359.2" r="0.41"/><circle cx="452.0" cy="357.8" r="0.46"/><circle cx="437.9" cy="373.5" r="0.42"/><circle cx="443.5" cy="377.6" r="0.19"/><circle cx="450.6" cy="372.5" r="0.47"/><circle cx="430.0" cy="377.2" r="0.29"/><circle cx="435.9" cy="374.6" r="0.25"/><circle cx="439.9" cy="366.3" r="0.32"/><circle cx="459.7" cy="384.6" r="0.17"/><circle cx="446.0" cy="365.0" r="0.18"/><circle cx="430.3" cy="374.7" r="0.32"/><circle cx="457.8" cy="378.8" r="0.40"/><circle cx="453.1" cy="373.9" r="0.35"/><circle cx="458.2" cy="380.2" r="0.45"/><circle cx="437.7" cy="363.3" r="0.30"/><circle cx="443.8" cy="360.2" r="0.35"/><circle cx="459.7" cy="368.3" r="0.27"/><circle cx="445.7" cy="385.3" r="0.47"/><circle cx="444.4" cy="375.8" r="0.47"/><circle cx="449.5" cy="357.1" r="0.40"/><circle cx="453.3" cy="369.9" r="0.45"/><circle cx="465.2" cy="377.7" r="0.24"/><circle cx="455.7" cy="384.1" r="0.38"/><circle cx="455.1" cy="363.3" r="0.46"/><circle cx="447.6" cy="377.6" r="0.26"/><circle cx="449.8" cy="387.7" r="0.47"/><circle cx="454.0" cy="361.6" r="0.19"/><circle cx="435.0" cy="365.1" r="0.40"/><circle cx="455.9" cy="376.0" r="0.35"/><circle cx="432.5" cy="364.5" r="0.47"/><circle cx="446.6" cy="361.7" r="0.41"/><circle cx="440.1" cy="375.7" r="0.37"/><circle cx="439.8" cy="370.0" r="0.21"/><circle cx="434.7" cy="381.7" r="0.42"/><circle cx="449.7" cy="374.7" r="0.21"/><circle cx="442.4" cy="384.4" r="0.26"/><circle cx="451.9" cy="389.0" r="0.37"/><circle cx="438.7" cy="382.6" r="0.33"/><circle cx="436.8" cy="383.8" r="0.28"/><circle cx="452.2" cy="374.9" r="0.17"/><circle cx="453.3" cy="360.9" r="0.37"/><circle cx="440.4" cy="385.4" r="0.36"/><circle cx="446.9" cy="379.8" r="0.20"/><circle cx="434.3" cy="381.8" r="0.36"/><circle cx="455.2" cy="383.5" r="0.19"/><circle cx="430.4" cy="368.0" r="0.31"/><circle cx="435.0" cy="368.5" r="0.25"/><circle cx="435.8" cy="377.5" r="0.25"/><circle cx="434.1" cy="378.9" r="0.28"/><circle cx="441.2" cy="357.7" r="0.34"/><circle cx="450.4" cy="356.4" r="0.44"/><circle cx="439.2" cy="358.3" r="0.30"/><circle cx="452.5" cy="377.4" r="0.49"/><circle cx="448.1" cy="382.9" r="0.21"/><circle cx="449.6" cy="379.5" r="0.35"/><circle cx="431.6" cy="372.2" r="0.45"/><circle cx="439.4" cy="381.1" r="0.30"/><circle cx="436.0" cy="371.6" r="0.47"/><circle cx="438.1" cy="369.5" r="0.46"/><circle cx="435.7" cy="368.4" r="0.23"/><circle cx="438.7" cy="383.3" r="0.45"/><circle cx="448.1" cy="372.2" r="0.21"/><circle cx="444.9" cy="384.4" r="0.25"/><circle cx="458.8" cy="361.1" r="0.22"/><circle cx="452.3" cy="381.7" r="0.24"/><circle cx="451.1" cy="376.7" r="0.46"/><circle cx="436.8" cy="383.7" r="0.46"/><circle cx="462.7" cy="369.1" r="0.32"/><circle cx="439.6" cy="374.7" r="0.28"/><circle cx="451.6" cy="373.3" r="0.48"/><circle cx="451.8" cy="389.4" r="0.29"/><circle cx="458.3" cy="370.0" r="0.35"/><circle cx="454.0" cy="385.5" r="0.22"/><circle cx="442.9" cy="360.6" r="0.18"/><circle cx="461.5" cy="384.5" r="0.36"/><circle cx="450.6" cy="377.1" r="0.26"/><circle cx="455.5" cy="370.7" r="0.45"/><circle cx="449.7" cy="370.3" r="0.34"/><circle cx="448.3" cy="375.9" r="0.45"/><circle cx="444.5" cy="373.7" r="0.22"/><circle cx="439.1" cy="387.8" r="0.43"/><circle cx="440.0" cy="382.3" r="0.30"/><circle cx="440.5" cy="381.2" r="0.34"/><circle cx="458.3" cy="386.0" r="0.19"/><circle cx="460.6" cy="373.7" r="0.33"/><circle cx="439.8" cy="376.7" r="0.22"/><circle cx="455.9" cy="377.8" r="0.20"/><circle cx="432.1" cy="372.4" r="0.18"/><circle cx="448.8" cy="363.5" r="0.49"/><circle cx="436.8" cy="376.2" r="0.17"/><circle cx="451.2" cy="364.7" r="0.34"/><circle cx="462.7" cy="374.7" r="0.20"/><circle cx="448.2" cy="374.7" r="0.27"/><circle cx="444.1" cy="363.3" r="0.18"/><circle cx="462.6" cy="373.3" r="0.42"/><circle cx="445.0" cy="366.7" r="0.47"/><circle cx="455.1" cy="360.9" r="0.30"/><circle cx="429.9" cy="377.2" r="0.28"/><circle cx="462.9" cy="371.9" r="0.31"/><circle cx="452.4" cy="388.7" r="0.43"/><circle cx="440.5" cy="373.6" r="0.31"/><circle cx="437.6" cy="359.9" r="0.35"/><circle cx="435.2" cy="367.3" r="0.42"/><circle cx="443.7" cy="374.7" r="0.19"/><circle cx="444.9" cy="389.2" r="0.37"/><circle cx="464.1" cy="367.0" r="0.27"/><circle cx="455.8" cy="361.4" r="0.44"/><circle cx="447.6" cy="360.7" r="0.44"/><circle cx="452.3" cy="368.6" r="0.48"/><circle cx="445.2" cy="368.8" r="0.17"/><circle cx="438.6" cy="387.4" r="0.30"/><circle cx="450.8" cy="373.7" r="0.38"/><circle cx="433.8" cy="373.1" r="0.35"/><circle cx="447.1" cy="383.9" r="0.22"/><circle cx="436.7" cy="381.4" r="0.21"/><circle cx="460.3" cy="367.1" r="0.19"/><circle cx="446.4" cy="379.8" r="0.38"/><circle cx="439.3" cy="382.5" r="0.28"/><circle cx="458.5" cy="387.1" r="0.20"/><circle cx="452.2" cy="387.5" r="0.47"/><circle cx="460.5" cy="378.3" r="0.40"/><circle cx="441.6" cy="359.1" r="0.36"/><circle cx="460.9" cy="367.9" r="0.25"/><circle cx="446.6" cy="367.4" r="0.31"/><circle cx="449.6" cy="377.1" r="0.37"/><circle cx="453.4" cy="365.9" r="0.22"/><circle cx="441.5" cy="360.7" r="0.36"/><circle cx="445.3" cy="371.3" r="0.31"/><circle cx="457.7" cy="370.7" r="0.47"/><circle cx="448.8" cy="381.4" r="0.23"/><circle cx="431.2" cy="375.4" r="0.41"/><circle cx="452.6" cy="360.5" r="0.46"/><circle cx="453.4" cy="366.3" r="0.21"/><circle cx="457.9" cy="375.1" r="0.22"/><circle cx="438.7" cy="371.9" r="0.36"/><circle cx="455.5" cy="378.5" r="0.27"/><circle cx="452.9" cy="360.5" r="0.47"/><circle cx="444.1" cy="356.5" r="0.32"/><circle cx="449.4" cy="382.2" r="0.48"/><circle cx="444.9" cy="360.7" r="0.42"/><circle cx="448.6" cy="370.4" r="0.21"/><circle cx="458.2" cy="379.4" r="0.21"/><circle cx="445.0" cy="362.5" r="0.41"/><circle cx="443.8" cy="364.4" r="0.46"/><circle cx="444.7" cy="374.8" r="0.30"/><circle cx="455.5" cy="379.0" r="0.41"/><circle cx="464.8" cy="376.1" r="0.46"/><circle cx="432.5" cy="375.0" r="0.39"/><circle cx="440.3" cy="374.5" r="0.45"/><circle cx="445.8" cy="363.6" r="0.49"/><circle cx="447.2" cy="369.3" r="0.22"/><circle cx="458.5" cy="362.7" r="0.28"/><circle cx="449.3" cy="385.9" r="0.26"/><circle cx="439.6" cy="373.5" r="0.21"/><circle cx="462.5" cy="378.7" r="0.33"/><circle cx="455.5" cy="382.3" r="0.24"/><circle cx="439.8" cy="387.8" r="0.28"/><circle cx="449.7" cy="360.8" r="0.39"/><circle cx="460.7" cy="372.4" r="0.48"/><circle cx="452.8" cy="388.3" r="0.40"/><circle cx="463.2" cy="376.5" r="0.30"/><circle cx="434.1" cy="368.1" r="0.43"/><circle cx="459.6" cy="377.6" r="0.47"/><circle cx="438.6" cy="365.6" r="0.29"/><circle cx="445.5" cy="378.3" r="0.19"/><circle cx="455.2" cy="373.8" r="0.41"/><circle cx="448.5" cy="387.9" r="0.26"/><circle cx="446.2" cy="355.8" r="0.44"/><circle cx="449.0" cy="361.3" r="0.38"/><circle cx="439.2" cy="368.0" r="0.45"/><circle cx="450.0" cy="385.9" r="0.22"/><circle cx="445.2" cy="369.5" r="0.41"/><circle cx="432.0" cy="379.6" r="0.40"/><circle cx="460.7" cy="368.9" r="0.19"/><circle cx="446.5" cy="362.0" r="0.19"/><circle cx="455.2" cy="383.0" r="0.40"/><circle cx="457.8" cy="369.8" r="0.48"/><circle cx="449.9" cy="363.1" r="0.30"/><circle cx="452.1" cy="371.6" r="0.49"/><circle cx="464.3" cy="376.7" r="0.34"/><circle cx="452.5" cy="357.8" r="0.36"/><circle cx="451.5" cy="360.7" r="0.32"/><circle cx="449.9" cy="362.7" r="0.31"/><circle cx="439.4" cy="385.2" r="0.44"/><circle cx="445.1" cy="371.7" r="0.19"/><circle cx="434.2" cy="371.6" r="0.20"/><circle cx="451.4" cy="377.2" r="0.26"/><circle cx="449.1" cy="389.3" r="0.37"/><circle cx="455.5" cy="380.6" r="0.33"/><circle cx="440.2" cy="364.6" r="0.29"/><circle cx="452.7" cy="374.8" r="0.40"/><circle cx="455.4" cy="360.3" r="0.34"/><circle cx="448.7" cy="367.2" r="0.43"/><circle cx="460.9" cy="379.2" r="0.33"/><circle cx="435.0" cy="383.0" r="0.42"/><circle cx="435.4" cy="366.8" r="0.18"/><circle cx="449.0" cy="374.9" r="0.30"/><circle cx="445.7" cy="381.8" r="0.25"/><circle cx="453.0" cy="376.6" r="0.33"/><circle cx="460.7" cy="366.7" r="0.41"/><circle cx="460.5" cy="376.3" r="0.48"/><circle cx="450.4" cy="371.3" r="0.27"/><circle cx="447.2" cy="381.9" r="0.22"/><circle cx="448.1" cy="380.3" r="0.28"/><circle cx="464.1" cy="369.3" r="0.42"/><circle cx="454.2" cy="367.7" r="0.35"/><circle cx="445.9" cy="384.3" r="0.18"/><circle cx="444.9" cy="362.9" r="0.23"/><circle cx="436.6" cy="372.8" r="0.23"/><circle cx="462.1" cy="372.2" r="0.22"/><circle cx="457.9" cy="387.4" r="0.49"/><circle cx="454.2" cy="385.9" r="0.27"/><circle cx="454.7" cy="386.9" r="0.26"/><circle cx="438.0" cy="363.3" r="0.36"/><circle cx="443.2" cy="376.4" r="0.48"/><circle cx="454.5" cy="375.8" r="0.30"/><circle cx="459.8" cy="368.3" r="0.27"/><circle cx="455.3" cy="378.5" r="0.37"/><circle cx="465.5" cy="372.8" r="0.47"/><circle cx="456.9" cy="371.5" r="0.19"/><circle cx="446.5" cy="372.2" r="0.33"/><circle cx="451.6" cy="365.4" r="0.24"/><circle cx="449.2" cy="387.6" r="0.37"/><circle cx="445.0" cy="390.3" r="0.33"/><circle cx="445.1" cy="374.9" r="0.32"/><circle cx="443.4" cy="380.1" r="0.45"/><circle cx="452.8" cy="366.5" r="0.23"/><circle cx="449.0" cy="361.0" r="0.47"/><circle cx="461.1" cy="367.9" r="0.28"/><circle cx="433.6" cy="372.1" r="0.44"/><circle cx="444.3" cy="385.5" r="0.28"/><circle cx="449.4" cy="364.1" r="0.29"/><circle cx="464.4" cy="376.6" r="0.22"/><circle cx="451.9" cy="373.1" r="0.17"/><circle cx="441.9" cy="383.7" r="0.46"/><circle cx="453.9" cy="372.0" r="0.31"/><circle cx="447.7" cy="388.2" r="0.23"/><circle cx="445.8" cy="386.7" r="0.44"/><circle cx="461.6" cy="370.2" r="0.41"/><circle cx="449.7" cy="385.8" r="0.33"/><circle cx="448.4" cy="381.2" r="0.17"/><circle cx="436.1" cy="366.4" r="0.30"/><circle cx="438.8" cy="360.7" r="0.25"/><circle cx="437.1" cy="361.5" r="0.24"/><circle cx="450.5" cy="367.6" r="0.25"/><circle cx="445.9" cy="387.9" r="0.28"/><circle cx="431.1" cy="376.7" r="0.21"/><circle cx="439.9" cy="359.9" r="0.22"/><circle cx="461.0" cy="364.3" r="0.45"/><circle cx="464.7" cy="370.5" r="0.47"/><circle cx="465.1" cy="371.4" r="0.47"/><circle cx="446.2" cy="356.0" r="0.30"/><circle cx="444.1" cy="356.7" r="0.47"/><circle cx="461.7" cy="383.2" r="0.50"/><circle cx="450.3" cy="356.5" r="0.35"/><circle cx="458.4" cy="361.1" r="0.25"/><circle cx="460.2" cy="386.0" r="0.21"/><circle cx="463.2" cy="369.6" r="0.25"/><circle cx="442.7" cy="358.8" r="0.42"/><circle cx="431.4" cy="380.7" r="0.46"/><circle cx="437.2" cy="388.5" r="0.36"/><circle cx="459.0" cy="362.3" r="0.37"/><circle cx="464.6" cy="370.4" r="0.37"/><circle cx="452.1" cy="390.1" r="0.25"/><circle cx="433.1" cy="383.2" r="0.26"/><circle cx="464.9" cy="375.8" r="0.38"/><circle cx="434.6" cy="383.6" r="0.23"/><circle cx="445.1" cy="391.9" r="0.23"/><circle cx="460.5" cy="383.6" r="0.22"/><circle cx="431.4" cy="368.1" r="0.47"/><circle cx="456.3" cy="359.9" r="0.35"/><circle cx="451.8" cy="357.5" r="0.38"/><circle cx="463.4" cy="376.5" r="0.32"/><circle cx="455.1" cy="389.3" r="0.28"/><circle cx="432.6" cy="367.2" r="0.25"/><circle cx="460.4" cy="361.2" r="0.37"/><circle cx="437.1" cy="387.5" r="0.48"/><circle cx="431.9" cy="379.6" r="0.53"/><circle cx="441.2" cy="388.8" r="0.20"/><circle cx="430.0" cy="374.8" r="0.29"/><circle cx="463.9" cy="373.5" r="0.52"/><circle cx="464.2" cy="372.5" r="0.52"/><circle cx="461.2" cy="383.8" r="0.36"/><circle cx="441.4" cy="357.9" r="0.22"/><circle cx="435.2" cy="362.7" r="0.46"/><circle cx="429.7" cy="377.6" r="0.51"/><circle cx="435.2" cy="362.2" r="0.33"/><circle cx="442.2" cy="391.0" r="0.38"/><circle cx="445.0" cy="357.5" r="0.35"/><circle cx="449.9" cy="357.1" r="0.27"/><circle cx="430.3" cy="376.1" r="0.41"/><circle cx="455.3" cy="388.3" r="0.35"/><circle cx="460.2" cy="363.3" r="0.48"/><circle cx="444.0" cy="391.2" r="0.28"/><circle cx="465.9" cy="374.3" r="0.49"/><circle cx="431.1" cy="381.4" r="0.22"/><circle cx="432.6" cy="365.3" r="0.25"/><circle cx="464.5" cy="374.7" r="0.38"/><circle cx="432.8" cy="382.7" r="0.23"/><circle cx="444.2" cy="391.2" r="0.39"/><circle cx="440.6" cy="390.3" r="0.21"/><circle cx="464.2" cy="376.2" r="0.20"/><circle cx="430.7" cy="367.0" r="0.45"/><circle cx="464.1" cy="379.1" r="0.47"/><circle cx="449.1" cy="356.1" r="0.26"/><circle cx="434.0" cy="363.3" r="0.24"/><circle cx="454.6" cy="359.4" r="0.36"/><circle cx="433.6" cy="383.1" r="0.23"/><circle cx="431.6" cy="375.3" r="0.52"/><circle cx="453.6" cy="389.2" r="0.37"/><circle cx="429.7" cy="371.4" r="0.27"/><circle cx="462.0" cy="363.7" r="0.30"/><circle cx="440.8" cy="357.0" r="0.51"/><circle cx="452.2" cy="357.5" r="0.21"/><circle cx="442.6" cy="389.7" r="0.48"/><circle cx="446.5" cy="391.7" r="0.44"/><circle cx="431.7" cy="381.4" r="0.47"/><circle cx="433.8" cy="363.7" r="0.47"/><circle cx="442.5" cy="357.5" r="0.48"/><circle cx="457.6" cy="360.5" r="0.51"/><circle cx="430.5" cy="378.4" r="0.35"/><circle cx="463.4" cy="370.9" r="0.48"/><circle cx="458.2" cy="388.9" r="0.47"/><circle cx="464.2" cy="374.2" r="0.21"/><circle cx="437.3" cy="359.7" r="0.23"/><circle cx="430.9" cy="370.6" r="0.26"/><circle cx="431.2" cy="382.2" r="0.27"/><circle cx="461.9" cy="384.2" r="0.31"/><circle cx="433.6" cy="366.2" r="0.44"/><circle cx="441.8" cy="357.8" r="0.50"/><circle cx="463.1" cy="364.6" r="0.53"/><circle cx="460.8" cy="364.8" r="0.45"/><circle cx="464.7" cy="367.3" r="0.29"/><circle cx="463.7" cy="365.4" r="0.40"/><circle cx="434.9" cy="362.7" r="0.32"/><circle cx="437.6" cy="388.8" r="0.41"/><circle cx="436.4" cy="387.6" r="0.44"/><circle cx="453.5" cy="389.2" r="0.48"/><circle cx="458.7" cy="386.1" r="0.45"/><circle cx="451.4" cy="391.2" r="0.50"/><circle cx="430.8" cy="370.6" r="0.27"/><circle cx="463.9" cy="366.9" r="0.31"/><circle cx="430.2" cy="369.2" r="0.34"/><circle cx="438.5" cy="388.6" r="0.47"/><circle cx="447.4" cy="357.7" r="0.36"/><circle cx="458.5" cy="360.2" r="0.52"/><circle cx="441.2" cy="358.2" r="0.26"/><circle cx="432.4" cy="382.9" r="0.32"/><circle cx="431.7" cy="374.9" r="0.47"/><circle cx="462.7" cy="382.2" r="0.28"/><circle cx="436.0" cy="362.8" r="0.24"/><circle cx="431.7" cy="367.1" r="0.22"/><circle cx="436.7" cy="359.9" r="0.43"/><circle cx="431.5" cy="374.8" r="0.37"/><circle cx="432.7" cy="382.2" r="0.22"/><circle cx="463.7" cy="380.1" r="0.37"/><circle cx="432.6" cy="367.5" r="0.28"/><circle cx="464.4" cy="380.1" r="0.29"/><circle cx="448.3" cy="391.9" r="0.24"/><circle cx="430.0" cy="378.3" r="0.48"/><circle cx="463.2" cy="380.3" r="0.29"/><circle cx="435.2" cy="360.9" r="0.38"/><circle cx="451.3" cy="358.1" r="0.26"/><circle cx="430.4" cy="371.2" r="0.38"/><circle cx="451.6" cy="391.9" r="0.46"/><circle cx="431.5" cy="366.4" r="0.44"/><circle cx="432.6" cy="366.6" r="0.41"/><circle cx="443.2" cy="357.9" r="0.21"/><circle cx="431.3" cy="370.5" r="0.48"/><circle cx="461.2" cy="365.4" r="0.51"/><circle cx="433.3" cy="385.3" r="0.22"/><circle cx="432.3" cy="364.2" r="0.21"/><circle cx="464.7" cy="380.4" r="0.32"/><circle cx="437.2" cy="359.9" r="0.28"/><circle cx="463.7" cy="378.0" r="0.50"/><circle cx="454.1" cy="389.2" r="0.50"/><circle cx="430.3" cy="371.8" r="0.29"/><circle cx="456.1" cy="389.1" r="0.47"/><circle cx="453.5" cy="390.3" r="0.37"/><circle cx="435.2" cy="362.9" r="0.44"/><circle cx="455.3" cy="390.3" r="0.47"/><circle cx="436.5" cy="386.3" r="0.35"/><circle cx="439.7" cy="358.3" r="0.40"/><circle cx="448.2" cy="356.8" r="0.34"/><circle cx="464.0" cy="374.4" r="0.38"/><circle cx="454.9" cy="357.4" r="0.38"/><circle cx="432.4" cy="367.1" r="0.47"/><circle cx="440.7" cy="390.2" r="0.33"/><circle cx="460.1" cy="385.8" r="0.27"/><circle cx="465.0" cy="374.3" r="0.39"/><circle cx="438.2" cy="389.6" r="0.48"/><circle cx="463.0" cy="367.6" r="0.49"/><circle cx="434.2" cy="384.1" r="0.28"/><circle cx="458.7" cy="361.8" r="0.32"/><circle cx="450.3" cy="358.2" r="0.50"/><circle cx="435.9" cy="361.3" r="0.34"/></g>
<circle cx="447.60" cy="422.30" r="21.80" fill="#cacadc" stroke="#aeaed4" stroke-width="1.3"/>
<circle cx="447.60" cy="422.30" r="18.75" fill="#c6c6e0" filter="url(#blur1)"/>
<g fill="#5050b8" opacity="0.6" filter="url(#blur05)"><circle cx="452.6" cy="439.5" r="0.25"/><circle cx="437.9" cy="420.6" r="0.23"/><circle cx="432.2" cy="420.3" r="0.21"/><circle cx="456.7" cy="432.3" r="0.23"/><circle cx="438.6" cy="415.7" r="0.20"/><circle cx="450.4" cy="413.2" r="0.49"/><circle cx="454.2" cy="409.9" r="0.49"/><circle cx="442.0" cy="436.9" r="0.31"/><circle cx="440.4" cy="431.0" r="0.45"/><circle cx="455.3" cy="435.6" r="0.48"/><circle cx="441.6" cy="406.2" r="0.37"/><circle cx="446.9" cy="412.5" r="0.46"/><circle cx="439.0" cy="436.5" r="0.39"/><circle cx="453.2" cy="405.4" r="0.34"/><circle cx="446.2" cy="430.7" r="0.39"/><circle cx="452.1" cy="414.6" r="0.28"/><circle cx="442.7" cy="409.8" r="0.19"/><circle cx="443.9" cy="418.7" r="0.40"/><circle cx="459.8" cy="424.0" r="0.36"/><circle cx="450.7" cy="433.2" r="0.23"/><circle cx="460.9" cy="409.8" r="0.50"/><circle cx="455.5" cy="410.3" r="0.48"/><circle cx="456.6" cy="422.0" r="0.19"/><circle cx="441.5" cy="412.3" r="0.38"/><circle cx="440.5" cy="432.8" r="0.34"/><circle cx="464.4" cy="425.0" r="0.21"/><circle cx="451.8" cy="437.9" r="0.22"/><circle cx="429.5" cy="423.2" r="0.36"/><circle cx="441.7" cy="423.7" r="0.42"/><circle cx="459.8" cy="412.7" r="0.26"/><circle cx="435.1" cy="409.9" r="0.25"/><circle cx="456.4" cy="406.5" r="0.44"/><circle cx="450.4" cy="437.5" r="0.44"/><circle cx="443.7" cy="421.0" r="0.46"/><circle cx="452.2" cy="411.1" r="0.26"/><circle cx="430.4" cy="424.6" r="0.49"/><circle cx="463.3" cy="419.5" r="0.36"/><circle cx="454.9" cy="431.7" r="0.22"/><circle cx="433.9" cy="411.1" r="0.45"/><circle cx="451.6" cy="421.8" r="0.21"/><circle cx="445.7" cy="412.2" r="0.20"/><circle cx="452.9" cy="432.8" r="0.31"/><circle cx="457.3" cy="410.3" r="0.49"/><circle cx="434.9" cy="432.9" r="0.49"/><circle cx="460.8" cy="416.8" r="0.20"/><circle cx="443.7" cy="408.8" r="0.44"/><circle cx="455.4" cy="411.2" r="0.36"/><circle cx="439.1" cy="413.0" r="0.25"/><circle cx="464.5" cy="424.9" r="0.49"/><circle cx="461.2" cy="425.1" r="0.40"/><circle cx="440.5" cy="407.2" r="0.34"/><circle cx="443.5" cy="435.3" r="0.49"/><circle cx="451.4" cy="431.3" r="0.19"/><circle cx="439.4" cy="437.8" r="0.20"/><circle cx="450.0" cy="432.4" r="0.39"/><circle cx="448.1" cy="437.2" r="0.24"/><circle cx="451.1" cy="438.5" r="0.47"/><circle cx="454.0" cy="420.3" r="0.28"/><circle cx="452.0" cy="429.2" r="0.45"/><circle cx="439.0" cy="427.9" r="0.46"/><circle cx="431.9" cy="430.7" r="0.26"/><circle cx="438.2" cy="432.2" r="0.40"/><circle cx="457.9" cy="409.8" r="0.22"/><circle cx="437.3" cy="434.4" r="0.49"/><circle cx="436.9" cy="433.6" r="0.25"/><circle cx="458.1" cy="418.5" r="0.49"/><circle cx="430.7" cy="418.6" r="0.23"/><circle cx="460.2" cy="421.9" r="0.20"/><circle cx="438.2" cy="429.8" r="0.46"/><circle cx="452.3" cy="413.2" r="0.39"/><circle cx="457.4" cy="424.8" r="0.42"/><circle cx="441.9" cy="433.2" r="0.17"/><circle cx="441.1" cy="437.4" r="0.37"/><circle cx="453.9" cy="433.3" r="0.25"/><circle cx="451.1" cy="420.3" r="0.26"/><circle cx="447.1" cy="440.0" r="0.40"/><circle cx="454.4" cy="406.3" r="0.21"/><circle cx="441.9" cy="425.2" r="0.42"/><circle cx="431.1" cy="426.1" r="0.39"/><circle cx="462.4" cy="417.3" r="0.22"/><circle cx="449.5" cy="430.6" r="0.26"/><circle cx="435.2" cy="415.3" r="0.39"/><circle cx="447.5" cy="437.6" r="0.45"/><circle cx="443.9" cy="404.5" r="0.34"/><circle cx="461.8" cy="430.6" r="0.18"/><circle cx="448.3" cy="407.1" r="0.43"/><circle cx="437.5" cy="419.0" r="0.34"/><circle cx="438.0" cy="418.2" r="0.41"/><circle cx="448.8" cy="422.8" r="0.42"/><circle cx="439.4" cy="414.7" r="0.32"/><circle cx="441.9" cy="430.1" r="0.29"/><circle cx="454.6" cy="410.4" r="0.49"/><circle cx="445.1" cy="412.2" r="0.36"/><circle cx="447.7" cy="415.7" r="0.36"/><circle cx="451.2" cy="418.5" r="0.34"/><circle cx="452.5" cy="409.4" r="0.46"/><circle cx="439.9" cy="418.8" r="0.49"/><circle cx="453.4" cy="406.7" r="0.50"/><circle cx="432.8" cy="413.3" r="0.50"/><circle cx="444.2" cy="436.9" r="0.50"/><circle cx="448.2" cy="413.3" r="0.32"/><circle cx="448.6" cy="432.6" r="0.36"/><circle cx="432.3" cy="427.3" r="0.38"/><circle cx="454.4" cy="410.4" r="0.23"/><circle cx="448.9" cy="426.8" r="0.20"/><circle cx="442.8" cy="427.2" r="0.40"/><circle cx="453.8" cy="412.2" r="0.41"/><circle cx="464.4" cy="416.8" r="0.40"/><circle cx="446.1" cy="439.5" r="0.41"/><circle cx="449.6" cy="412.9" r="0.22"/><circle cx="444.0" cy="428.6" r="0.48"/><circle cx="451.4" cy="434.9" r="0.44"/><circle cx="443.0" cy="420.9" r="0.35"/><circle cx="462.9" cy="425.3" r="0.32"/><circle cx="442.7" cy="405.2" r="0.34"/><circle cx="441.7" cy="428.4" r="0.45"/><circle cx="452.0" cy="405.5" r="0.44"/><circle cx="446.6" cy="431.0" r="0.33"/><circle cx="450.3" cy="411.3" r="0.42"/><circle cx="451.8" cy="434.1" r="0.29"/><circle cx="449.1" cy="411.9" r="0.47"/><circle cx="454.1" cy="434.0" r="0.50"/><circle cx="453.1" cy="431.9" r="0.31"/><circle cx="431.9" cy="428.3" r="0.39"/><circle cx="439.3" cy="414.5" r="0.22"/><circle cx="432.6" cy="428.0" r="0.34"/><circle cx="443.7" cy="418.2" r="0.46"/><circle cx="454.3" cy="414.4" r="0.17"/><circle cx="452.8" cy="427.2" r="0.20"/><circle cx="463.3" cy="414.4" r="0.30"/><circle cx="461.0" cy="413.5" r="0.28"/><circle cx="443.0" cy="423.4" r="0.43"/><circle cx="449.6" cy="434.5" r="0.22"/><circle cx="452.7" cy="411.6" r="0.42"/><circle cx="455.8" cy="435.4" r="0.22"/><circle cx="438.8" cy="427.6" r="0.50"/><circle cx="437.9" cy="429.8" r="0.27"/><circle cx="451.2" cy="416.3" r="0.48"/><circle cx="455.9" cy="420.5" r="0.39"/><circle cx="457.4" cy="432.6" r="0.23"/><circle cx="452.9" cy="419.4" r="0.38"/><circle cx="446.7" cy="426.1" r="0.17"/><circle cx="454.6" cy="407.5" r="0.20"/><circle cx="442.2" cy="423.8" r="0.22"/><circle cx="465.3" cy="419.3" r="0.33"/><circle cx="447.1" cy="431.1" r="0.43"/><circle cx="439.1" cy="421.1" r="0.34"/><circle cx="431.6" cy="423.8" r="0.43"/><circle cx="460.9" cy="416.7" r="0.50"/><circle cx="449.9" cy="429.5" r="0.26"/><circle cx="433.6" cy="420.7" r="0.31"/><circle cx="435.3" cy="433.4" r="0.41"/><circle cx="446.8" cy="423.6" r="0.23"/><circle cx="430.3" cy="417.4" r="0.20"/><circle cx="444.9" cy="437.1" r="0.24"/><circle cx="460.6" cy="412.9" r="0.28"/><circle cx="445.2" cy="424.0" r="0.24"/><circle cx="443.7" cy="412.6" r="0.27"/><circle cx="439.2" cy="417.4" r="0.18"/><circle cx="447.8" cy="420.1" r="0.31"/><circle cx="441.1" cy="426.7" r="0.22"/><circle cx="458.9" cy="426.3" r="0.28"/><circle cx="456.9" cy="412.3" r="0.28"/><circle cx="442.6" cy="430.9" r="0.32"/><circle cx="458.4" cy="408.7" r="0.19"/><circle cx="454.5" cy="418.4" r="0.50"/><circle cx="445.9" cy="426.8" r="0.31"/><circle cx="442.4" cy="439.0" r="0.32"/><circle cx="437.8" cy="428.4" r="0.45"/><circle cx="431.4" cy="430.7" r="0.43"/><circle cx="452.1" cy="426.9" r="0.26"/><circle cx="458.2" cy="435.5" r="0.24"/><circle cx="447.4" cy="404.6" r="0.33"/><circle cx="439.7" cy="434.0" r="0.51"/><circle cx="441.1" cy="432.0" r="0.40"/><circle cx="460.5" cy="412.5" r="0.24"/><circle cx="458.4" cy="435.8" r="0.21"/><circle cx="444.4" cy="414.7" r="0.47"/><circle cx="457.4" cy="437.7" r="0.33"/><circle cx="447.0" cy="424.2" r="0.29"/><circle cx="443.9" cy="417.3" r="0.21"/><circle cx="445.2" cy="413.6" r="0.37"/><circle cx="458.9" cy="425.4" r="0.26"/><circle cx="446.5" cy="417.5" r="0.27"/><circle cx="452.8" cy="410.3" r="0.31"/><circle cx="446.8" cy="435.7" r="0.21"/><circle cx="446.7" cy="424.0" r="0.43"/><circle cx="446.8" cy="421.1" r="0.24"/><circle cx="446.5" cy="412.2" r="0.29"/><circle cx="448.7" cy="414.9" r="0.37"/><circle cx="452.6" cy="423.5" r="0.25"/><circle cx="464.9" cy="417.4" r="0.39"/><circle cx="460.9" cy="417.9" r="0.18"/><circle cx="455.0" cy="427.4" r="0.30"/><circle cx="444.5" cy="426.0" r="0.41"/><circle cx="454.3" cy="411.5" r="0.39"/><circle cx="458.8" cy="428.1" r="0.44"/><circle cx="440.7" cy="429.3" r="0.40"/><circle cx="451.7" cy="411.5" r="0.34"/><circle cx="459.3" cy="433.7" r="0.26"/><circle cx="451.0" cy="430.0" r="0.31"/><circle cx="452.4" cy="412.0" r="0.22"/><circle cx="440.0" cy="424.3" r="0.36"/><circle cx="456.0" cy="420.2" r="0.49"/><circle cx="448.8" cy="419.4" r="0.20"/><circle cx="436.2" cy="415.7" r="0.27"/><circle cx="457.7" cy="431.9" r="0.49"/><circle cx="438.2" cy="416.9" r="0.30"/><circle cx="452.3" cy="428.0" r="0.33"/><circle cx="447.6" cy="420.7" r="0.47"/><circle cx="448.6" cy="432.1" r="0.47"/><circle cx="441.7" cy="433.0" r="0.18"/><circle cx="444.5" cy="432.8" r="0.22"/><circle cx="463.7" cy="418.5" r="0.27"/><circle cx="448.9" cy="422.6" r="0.48"/><circle cx="447.3" cy="426.9" r="0.33"/><circle cx="444.8" cy="421.4" r="0.39"/><circle cx="456.6" cy="436.3" r="0.44"/><circle cx="444.1" cy="412.5" r="0.51"/><circle cx="449.0" cy="430.5" r="0.44"/><circle cx="459.1" cy="425.9" r="0.35"/><circle cx="438.4" cy="431.0" r="0.34"/><circle cx="443.8" cy="427.7" r="0.48"/><circle cx="459.8" cy="415.2" r="0.27"/><circle cx="457.3" cy="431.3" r="0.18"/><circle cx="442.5" cy="424.4" r="0.50"/><circle cx="431.1" cy="417.7" r="0.27"/><circle cx="455.3" cy="416.9" r="0.43"/><circle cx="439.2" cy="413.3" r="0.36"/><circle cx="442.8" cy="405.2" r="0.24"/><circle cx="442.6" cy="419.5" r="0.24"/><circle cx="463.7" cy="428.5" r="0.47"/><circle cx="457.6" cy="427.8" r="0.27"/><circle cx="442.6" cy="404.7" r="0.26"/><circle cx="453.8" cy="428.2" r="0.29"/><circle cx="461.3" cy="426.6" r="0.45"/><circle cx="463.6" cy="429.6" r="0.48"/><circle cx="438.2" cy="419.0" r="0.28"/><circle cx="447.2" cy="434.5" r="0.43"/><circle cx="437.2" cy="425.3" r="0.24"/><circle cx="454.2" cy="407.6" r="0.42"/><circle cx="438.3" cy="414.3" r="0.48"/><circle cx="439.7" cy="421.6" r="0.26"/><circle cx="447.8" cy="435.7" r="0.39"/><circle cx="447.2" cy="437.3" r="0.45"/><circle cx="464.4" cy="420.2" r="0.17"/><circle cx="431.6" cy="417.7" r="0.19"/><circle cx="456.7" cy="412.2" r="0.50"/><circle cx="452.7" cy="406.0" r="0.40"/><circle cx="449.0" cy="415.4" r="0.45"/><circle cx="458.0" cy="415.2" r="0.22"/><circle cx="450.1" cy="409.4" r="0.29"/><circle cx="445.5" cy="420.0" r="0.39"/><circle cx="444.4" cy="418.8" r="0.25"/><circle cx="461.4" cy="416.3" r="0.49"/><circle cx="437.6" cy="426.8" r="0.26"/><circle cx="463.8" cy="420.5" r="0.21"/><circle cx="438.0" cy="428.3" r="0.28"/><circle cx="458.7" cy="414.2" r="0.33"/><circle cx="460.6" cy="411.5" r="0.48"/><circle cx="447.6" cy="438.8" r="0.30"/><circle cx="458.4" cy="417.3" r="0.26"/><circle cx="437.6" cy="420.3" r="0.39"/><circle cx="455.1" cy="437.2" r="0.24"/><circle cx="433.8" cy="412.6" r="0.26"/><circle cx="434.1" cy="429.1" r="0.39"/><circle cx="448.2" cy="426.4" r="0.50"/><circle cx="453.6" cy="406.7" r="0.31"/><circle cx="444.9" cy="424.2" r="0.39"/><circle cx="455.1" cy="405.5" r="0.42"/><circle cx="435.3" cy="421.0" r="0.31"/><circle cx="439.9" cy="420.4" r="0.42"/><circle cx="442.7" cy="418.8" r="0.36"/><circle cx="453.8" cy="422.9" r="0.20"/><circle cx="434.9" cy="425.0" r="0.19"/><circle cx="437.0" cy="430.2" r="0.39"/><circle cx="464.1" cy="426.4" r="0.42"/><circle cx="456.2" cy="427.6" r="0.29"/><circle cx="446.3" cy="412.8" r="0.37"/><circle cx="431.3" cy="418.8" r="0.37"/><circle cx="444.3" cy="439.7" r="0.47"/><circle cx="442.4" cy="435.1" r="0.43"/><circle cx="437.8" cy="432.4" r="0.22"/><circle cx="453.4" cy="412.2" r="0.48"/><circle cx="445.6" cy="430.8" r="0.28"/><circle cx="439.8" cy="429.5" r="0.40"/><circle cx="450.7" cy="407.5" r="0.47"/><circle cx="447.9" cy="433.2" r="0.50"/><circle cx="462.3" cy="414.3" r="0.28"/><circle cx="462.2" cy="427.2" r="0.41"/><circle cx="463.7" cy="425.3" r="0.26"/><circle cx="445.0" cy="423.4" r="0.19"/><circle cx="461.4" cy="423.1" r="0.30"/><circle cx="440.1" cy="433.9" r="0.47"/><circle cx="451.7" cy="433.5" r="0.24"/><circle cx="442.1" cy="416.6" r="0.28"/><circle cx="442.1" cy="428.1" r="0.27"/><circle cx="445.9" cy="416.6" r="0.38"/><circle cx="449.4" cy="424.7" r="0.36"/><circle cx="441.0" cy="412.8" r="0.24"/><circle cx="464.4" cy="424.1" r="0.21"/><circle cx="455.1" cy="430.6" r="0.28"/><circle cx="453.1" cy="437.4" r="0.27"/><circle cx="459.7" cy="428.0" r="0.25"/><circle cx="457.6" cy="433.5" r="0.25"/><circle cx="460.7" cy="422.2" r="0.25"/><circle cx="439.2" cy="435.0" r="0.25"/><circle cx="438.8" cy="435.4" r="0.50"/><circle cx="442.9" cy="416.6" r="0.26"/><circle cx="448.7" cy="428.0" r="0.44"/><circle cx="457.4" cy="412.1" r="0.28"/><circle cx="454.6" cy="410.9" r="0.41"/><circle cx="436.9" cy="432.3" r="0.21"/><circle cx="448.0" cy="418.9" r="0.31"/><circle cx="451.3" cy="435.4" r="0.43"/><circle cx="461.7" cy="413.5" r="0.41"/><circle cx="453.2" cy="406.9" r="0.24"/><circle cx="436.3" cy="428.2" r="0.47"/><circle cx="457.1" cy="406.8" r="0.35"/><circle cx="460.6" cy="422.0" r="0.23"/><circle cx="434.0" cy="433.9" r="0.31"/><circle cx="439.6" cy="424.6" r="0.29"/><circle cx="448.8" cy="405.2" r="0.22"/><circle cx="456.9" cy="429.6" r="0.18"/><circle cx="449.1" cy="423.9" r="0.42"/><circle cx="433.7" cy="410.6" r="0.31"/><circle cx="447.1" cy="415.7" r="0.18"/><circle cx="443.3" cy="418.6" r="0.28"/><circle cx="447.3" cy="412.4" r="0.40"/><circle cx="463.0" cy="420.9" r="0.26"/><circle cx="451.9" cy="427.7" r="0.36"/><circle cx="442.3" cy="438.8" r="0.39"/><circle cx="435.1" cy="430.3" r="0.49"/><circle cx="435.0" cy="428.2" r="0.46"/><circle cx="455.6" cy="413.0" r="0.23"/><circle cx="460.0" cy="420.7" r="0.48"/><circle cx="463.5" cy="413.2" r="0.34"/><circle cx="439.7" cy="416.7" r="0.36"/><circle cx="461.3" cy="415.3" r="0.19"/><circle cx="453.3" cy="439.2" r="0.27"/><circle cx="439.3" cy="417.0" r="0.47"/><circle cx="453.6" cy="413.9" r="0.42"/><circle cx="443.9" cy="417.8" r="0.27"/><circle cx="437.3" cy="410.4" r="0.36"/><circle cx="439.8" cy="416.3" r="0.25"/><circle cx="438.5" cy="414.8" r="0.18"/><circle cx="449.5" cy="404.6" r="0.50"/><circle cx="439.6" cy="414.1" r="0.37"/><circle cx="432.8" cy="425.9" r="0.32"/><circle cx="461.1" cy="432.7" r="0.28"/><circle cx="443.2" cy="413.0" r="0.23"/><circle cx="461.7" cy="430.5" r="0.27"/><circle cx="440.6" cy="427.2" r="0.36"/><circle cx="444.0" cy="428.2" r="0.41"/><circle cx="440.3" cy="435.5" r="0.32"/><circle cx="440.5" cy="424.4" r="0.49"/><circle cx="444.1" cy="431.7" r="0.45"/><circle cx="439.3" cy="424.3" r="0.29"/><circle cx="443.5" cy="435.6" r="0.49"/><circle cx="430.6" cy="417.9" r="0.24"/><circle cx="450.9" cy="407.9" r="0.38"/><circle cx="465.2" cy="422.4" r="0.19"/><circle cx="446.0" cy="418.9" r="0.17"/><circle cx="454.9" cy="430.4" r="0.22"/><circle cx="438.0" cy="424.6" r="0.30"/><circle cx="454.2" cy="437.8" r="0.41"/><circle cx="456.7" cy="414.1" r="0.29"/><circle cx="460.6" cy="428.3" r="0.39"/><circle cx="432.2" cy="415.1" r="0.39"/><circle cx="443.2" cy="411.6" r="0.21"/><circle cx="431.8" cy="415.0" r="0.27"/><circle cx="463.2" cy="421.4" r="0.39"/><circle cx="437.0" cy="434.9" r="0.51"/><circle cx="450.2" cy="425.6" r="0.25"/><circle cx="436.9" cy="418.1" r="0.42"/><circle cx="448.1" cy="420.9" r="0.42"/><circle cx="441.9" cy="415.6" r="0.42"/><circle cx="456.6" cy="427.6" r="0.37"/><circle cx="459.6" cy="430.6" r="0.28"/><circle cx="445.5" cy="416.2" r="0.38"/><circle cx="456.7" cy="430.1" r="0.23"/><circle cx="432.5" cy="428.5" r="0.23"/><circle cx="440.6" cy="436.2" r="0.27"/><circle cx="445.4" cy="436.2" r="0.24"/><circle cx="463.6" cy="423.3" r="0.29"/><circle cx="447.4" cy="439.1" r="0.48"/><circle cx="437.7" cy="430.4" r="0.37"/><circle cx="450.9" cy="415.8" r="0.23"/><circle cx="456.8" cy="411.1" r="0.41"/><circle cx="444.4" cy="429.2" r="0.45"/><circle cx="451.1" cy="406.3" r="0.21"/><circle cx="455.3" cy="414.0" r="0.41"/><circle cx="441.9" cy="407.7" r="0.34"/><circle cx="450.5" cy="438.1" r="0.19"/><circle cx="449.2" cy="412.4" r="0.34"/><circle cx="432.6" cy="428.1" r="0.40"/><circle cx="454.3" cy="438.7" r="0.43"/><circle cx="441.9" cy="439.3" r="0.21"/><circle cx="430.2" cy="421.2" r="0.24"/><circle cx="458.3" cy="408.1" r="0.35"/><circle cx="452.7" cy="408.5" r="0.44"/><circle cx="441.1" cy="414.1" r="0.48"/><circle cx="463.0" cy="431.0" r="0.48"/><circle cx="439.1" cy="427.3" r="0.30"/><circle cx="448.7" cy="431.1" r="0.34"/><circle cx="433.9" cy="413.9" r="0.36"/><circle cx="433.2" cy="419.1" r="0.31"/><circle cx="457.2" cy="406.7" r="0.39"/><circle cx="451.8" cy="433.7" r="0.30"/><circle cx="457.9" cy="419.7" r="0.29"/><circle cx="451.9" cy="436.2" r="0.47"/><circle cx="442.5" cy="416.4" r="0.42"/><circle cx="465.3" cy="420.1" r="0.38"/><circle cx="445.4" cy="430.6" r="0.39"/><circle cx="433.2" cy="421.6" r="0.42"/><circle cx="454.8" cy="431.7" r="0.38"/><circle cx="465.5" cy="420.5" r="0.38"/><circle cx="433.5" cy="420.9" r="0.44"/><circle cx="437.5" cy="409.5" r="0.32"/><circle cx="434.8" cy="415.3" r="0.36"/><circle cx="438.9" cy="433.6" r="0.50"/><circle cx="451.7" cy="413.3" r="0.24"/><circle cx="442.7" cy="413.5" r="0.50"/><circle cx="464.7" cy="423.7" r="0.23"/><circle cx="446.4" cy="407.3" r="0.25"/><circle cx="429.8" cy="426.4" r="0.23"/><circle cx="436.8" cy="419.6" r="0.36"/><circle cx="462.3" cy="427.7" r="0.24"/><circle cx="444.9" cy="414.4" r="0.33"/><circle cx="451.1" cy="411.9" r="0.48"/><circle cx="442.2" cy="412.8" r="0.24"/><circle cx="438.3" cy="435.4" r="0.23"/><circle cx="440.9" cy="413.0" r="0.31"/><circle cx="455.9" cy="410.1" r="0.24"/><circle cx="460.6" cy="415.7" r="0.33"/><circle cx="443.0" cy="406.9" r="0.49"/><circle cx="444.0" cy="426.4" r="0.22"/><circle cx="437.5" cy="419.6" r="0.24"/><circle cx="449.2" cy="437.7" r="0.42"/><circle cx="456.4" cy="431.6" r="0.35"/><circle cx="449.0" cy="437.1" r="0.43"/><circle cx="452.0" cy="408.2" r="0.32"/><circle cx="439.7" cy="438.0" r="0.36"/><circle cx="462.9" cy="414.2" r="0.35"/><circle cx="454.3" cy="423.7" r="0.25"/><circle cx="433.7" cy="422.4" r="0.19"/><circle cx="453.6" cy="424.4" r="0.51"/><circle cx="465.7" cy="421.3" r="0.34"/><circle cx="440.8" cy="421.7" r="0.23"/><circle cx="449.7" cy="406.9" r="0.23"/><circle cx="460.0" cy="432.2" r="0.30"/><circle cx="462.5" cy="415.9" r="0.25"/><circle cx="445.6" cy="422.1" r="0.26"/><circle cx="436.0" cy="432.5" r="0.48"/><circle cx="455.4" cy="410.9" r="0.22"/><circle cx="442.0" cy="431.4" r="0.40"/><circle cx="446.2" cy="419.2" r="0.29"/><circle cx="436.3" cy="419.0" r="0.42"/><circle cx="456.5" cy="420.4" r="0.42"/><circle cx="457.5" cy="426.0" r="0.43"/><circle cx="436.7" cy="415.1" r="0.38"/><circle cx="437.5" cy="410.5" r="0.37"/><circle cx="439.7" cy="428.5" r="0.46"/><circle cx="455.0" cy="416.2" r="0.33"/><circle cx="443.9" cy="406.1" r="0.44"/><circle cx="437.4" cy="415.7" r="0.18"/><circle cx="456.1" cy="435.9" r="0.43"/><circle cx="435.5" cy="409.0" r="0.22"/><circle cx="462.0" cy="430.8" r="0.32"/><circle cx="436.7" cy="415.7" r="0.45"/><circle cx="445.3" cy="436.6" r="0.49"/><circle cx="434.0" cy="412.9" r="0.18"/><circle cx="439.1" cy="414.6" r="0.22"/><circle cx="463.3" cy="420.1" r="0.32"/><circle cx="443.0" cy="435.6" r="0.32"/><circle cx="461.9" cy="432.4" r="0.29"/><circle cx="462.8" cy="424.7" r="0.31"/><circle cx="449.1" cy="437.6" r="0.21"/><circle cx="463.3" cy="424.6" r="0.22"/><circle cx="438.9" cy="435.6" r="0.47"/><circle cx="454.4" cy="414.0" r="0.48"/><circle cx="433.3" cy="419.1" r="0.17"/><circle cx="432.9" cy="422.9" r="0.19"/><circle cx="459.4" cy="428.3" r="0.37"/><circle cx="436.7" cy="426.9" r="0.50"/><circle cx="450.4" cy="438.7" r="0.17"/><circle cx="438.4" cy="417.7" r="0.19"/><circle cx="434.2" cy="421.6" r="0.33"/><circle cx="437.4" cy="408.4" r="0.28"/><circle cx="439.9" cy="415.8" r="0.39"/><circle cx="461.0" cy="415.5" r="0.42"/><circle cx="456.9" cy="425.0" r="0.46"/><circle cx="440.7" cy="421.5" r="0.33"/><circle cx="462.9" cy="419.4" r="0.19"/><circle cx="464.4" cy="415.0" r="0.23"/><circle cx="431.5" cy="416.9" r="0.37"/><circle cx="459.8" cy="411.1" r="0.31"/><circle cx="450.3" cy="430.7" r="0.30"/><circle cx="434.6" cy="423.2" r="0.37"/><circle cx="439.6" cy="414.8" r="0.27"/><circle cx="448.5" cy="414.3" r="0.25"/><circle cx="464.3" cy="415.6" r="0.38"/><circle cx="449.4" cy="410.6" r="0.36"/><circle cx="444.5" cy="413.8" r="0.45"/><circle cx="448.5" cy="439.6" r="0.17"/><circle cx="445.6" cy="408.7" r="0.51"/><circle cx="447.1" cy="431.1" r="0.31"/><circle cx="457.4" cy="423.2" r="0.21"/><circle cx="431.7" cy="420.6" r="0.27"/><circle cx="443.0" cy="416.4" r="0.23"/><circle cx="445.7" cy="418.6" r="0.45"/><circle cx="449.2" cy="405.7" r="0.36"/><circle cx="448.5" cy="411.4" r="0.37"/><circle cx="454.6" cy="429.8" r="0.26"/><circle cx="455.3" cy="415.1" r="0.41"/><circle cx="446.7" cy="440.4" r="0.21"/><circle cx="451.5" cy="411.2" r="0.30"/><circle cx="436.8" cy="420.3" r="0.33"/><circle cx="450.9" cy="436.7" r="0.29"/><circle cx="461.2" cy="429.6" r="0.39"/><circle cx="442.6" cy="411.4" r="0.24"/><circle cx="441.2" cy="431.1" r="0.32"/><circle cx="459.7" cy="418.2" r="0.41"/><circle cx="445.7" cy="420.4" r="0.23"/><circle cx="449.1" cy="431.3" r="0.18"/><circle cx="452.7" cy="432.6" r="0.40"/><circle cx="456.5" cy="431.9" r="0.24"/><circle cx="433.6" cy="429.2" r="0.40"/><circle cx="437.2" cy="436.5" r="0.20"/><circle cx="445.1" cy="425.2" r="0.19"/><circle cx="440.2" cy="429.8" r="0.32"/><circle cx="458.9" cy="420.0" r="0.24"/><circle cx="433.2" cy="433.0" r="0.47"/><circle cx="437.2" cy="427.1" r="0.35"/><circle cx="445.2" cy="418.0" r="0.21"/><circle cx="433.5" cy="422.9" r="0.44"/><circle cx="458.8" cy="409.5" r="0.21"/><circle cx="452.5" cy="417.7" r="0.30"/><circle cx="456.8" cy="420.0" r="0.41"/><circle cx="449.7" cy="422.1" r="0.26"/><circle cx="434.7" cy="431.1" r="0.36"/><circle cx="453.6" cy="409.4" r="0.43"/><circle cx="443.1" cy="425.7" r="0.48"/><circle cx="459.1" cy="432.5" r="0.37"/><circle cx="437.8" cy="425.1" r="0.35"/><circle cx="451.4" cy="418.7" r="0.37"/><circle cx="462.0" cy="416.7" r="0.51"/><circle cx="453.2" cy="432.2" r="0.19"/><circle cx="457.3" cy="416.4" r="0.47"/><circle cx="454.4" cy="416.3" r="0.41"/><circle cx="435.3" cy="430.0" r="0.17"/><circle cx="462.9" cy="415.7" r="0.50"/><circle cx="431.9" cy="416.4" r="0.44"/><circle cx="455.7" cy="422.7" r="0.41"/><circle cx="449.7" cy="421.1" r="0.31"/><circle cx="461.5" cy="418.8" r="0.46"/><circle cx="436.0" cy="417.4" r="0.46"/><circle cx="456.8" cy="420.3" r="0.24"/><circle cx="440.0" cy="433.6" r="0.20"/><circle cx="443.6" cy="436.5" r="0.30"/><circle cx="433.9" cy="423.0" r="0.37"/><circle cx="456.0" cy="411.6" r="0.42"/><circle cx="445.0" cy="433.1" r="0.37"/><circle cx="460.1" cy="422.3" r="0.37"/><circle cx="454.5" cy="434.2" r="0.45"/><circle cx="456.6" cy="423.8" r="0.31"/><circle cx="454.1" cy="410.9" r="0.35"/><circle cx="441.7" cy="428.8" r="0.21"/><circle cx="460.6" cy="411.6" r="0.23"/><circle cx="449.3" cy="409.3" r="0.38"/><circle cx="434.6" cy="429.0" r="0.44"/><circle cx="457.2" cy="432.7" r="0.27"/><circle cx="431.8" cy="417.8" r="0.23"/><circle cx="445.5" cy="434.5" r="0.32"/><circle cx="447.2" cy="420.2" r="0.19"/><circle cx="430.3" cy="428.2" r="0.51"/><circle cx="436.1" cy="431.2" r="0.32"/><circle cx="440.0" cy="422.5" r="0.22"/><circle cx="442.7" cy="424.1" r="0.35"/><circle cx="446.1" cy="420.0" r="0.32"/><circle cx="450.2" cy="433.4" r="0.48"/><circle cx="452.6" cy="437.5" r="0.33"/><circle cx="443.9" cy="422.0" r="0.21"/><circle cx="456.5" cy="422.2" r="0.43"/><circle cx="440.6" cy="414.4" r="0.45"/><circle cx="447.0" cy="404.2" r="0.40"/><circle cx="437.6" cy="421.2" r="0.32"/><circle cx="445.3" cy="423.0" r="0.31"/><circle cx="456.2" cy="419.8" r="0.23"/><circle cx="436.0" cy="412.8" r="0.23"/><circle cx="456.6" cy="417.8" r="0.28"/><circle cx="448.8" cy="412.4" r="0.20"/><circle cx="448.0" cy="431.7" r="0.47"/><circle cx="458.4" cy="415.2" r="0.39"/><circle cx="446.1" cy="420.9" r="0.43"/><circle cx="452.6" cy="429.0" r="0.27"/><circle cx="437.0" cy="425.1" r="0.37"/><circle cx="456.1" cy="410.8" r="0.44"/><circle cx="432.3" cy="422.5" r="0.48"/><circle cx="458.6" cy="428.2" r="0.36"/><circle cx="434.3" cy="426.5" r="0.20"/><circle cx="444.4" cy="405.6" r="0.35"/><circle cx="456.5" cy="406.8" r="0.30"/><circle cx="449.3" cy="426.2" r="0.27"/><circle cx="443.0" cy="412.0" r="0.50"/><circle cx="446.1" cy="417.6" r="0.32"/><circle cx="455.0" cy="409.3" r="0.34"/><circle cx="464.2" cy="427.6" r="0.28"/><circle cx="448.9" cy="425.8" r="0.17"/><circle cx="460.3" cy="411.3" r="0.21"/><circle cx="443.4" cy="427.9" r="0.42"/><circle cx="441.4" cy="414.4" r="0.35"/><circle cx="442.1" cy="421.3" r="0.31"/><circle cx="443.4" cy="434.9" r="0.46"/><circle cx="446.3" cy="407.7" r="0.43"/><circle cx="452.9" cy="425.2" r="0.39"/><circle cx="443.9" cy="406.9" r="0.22"/><circle cx="433.5" cy="417.0" r="0.19"/><circle cx="442.9" cy="417.4" r="0.26"/><circle cx="442.2" cy="420.2" r="0.34"/><circle cx="451.1" cy="410.7" r="0.29"/><circle cx="444.0" cy="439.8" r="0.26"/><circle cx="458.5" cy="423.6" r="0.27"/><circle cx="456.1" cy="421.7" r="0.45"/><circle cx="459.2" cy="423.8" r="0.36"/><circle cx="450.6" cy="418.3" r="0.33"/><circle cx="444.4" cy="405.8" r="0.51"/><circle cx="456.5" cy="434.6" r="0.25"/><circle cx="454.5" cy="438.7" r="0.37"/><circle cx="444.9" cy="413.1" r="0.45"/><circle cx="449.6" cy="414.8" r="0.39"/><circle cx="458.2" cy="432.6" r="0.27"/><circle cx="444.0" cy="421.0" r="0.48"/><circle cx="441.0" cy="431.4" r="0.47"/><circle cx="459.8" cy="415.7" r="0.33"/><circle cx="447.9" cy="422.4" r="0.40"/><circle cx="435.4" cy="427.0" r="0.19"/><circle cx="434.1" cy="422.6" r="0.23"/><circle cx="440.2" cy="425.0" r="0.50"/><circle cx="442.3" cy="404.7" r="0.26"/><circle cx="459.2" cy="424.2" r="0.20"/><circle cx="434.2" cy="426.0" r="0.46"/><circle cx="463.5" cy="421.7" r="0.40"/><circle cx="465.0" cy="426.0" r="0.31"/><circle cx="451.5" cy="419.5" r="0.47"/><circle cx="458.8" cy="432.8" r="0.21"/><circle cx="432.3" cy="419.7" r="0.19"/><circle cx="444.9" cy="430.6" r="0.28"/><circle cx="465.4" cy="423.9" r="0.39"/><circle cx="459.0" cy="424.1" r="0.38"/><circle cx="448.6" cy="432.1" r="0.48"/><circle cx="433.9" cy="411.0" r="0.25"/><circle cx="456.8" cy="418.9" r="0.22"/><circle cx="458.2" cy="425.1" r="0.28"/><circle cx="462.9" cy="413.6" r="0.33"/><circle cx="456.8" cy="430.4" r="0.35"/><circle cx="447.6" cy="420.1" r="0.25"/><circle cx="456.3" cy="416.4" r="0.45"/><circle cx="463.8" cy="426.7" r="0.44"/><circle cx="437.4" cy="421.1" r="0.29"/><circle cx="432.8" cy="428.3" r="0.39"/><circle cx="461.0" cy="431.9" r="0.39"/><circle cx="443.0" cy="432.4" r="0.29"/><circle cx="452.6" cy="412.2" r="0.44"/><circle cx="437.5" cy="411.3" r="0.42"/><circle cx="442.8" cy="434.8" r="0.31"/><circle cx="433.2" cy="415.2" r="0.27"/><circle cx="445.3" cy="430.9" r="0.34"/><circle cx="449.5" cy="427.5" r="0.50"/><circle cx="452.4" cy="435.0" r="0.21"/><circle cx="436.9" cy="418.8" r="0.39"/><circle cx="456.1" cy="413.0" r="0.43"/><circle cx="450.2" cy="435.4" r="0.30"/><circle cx="443.6" cy="415.4" r="0.20"/><circle cx="453.2" cy="416.4" r="0.19"/><circle cx="462.5" cy="423.5" r="0.42"/><circle cx="462.3" cy="416.5" r="0.46"/><circle cx="448.0" cy="404.4" r="0.49"/><circle cx="463.5" cy="426.0" r="0.31"/><circle cx="434.2" cy="413.2" r="0.22"/><circle cx="447.8" cy="419.0" r="0.28"/><circle cx="439.2" cy="433.2" r="0.33"/><circle cx="463.3" cy="421.6" r="0.45"/><circle cx="455.5" cy="414.8" r="0.48"/><circle cx="438.7" cy="419.0" r="0.25"/><circle cx="450.1" cy="415.8" r="0.42"/><circle cx="460.2" cy="427.9" r="0.39"/><circle cx="442.9" cy="418.9" r="0.43"/><circle cx="448.9" cy="414.1" r="0.25"/><circle cx="433.8" cy="430.7" r="0.26"/><circle cx="458.4" cy="408.9" r="0.48"/><circle cx="446.8" cy="433.7" r="0.27"/><circle cx="455.8" cy="419.6" r="0.31"/><circle cx="441.4" cy="423.3" r="0.25"/><circle cx="441.8" cy="419.8" r="0.20"/><circle cx="457.3" cy="432.2" r="0.18"/><circle cx="451.2" cy="409.3" r="0.32"/><circle cx="453.0" cy="422.9" r="0.41"/><circle cx="453.9" cy="437.0" r="0.50"/><circle cx="444.5" cy="432.9" r="0.44"/><circle cx="439.6" cy="408.5" r="0.44"/><circle cx="464.3" cy="416.0" r="0.36"/><circle cx="434.7" cy="412.4" r="0.29"/><circle cx="444.9" cy="435.6" r="0.32"/><circle cx="444.6" cy="432.8" r="0.47"/><circle cx="458.6" cy="428.5" r="0.39"/><circle cx="440.3" cy="405.5" r="0.46"/><circle cx="456.6" cy="414.4" r="0.25"/><circle cx="459.0" cy="412.0" r="0.20"/><circle cx="437.1" cy="420.4" r="0.38"/><circle cx="444.7" cy="412.8" r="0.35"/><circle cx="441.1" cy="418.4" r="0.41"/><circle cx="436.6" cy="436.2" r="0.24"/><circle cx="455.6" cy="436.8" r="0.46"/><circle cx="443.3" cy="436.6" r="0.34"/><circle cx="434.6" cy="429.7" r="0.29"/><circle cx="437.8" cy="426.7" r="0.25"/><circle cx="430.6" cy="416.4" r="0.42"/><circle cx="463.2" cy="426.9" r="0.44"/><circle cx="445.6" cy="431.5" r="0.39"/><circle cx="442.9" cy="414.6" r="0.34"/><circle cx="445.2" cy="438.7" r="0.32"/><circle cx="436.2" cy="422.2" r="0.24"/><circle cx="445.7" cy="431.0" r="0.30"/><circle cx="446.4" cy="434.5" r="0.45"/><circle cx="452.5" cy="415.9" r="0.31"/><circle cx="451.6" cy="416.2" r="0.38"/><circle cx="445.6" cy="426.8" r="0.25"/><circle cx="433.4" cy="413.6" r="0.37"/><circle cx="445.2" cy="432.4" r="0.49"/><circle cx="453.7" cy="430.6" r="0.32"/><circle cx="438.6" cy="427.8" r="0.36"/><circle cx="443.6" cy="433.0" r="0.51"/><circle cx="450.0" cy="404.9" r="0.26"/><circle cx="440.2" cy="425.7" r="0.20"/><circle cx="461.5" cy="433.8" r="0.49"/><circle cx="442.6" cy="436.8" r="0.42"/><circle cx="451.8" cy="432.9" r="0.27"/><circle cx="443.7" cy="407.0" r="0.40"/><circle cx="443.0" cy="436.7" r="0.21"/><circle cx="461.0" cy="411.7" r="0.46"/><circle cx="432.0" cy="419.9" r="0.46"/><circle cx="452.9" cy="411.5" r="0.31"/><circle cx="462.3" cy="417.2" r="0.30"/><circle cx="438.5" cy="432.0" r="0.43"/><circle cx="441.8" cy="432.5" r="0.31"/><circle cx="448.9" cy="437.1" r="0.30"/><circle cx="429.9" cy="424.5" r="0.24"/><circle cx="453.3" cy="421.5" r="0.42"/><circle cx="439.5" cy="425.1" r="0.45"/><circle cx="454.5" cy="433.3" r="0.24"/><circle cx="440.1" cy="430.5" r="0.51"/><circle cx="458.1" cy="410.2" r="0.24"/><circle cx="457.6" cy="436.7" r="0.36"/><circle cx="439.7" cy="409.6" r="0.36"/><circle cx="437.6" cy="410.9" r="0.25"/><circle cx="453.8" cy="425.1" r="0.30"/><circle cx="456.7" cy="420.2" r="0.26"/><circle cx="447.7" cy="425.6" r="0.19"/><circle cx="451.2" cy="407.3" r="0.40"/><circle cx="455.6" cy="420.4" r="0.47"/><circle cx="457.9" cy="428.4" r="0.37"/><circle cx="450.6" cy="416.5" r="0.41"/><circle cx="434.0" cy="430.4" r="0.47"/><circle cx="432.7" cy="412.0" r="0.49"/><circle cx="462.1" cy="414.5" r="0.18"/><circle cx="438.3" cy="432.4" r="0.26"/><circle cx="458.5" cy="435.6" r="0.41"/><circle cx="432.9" cy="411.3" r="0.39"/><circle cx="443.0" cy="407.6" r="0.24"/><circle cx="450.8" cy="424.2" r="0.24"/><circle cx="443.7" cy="407.7" r="0.41"/><circle cx="452.7" cy="427.0" r="0.33"/><circle cx="447.7" cy="439.8" r="0.48"/><circle cx="464.8" cy="427.2" r="0.40"/><circle cx="441.7" cy="437.7" r="0.31"/><circle cx="448.7" cy="439.0" r="0.21"/><circle cx="435.3" cy="435.6" r="0.36"/><circle cx="460.0" cy="434.2" r="0.46"/><circle cx="432.6" cy="414.2" r="0.40"/><circle cx="450.1" cy="440.3" r="0.26"/><circle cx="432.6" cy="411.9" r="0.25"/><circle cx="447.3" cy="439.7" r="0.34"/><circle cx="444.1" cy="439.4" r="0.28"/><circle cx="450.1" cy="405.4" r="0.40"/><circle cx="445.5" cy="440.0" r="0.38"/><circle cx="459.4" cy="434.2" r="0.23"/><circle cx="443.7" cy="405.2" r="0.48"/><circle cx="461.0" cy="434.6" r="0.43"/><circle cx="443.9" cy="405.4" r="0.44"/><circle cx="433.6" cy="414.3" r="0.51"/><circle cx="436.0" cy="434.4" r="0.44"/><circle cx="435.1" cy="433.9" r="0.34"/><circle cx="429.8" cy="418.2" r="0.23"/><circle cx="461.4" cy="431.4" r="0.45"/><circle cx="432.3" cy="431.9" r="0.37"/><circle cx="459.1" cy="409.8" r="0.54"/><circle cx="437.1" cy="407.4" r="0.43"/><circle cx="461.6" cy="410.9" r="0.42"/><circle cx="445.8" cy="404.8" r="0.53"/><circle cx="440.7" cy="438.8" r="0.49"/><circle cx="460.8" cy="410.2" r="0.49"/><circle cx="440.2" cy="407.2" r="0.42"/><circle cx="438.5" cy="435.6" r="0.39"/><circle cx="456.3" cy="436.5" r="0.51"/><circle cx="430.7" cy="422.1" r="0.46"/><circle cx="434.5" cy="411.3" r="0.44"/><circle cx="456.1" cy="406.1" r="0.37"/><circle cx="465.0" cy="422.4" r="0.31"/><circle cx="460.8" cy="412.2" r="0.48"/><circle cx="447.3" cy="438.7" r="0.25"/><circle cx="448.6" cy="404.8" r="0.45"/><circle cx="462.3" cy="430.8" r="0.47"/><circle cx="430.8" cy="429.3" r="0.53"/><circle cx="454.1" cy="407.1" r="0.39"/><circle cx="463.1" cy="430.3" r="0.30"/><circle cx="438.5" cy="435.7" r="0.32"/><circle cx="451.4" cy="438.5" r="0.26"/><circle cx="433.4" cy="433.5" r="0.39"/><circle cx="429.9" cy="425.4" r="0.48"/><circle cx="434.3" cy="412.3" r="0.53"/><circle cx="465.4" cy="419.8" r="0.38"/><circle cx="460.0" cy="411.1" r="0.45"/><circle cx="433.3" cy="412.9" r="0.49"/><circle cx="434.3" cy="411.2" r="0.50"/><circle cx="441.8" cy="437.7" r="0.39"/><circle cx="463.2" cy="415.3" r="0.42"/><circle cx="465.2" cy="417.8" r="0.48"/><circle cx="446.1" cy="406.0" r="0.53"/><circle cx="439.4" cy="407.4" r="0.29"/><circle cx="439.1" cy="406.8" r="0.36"/><circle cx="432.7" cy="414.2" r="0.40"/><circle cx="463.3" cy="431.3" r="0.29"/><circle cx="442.6" cy="438.9" r="0.43"/><circle cx="431.1" cy="430.1" r="0.32"/><circle cx="439.9" cy="438.7" r="0.26"/><circle cx="436.9" cy="435.9" r="0.46"/><circle cx="457.0" cy="436.0" r="0.37"/><circle cx="439.8" cy="437.6" r="0.52"/><circle cx="460.4" cy="433.6" r="0.42"/><circle cx="431.8" cy="418.8" r="0.22"/><circle cx="459.5" cy="433.2" r="0.51"/><circle cx="456.7" cy="437.3" r="0.34"/><circle cx="442.6" cy="404.8" r="0.52"/><circle cx="440.8" cy="438.5" r="0.37"/><circle cx="465.3" cy="419.6" r="0.53"/><circle cx="443.8" cy="438.2" r="0.49"/><circle cx="464.4" cy="421.6" r="0.46"/><circle cx="462.6" cy="429.1" r="0.52"/><circle cx="436.7" cy="407.7" r="0.27"/><circle cx="453.7" cy="437.7" r="0.26"/><circle cx="465.3" cy="426.6" r="0.24"/><circle cx="464.6" cy="418.1" r="0.52"/><circle cx="431.1" cy="428.4" r="0.40"/><circle cx="451.2" cy="405.2" r="0.31"/><circle cx="445.9" cy="438.7" r="0.24"/><circle cx="445.5" cy="440.0" r="0.28"/><circle cx="455.4" cy="437.6" r="0.29"/><circle cx="465.2" cy="423.6" r="0.32"/><circle cx="431.6" cy="425.7" r="0.44"/><circle cx="452.6" cy="406.6" r="0.38"/><circle cx="457.0" cy="437.3" r="0.38"/><circle cx="431.1" cy="419.3" r="0.35"/><circle cx="432.7" cy="429.1" r="0.37"/><circle cx="440.9" cy="406.1" r="0.53"/><circle cx="452.4" cy="439.7" r="0.36"/><circle cx="458.5" cy="410.4" r="0.44"/><circle cx="446.6" cy="439.0" r="0.44"/><circle cx="431.0" cy="425.9" r="0.26"/><circle cx="431.3" cy="423.2" r="0.48"/><circle cx="446.1" cy="439.3" r="0.49"/><circle cx="439.9" cy="406.3" r="0.26"/><circle cx="463.1" cy="415.0" r="0.21"/><circle cx="464.3" cy="418.9" r="0.40"/><circle cx="434.7" cy="435.1" r="0.46"/><circle cx="460.0" cy="410.4" r="0.38"/><circle cx="453.1" cy="407.0" r="0.44"/><circle cx="456.4" cy="406.7" r="0.32"/><circle cx="455.7" cy="438.4" r="0.41"/><circle cx="457.4" cy="408.4" r="0.51"/><circle cx="464.8" cy="424.6" r="0.45"/><circle cx="458.3" cy="436.3" r="0.22"/><circle cx="452.4" cy="405.5" r="0.53"/><circle cx="459.5" cy="410.3" r="0.29"/><circle cx="437.6" cy="436.1" r="0.34"/><circle cx="429.8" cy="421.0" r="0.25"/><circle cx="438.1" cy="435.4" r="0.49"/><circle cx="437.9" cy="408.8" r="0.45"/><circle cx="437.7" cy="409.7" r="0.51"/><circle cx="431.0" cy="428.0" r="0.43"/><circle cx="464.8" cy="421.7" r="0.31"/><circle cx="463.6" cy="426.8" r="0.28"/><circle cx="439.9" cy="408.2" r="0.47"/><circle cx="444.6" cy="438.4" r="0.40"/><circle cx="442.7" cy="406.7" r="0.37"/><circle cx="443.3" cy="439.3" r="0.38"/><circle cx="445.8" cy="405.7" r="0.24"/><circle cx="432.6" cy="412.7" r="0.32"/><circle cx="438.6" cy="437.6" r="0.48"/><circle cx="436.9" cy="409.7" r="0.52"/><circle cx="431.3" cy="426.6" r="0.43"/><circle cx="452.4" cy="406.1" r="0.28"/><circle cx="453.0" cy="407.2" r="0.25"/><circle cx="450.1" cy="404.6" r="0.26"/><circle cx="464.3" cy="428.8" r="0.49"/><circle cx="437.1" cy="436.0" r="0.52"/><circle cx="431.3" cy="415.8" r="0.48"/><circle cx="430.8" cy="425.3" r="0.44"/><circle cx="462.2" cy="432.8" r="0.50"/><circle cx="434.7" cy="411.8" r="0.42"/><circle cx="463.6" cy="415.5" r="0.47"/><circle cx="464.0" cy="419.6" r="0.29"/><circle cx="452.0" cy="404.7" r="0.24"/><circle cx="452.9" cy="439.5" r="0.32"/><circle cx="464.3" cy="423.4" r="0.27"/><circle cx="437.4" cy="408.9" r="0.29"/><circle cx="433.6" cy="411.5" r="0.42"/><circle cx="437.7" cy="409.4" r="0.52"/><circle cx="430.8" cy="418.3" r="0.52"/><circle cx="445.3" cy="438.7" r="0.45"/><circle cx="438.0" cy="408.5" r="0.32"/><circle cx="431.7" cy="422.8" r="0.33"/><circle cx="459.0" cy="410.7" r="0.49"/><circle cx="463.2" cy="415.9" r="0.40"/><circle cx="435.8" cy="434.7" r="0.36"/><circle cx="433.0" cy="433.0" r="0.34"/><circle cx="456.8" cy="438.1" r="0.36"/><circle cx="449.0" cy="405.6" r="0.29"/><circle cx="434.8" cy="433.7" r="0.26"/><circle cx="434.3" cy="410.4" r="0.46"/><circle cx="460.3" cy="435.5" r="0.37"/><circle cx="433.6" cy="433.3" r="0.33"/><circle cx="440.1" cy="439.0" r="0.26"/><circle cx="463.8" cy="430.2" r="0.45"/><circle cx="435.6" cy="435.3" r="0.32"/><circle cx="434.9" cy="410.1" r="0.54"/><circle cx="458.5" cy="409.0" r="0.24"/><circle cx="431.5" cy="420.8" r="0.40"/><circle cx="463.7" cy="415.1" r="0.37"/><circle cx="440.8" cy="407.5" r="0.44"/><circle cx="432.5" cy="413.3" r="0.39"/><circle cx="465.6" cy="421.7" r="0.38"/><circle cx="435.1" cy="410.0" r="0.53"/><circle cx="463.1" cy="417.2" r="0.33"/><circle cx="431.5" cy="428.7" r="0.39"/><circle cx="457.2" cy="435.3" r="0.28"/><circle cx="451.4" cy="404.5" r="0.38"/><circle cx="463.9" cy="420.3" r="0.27"/><circle cx="464.9" cy="417.7" r="0.25"/><circle cx="431.0" cy="422.6" r="0.37"/><circle cx="457.2" cy="406.8" r="0.28"/><circle cx="451.0" cy="404.5" r="0.43"/><circle cx="432.8" cy="412.6" r="0.36"/><circle cx="432.9" cy="413.2" r="0.48"/><circle cx="453.8" cy="439.3" r="0.46"/><circle cx="453.8" cy="407.2" r="0.26"/><circle cx="434.7" cy="411.8" r="0.47"/><circle cx="445.4" cy="440.1" r="0.47"/><circle cx="465.6" cy="421.1" r="0.37"/><circle cx="463.3" cy="429.3" r="0.47"/></g>
<text x="375.36" y="348.10" font-family="Liberation Serif" font-size="9.15" font-weight="bold" fill="#000">MGC-803</text>
<text x="434.35" y="348.10" font-family="Liberation Serif" font-size="9.25" font-weight="bold" fill="#000">AGS</text>
<text x="344.76" y="379.80" font-family="Liberation Serif" font-size="9.24" font-weight="bold" fill="#000">PEX</text>
<text x="324.36" y="427.40" font-family="Liberation Serif" font-size="9.03" font-weight="bold" fill="#000">PEX-DBF4</text>
<text x="175.17" y="170.40" font-family="Liberation Serif" font-size="7.61" font-weight="bold" fill="#000">si-NC</text>
<text x="200.97" y="170.40" font-family="Liberation Serif" font-size="7.58" font-weight="bold" fill="#000">si-DBF4</text>
<rect x="172.00" y="174.10" width="57.30" height="14.20" fill="#c5d8e6" stroke="#222" stroke-width="1.0"/>
<rect x="175.70" y="178.40" width="22.30" height="5.60" rx="4.20" ry="2.80" fill="#111" opacity="1.0" filter="url(#blur1)"/>
<rect x="204.00" y="180.00" width="22.40" height="2.80" rx="2.10" ry="1.40" fill="#111" opacity="0.85" filter="url(#blur1)"/>
<rect x="172.00" y="190.50" width="57.30" height="13.90" fill="#c5d8e6" stroke="#222" stroke-width="1.0"/>
<rect x="175.70" y="196.30" width="22.30" height="4.40" rx="3.30" ry="2.20" fill="#111" opacity="0.95" filter="url(#blur1)"/>
<rect x="204.00" y="197.00" width="22.40" height="3.40" rx="2.55" ry="1.70" fill="#111" opacity="0.85" filter="url(#blur1)"/>
<rect x="172.00" y="204.40" width="57.30" height="2.60" fill="#9aa0a6" />
<rect x="172.00" y="207.00" width="57.30" height="14.00" fill="#c5d8e6" stroke="#222" stroke-width="1.0"/>
<rect x="175.70" y="211.80" width="22.30" height="4.70" rx="3.52" ry="2.35" fill="#111" opacity="0.95" filter="url(#blur1)"/>
<rect x="203.30" y="211.80" width="23.80" height="4.70" rx="3.52" ry="2.35" fill="#111" opacity="0.95" filter="url(#blur1)"/>
<text x="184.18" y="229.70" font-family="Liberation Serif" font-size="7.73" font-weight="bold" fill="#000">MGC-803</text>
<rect x="172.00" y="233.90" width="56.60" height="14.60" fill="#c5d8e6" stroke="#222" stroke-width="1.0"/>
<rect x="173.50" y="238.90" width="23.10" height="4.90" rx="3.68" ry="2.45" fill="#111" opacity="1.0" filter="url(#blur1)"/>
<rect x="203.30" y="239.70" width="22.30" height="3.40" rx="2.55" ry="1.70" fill="#111" opacity="0.85" filter="url(#blur1)"/>
<rect x="172.00" y="250.30" width="56.60" height="14.20" fill="#c5d8e6" stroke="#222" stroke-width="1.0"/>
<rect x="173.50" y="255.30" width="24.50" height="4.90" rx="3.67" ry="2.45" fill="#111" opacity="0.95" filter="url(#blur1)"/>
<rect x="203.00" y="255.50" width="24.00" height="4.30" rx="3.23" ry="2.15" fill="#111" opacity="0.9" filter="url(#blur1)"/>
<rect x="172.00" y="266.40" width="56.60" height="15.20" fill="#c5d8e6" stroke="#222" stroke-width="1.0"/>
<rect x="173.50" y="272.40" width="24.50" height="4.20" rx="3.15" ry="2.10" fill="#111" opacity="0.85" filter="url(#blur1)"/>
<rect x="203.00" y="272.40" width="24.00" height="4.20" rx="3.15" ry="2.10" fill="#111" opacity="0.9" filter="url(#blur1)"/>
<text x="193.26" y="289.50" font-family="Liberation Serif" font-size="7.71" font-weight="bold" fill="#000">AGS</text>
<text x="140.26" y="182.50" font-family="Liberation Serif" font-size="7.47" font-weight="bold" fill="#000">Cyclin  A</text>
<text x="140.26" y="244.40" font-family="Liberation Serif" font-size="7.47" font-weight="bold" fill="#000">Cyclin  A</text>
<text x="145.49" y="198.00" font-family="Liberation Serif" font-size="7.55" font-weight="bold" fill="#000">PCNA</text>
<text x="145.49" y="261.50" font-family="Liberation Serif" font-size="7.55" font-weight="bold" fill="#000">PCNA</text>
<text x="147.56" y="214.00" font-family="Liberation Serif" font-size="7.92" font-weight="bold" fill="#000">actin</text>
<text x="147.56" y="274.20" font-family="Liberation Serif" font-size="7.92" font-weight="bold" fill="#000">actin</text>
<line x1="253.80" y1="171.30" x2="253.80" y2="266.00" stroke="#000" stroke-width="1.5"/>
<line x1="250.30" y1="171.30" x2="253.80" y2="171.30" stroke="#000" stroke-width="1.5"/>
<line x1="250.30" y1="203.60" x2="253.80" y2="203.60" stroke="#000" stroke-width="1.5"/>
<line x1="250.30" y1="234.50" x2="253.80" y2="234.50" stroke="#000" stroke-width="1.5"/>
<line x1="250.30" y1="266.00" x2="253.80" y2="266.00" stroke="#000" stroke-width="1.5"/>
<line x1="253.80" y1="266.00" x2="392.00" y2="266.00" stroke="#000" stroke-width="1.5"/>
<text x="246.37" y="174.00" font-family="Liberation Serif" font-size="7.80" font-weight="normal" fill="#333">5</text>
<text x="246.37" y="206.30" font-family="Liberation Serif" font-size="7.80" font-weight="normal" fill="#333">0</text>
<text x="246.37" y="237.20" font-family="Liberation Serif" font-size="7.80" font-weight="normal" fill="#333">5</text>
<text x="246.37" y="268.70" font-family="Liberation Serif" font-size="7.80" font-weight="normal" fill="#333">0</text>
<line x1="263.15" y1="195.50" x2="263.15" y2="204.60" stroke="#000" stroke-width="1.4"/>
<line x1="260.97" y1="195.50" x2="265.32" y2="195.50" stroke="#000" stroke-width="1.4"/>
<rect x="258.80" y="203.60" width="8.70" height="62.40" fill="#000" />
<line x1="276.65" y1="239.40" x2="276.65" y2="242.30" stroke="#e31b1f" stroke-width="1.3"/>
<line x1="274.38" y1="239.40" x2="278.92" y2="239.40" stroke="#e31b1f" stroke-width="1.3"/>
<rect x="272.10" y="241.30" width="9.10" height="24.70" fill="#e31b1f" />
<line x1="269.80" y1="266.00" x2="269.80" y2="269.00" stroke="#000" stroke-width="1.5"/>
<path d="M270.40,190.70L270.40,189.12M270.40,190.70L271.89,190.21M270.40,190.70L271.32,191.97M270.40,190.70L269.47,191.97M270.40,190.70L268.90,190.21M274.20,190.70L274.20,189.12M274.20,190.70L275.70,190.21M274.20,190.70L275.13,191.97M274.20,190.70L273.28,191.97M274.20,190.70L272.71,190.21" stroke="#6a6a6a" stroke-width="0.90" stroke-linecap="round" fill="none"/>
<line x1="299.20" y1="196.30" x2="299.20" y2="204.60" stroke="#000" stroke-width="1.4"/>
<line x1="296.90" y1="196.30" x2="301.50" y2="196.30" stroke="#000" stroke-width="1.4"/>
<rect x="294.60" y="203.60" width="9.20" height="62.40" fill="#000" />
<line x1="312.80" y1="237.10" x2="312.80" y2="244.20" stroke="#e31b1f" stroke-width="1.3"/>
<line x1="310.40" y1="237.10" x2="315.20" y2="237.10" stroke="#e31b1f" stroke-width="1.3"/>
<rect x="308.00" y="243.20" width="9.60" height="22.80" fill="#e31b1f" />
<line x1="305.90" y1="266.00" x2="305.90" y2="269.00" stroke="#000" stroke-width="1.5"/>
<path d="M308.60,190.62L308.60,188.94M308.60,190.62L310.19,190.10M308.60,190.62L309.58,191.98M308.60,190.62L307.61,191.98M308.60,190.62L307.00,190.10M312.30,190.62L312.30,188.94M312.30,190.62L313.90,190.10M312.30,190.62L313.29,191.98M312.30,190.62L311.32,191.98M312.30,190.62L310.71,190.10" stroke="#6a6a6a" stroke-width="0.96" stroke-linecap="round" fill="none"/>
<line x1="335.50" y1="192.40" x2="335.50" y2="204.60" stroke="#000" stroke-width="1.4"/>
<line x1="333.30" y1="192.40" x2="337.70" y2="192.40" stroke="#000" stroke-width="1.4"/>
<rect x="331.10" y="203.60" width="8.80" height="62.40" fill="#000" />
<line x1="349.40" y1="232.60" x2="349.40" y2="239.30" stroke="#e31b1f" stroke-width="1.3"/>
<line x1="347.25" y1="232.60" x2="351.55" y2="232.60" stroke="#e31b1f" stroke-width="1.3"/>
<rect x="345.10" y="238.30" width="8.60" height="27.70" fill="#e31b1f" />
<line x1="342.50" y1="266.00" x2="342.50" y2="269.00" stroke="#000" stroke-width="1.5"/>
<path d="M342.95,188.22L342.95,186.80M342.95,188.22L344.29,187.78M342.95,188.22L343.78,189.37M342.95,188.22L342.11,189.37M342.95,188.22L341.60,187.78M346.55,188.22L346.55,186.80M346.55,188.22L347.90,187.78M346.55,188.22L347.39,189.37M346.55,188.22L345.72,189.37M346.55,188.22L345.21,187.78" stroke="#6a6a6a" stroke-width="0.90" stroke-linecap="round" fill="none"/>
<line x1="371.70" y1="192.40" x2="371.70" y2="204.60" stroke="#000" stroke-width="1.4"/>
<line x1="369.40" y1="192.40" x2="374.00" y2="192.40" stroke="#000" stroke-width="1.4"/>
<rect x="367.10" y="203.60" width="9.20" height="62.40" fill="#000" />
<line x1="385.40" y1="225.90" x2="385.40" y2="231.70" stroke="#e31b1f" stroke-width="1.3"/>
<line x1="383.10" y1="225.90" x2="387.70" y2="225.90" stroke="#e31b1f" stroke-width="1.3"/>
<rect x="380.80" y="230.70" width="9.20" height="35.30" fill="#e31b1f" />
<line x1="378.55" y1="266.00" x2="378.55" y2="269.00" stroke="#000" stroke-width="1.5"/>
<path d="M378.65,188.22L378.65,186.80M378.65,188.22L379.99,187.78M378.65,188.22L379.48,189.37M378.65,188.22L377.81,189.37M378.65,188.22L377.30,187.78M382.25,188.22L382.25,186.80M382.25,188.22L383.60,187.78M382.25,188.22L383.09,189.37M382.25,188.22L381.42,189.37M382.25,188.22L380.91,187.78" stroke="#6a6a6a" stroke-width="0.90" stroke-linecap="round" fill="none"/>
<rect x="259.80" y="170.40" width="10.10" height="4.20" fill="#000" />
<rect x="259.80" y="177.90" width="10.10" height="4.50" fill="#e31b1f" />
<text x="274.78" y="174.90" font-family="Liberation Serif" font-size="8.10" font-weight="normal" fill="#000">si-NC</text>
<text x="274.78" y="182.60" font-family="Liberation Serif" font-size="7.91" font-weight="normal" fill="#000">si-DBF4</text>
<text transform="translate(244.60,279.24) rotate(-90)" x="0" y="0" font-family="Liberation Serif" font-size="9.80" font-weight="bold" fill="#000" textLength="116.94" lengthAdjust="spacingAndGlyphs">Relative expression of protein</text>
<text x="256.79" y="278.80" font-family="Liberation Serif" font-size="7.60" font-weight="bold" fill="#000" textLength="25.85" lengthAdjust="spacingAndGlyphs">Cyclin A</text>
<text x="296.70" y="278.80" font-family="Liberation Serif" font-size="7.60" font-weight="bold" fill="#000" textLength="19.15" lengthAdjust="spacingAndGlyphs">PCNA</text>
<text x="329.08" y="278.80" font-family="Liberation Serif" font-size="7.60" font-weight="bold" fill="#000" textLength="26.05" lengthAdjust="spacingAndGlyphs">Cyclin A</text>
<text x="369.20" y="278.80" font-family="Liberation Serif" font-size="7.60" font-weight="bold" fill="#000" textLength="18.55" lengthAdjust="spacingAndGlyphs">PCNA</text>
<line x1="272.00" y1="284.20" x2="306.00" y2="284.20" stroke="#666" stroke-width="1.0"/>
<text x="271.78" y="295.30" font-family="Liberation Serif" font-size="9.00" font-weight="bold" fill="#000" textLength="34.07" lengthAdjust="spacingAndGlyphs">MGC-803</text>
<line x1="346.90" y1="284.20" x2="380.80" y2="284.20" stroke="#666" stroke-width="1.0"/>
<text x="354.86" y="295.30" font-family="Liberation Serif" font-size="9.00" font-weight="bold" fill="#000" textLength="15.96" lengthAdjust="spacingAndGlyphs">AGS</text>
<line x1="441.00" y1="173.10" x2="441.00" y2="263.00" stroke="#000" stroke-width="1.5"/>
<line x1="437.50" y1="173.10" x2="441.00" y2="173.10" stroke="#000" stroke-width="1.5"/>
<line x1="437.50" y1="195.60" x2="441.00" y2="195.60" stroke="#000" stroke-width="1.5"/>
<line x1="437.50" y1="217.90" x2="441.00" y2="217.90" stroke="#000" stroke-width="1.5"/>
<line x1="437.50" y1="240.50" x2="441.00" y2="240.50" stroke="#000" stroke-width="1.5"/>
<line x1="437.50" y1="263.00" x2="441.00" y2="263.00" stroke="#000" stroke-width="1.5"/>
<line x1="441.00" y1="263.00" x2="501.40" y2="263.00" stroke="#000" stroke-width="1.5"/>
<text x="425.85" y="177.36" font-family="Liberation Serif" font-size="8.30" font-weight="bold" textLength="8.65" lengthAdjust="spacingAndGlyphs">20</text>
<text x="425.68" y="198.74" font-family="Liberation Serif" font-size="8.30" font-weight="bold" textLength="8.65" lengthAdjust="spacingAndGlyphs">15</text>
<text x="425.68" y="221.06" font-family="Liberation Serif" font-size="8.30" font-weight="bold" textLength="8.65" lengthAdjust="spacingAndGlyphs">10</text>
<text x="428.02" y="241.62" font-family="Liberation Serif" font-size="8.30" font-weight="bold" textLength="4.32" lengthAdjust="spacingAndGlyphs">5</text>
<text x="428.04" y="262.86" font-family="Liberation Serif" font-size="8.30" font-weight="bold" textLength="4.32" lengthAdjust="spacingAndGlyphs">0</text>
<text x="455.46" y="167.80" font-family="Liberation Serif" font-size="9.08" font-weight="bold" fill="#000">MGC-803</text>
<path d="M465.80,176.94L465.80,175.16M465.80,176.94L467.49,176.39M465.80,176.94L466.84,178.38M465.80,176.94L464.75,178.38M465.80,176.94L464.10,176.39M470.40,176.94L470.40,175.16M470.40,176.94L472.10,176.39M470.40,176.94L471.45,178.38M470.40,176.94L469.35,178.38M470.40,176.94L468.70,176.39M475.00,176.94L475.00,175.16M475.00,176.94L476.70,176.39M475.00,176.94L476.05,178.38M475.00,176.94L473.95,178.38M475.00,176.94L473.30,176.39M479.60,176.94L479.60,175.16M479.60,176.94L481.30,176.39M479.60,176.94L480.65,178.38M479.60,176.94L478.56,178.38M479.60,176.94L477.91,176.39" stroke="#6a6a6a" stroke-width="1.02" stroke-linecap="round" fill="none"/>
<rect x="449.90" y="259.30" width="16.60" height="3.70" fill="#000" />
<line x1="458.20" y1="258.50" x2="458.20" y2="259.30" stroke="#000" stroke-width="1.4"/>
<line x1="454.70" y1="258.50" x2="461.70" y2="258.50" stroke="#000" stroke-width="1.4"/>
<line x1="458.20" y1="263.00" x2="458.20" y2="266.30" stroke="#000" stroke-width="1.5"/>
<line x1="483.80" y1="191.40" x2="483.80" y2="195.00" stroke="#e31b1f" stroke-width="1.3"/>
<line x1="479.80" y1="191.40" x2="487.80" y2="191.40" stroke="#e31b1f" stroke-width="1.3"/>
<rect x="475.10" y="194.00" width="17.40" height="69.00" fill="#e31b1f" />
<line x1="483.80" y1="263.00" x2="483.80" y2="266.30" stroke="#000" stroke-width="1.5"/>
<text x="444.25" y="276.50" font-family="Liberation Serif" font-size="9.95" font-weight="bold" fill="#000">PEX</text>
<text x="471.45" y="276.50" font-family="Liberation Serif" font-size="10.28" font-weight="bold" fill="#000">PEX-DBF4</text>
<text transform="translate(411.60,248.16) rotate(-90)" x="0" y="0" font-family="Liberation Serif" font-size="10.51" font-weight="bold" fill="#000">DBF4 mRNA</text>
<text transform="translate(422.60,261.46) rotate(-90)" x="0" y="0" font-family="Liberation Serif" font-size="10.51" font-weight="bold" fill="#000">relative expression</text>
<line x1="561.30" y1="172.80" x2="561.30" y2="262.80" stroke="#000" stroke-width="1.5"/>
<line x1="557.80" y1="172.80" x2="561.30" y2="172.80" stroke="#000" stroke-width="1.5"/>
<line x1="557.80" y1="194.80" x2="561.30" y2="194.80" stroke="#000" stroke-width="1.5"/>
<line x1="557.80" y1="217.60" x2="561.30" y2="217.60" stroke="#000" stroke-width="1.5"/>
<line x1="557.80" y1="240.30" x2="561.30" y2="240.30" stroke="#000" stroke-width="1.5"/>
<line x1="557.80" y1="262.80" x2="561.30" y2="262.80" stroke="#000" stroke-width="1.5"/>
<line x1="561.30" y1="262.80" x2="616.30" y2="262.80" stroke="#000" stroke-width="1.5"/>
<text x="546.75" y="177.86" font-family="Liberation Serif" font-size="8.30" font-weight="bold" textLength="8.86" lengthAdjust="spacingAndGlyphs">20</text>
<text x="546.57" y="199.04" font-family="Liberation Serif" font-size="8.30" font-weight="bold" textLength="8.86" lengthAdjust="spacingAndGlyphs">15</text>
<text x="546.57" y="220.76" font-family="Liberation Serif" font-size="8.30" font-weight="bold" textLength="8.86" lengthAdjust="spacingAndGlyphs">10</text>
<text x="548.96" y="241.62" font-family="Liberation Serif" font-size="8.30" font-weight="bold" textLength="4.43" lengthAdjust="spacingAndGlyphs">5</text>
<text x="548.98" y="262.86" font-family="Liberation Serif" font-size="8.30" font-weight="bold" textLength="4.43" lengthAdjust="spacingAndGlyphs">0</text>
<text x="581.45" y="167.90" font-family="Liberation Serif" font-size="9.40" font-weight="bold" fill="#000">AGS</text>
<path d="M584.00,172.94L584.00,171.16M584.00,172.94L585.69,172.39M584.00,172.94L585.04,174.38M584.00,172.94L582.95,174.38M584.00,172.94L582.30,172.39M588.63,172.94L588.63,171.16M588.63,172.94L590.33,172.39M588.63,172.94L589.68,174.38M588.63,172.94L587.58,174.38M588.63,172.94L586.93,172.39M593.27,172.94L593.27,171.16M593.27,172.94L594.97,172.39M593.27,172.94L594.32,174.38M593.27,172.94L592.22,174.38M593.27,172.94L591.57,172.39M597.90,172.94L597.90,171.16M597.90,172.94L599.60,172.39M597.90,172.94L598.95,174.38M597.90,172.94L596.86,174.38M597.90,172.94L596.21,172.39" stroke="#6a6a6a" stroke-width="1.02" stroke-linecap="round" fill="none"/>
<rect x="570.10" y="258.90" width="17.90" height="3.90" fill="#000" />
<line x1="579.05" y1="258.10" x2="579.05" y2="258.90" stroke="#000" stroke-width="1.4"/>
<line x1="575.55" y1="258.10" x2="582.55" y2="258.10" stroke="#000" stroke-width="1.4"/>
<line x1="579.05" y1="262.80" x2="579.05" y2="266.10" stroke="#000" stroke-width="1.5"/>
<line x1="604.65" y1="177.40" x2="604.65" y2="182.30" stroke="#e31b1f" stroke-width="1.3"/>
<line x1="599.75" y1="177.40" x2="609.55" y2="177.40" stroke="#e31b1f" stroke-width="1.3"/>
<rect x="596.00" y="181.30" width="17.30" height="81.50" fill="#e31b1f" />
<line x1="604.65" y1="262.80" x2="604.65" y2="266.10" stroke="#000" stroke-width="1.5"/>
<text x="559.75" y="276.50" font-family="Liberation Serif" font-size="9.95" font-weight="bold" fill="#000">PEX</text>
<text x="586.75" y="276.50" font-family="Liberation Serif" font-size="9.93" font-weight="bold" fill="#000">PEX-DBF4</text>
<text transform="translate(530.80,246.56) rotate(-90)" x="0" y="0" font-family="Liberation Serif" font-size="10.52" font-weight="bold" fill="#000">DBF4 mRNA</text>
<text transform="translate(542.40,260.06) rotate(-90)" x="0" y="0" font-family="Liberation Serif" font-size="10.46" font-weight="bold" fill="#000">relative expression</text>
<text x="670.15" y="183.10" font-family="Liberation Serif" font-size="10.10" font-weight="bold" fill="#000">PEX</text>
<text x="697.25" y="183.10" font-family="Liberation Serif" font-size="10.14" font-weight="bold" fill="#000">PEX-DBF4</text>
<rect x="668.10" y="187.50" width="71.10" height="15.90" fill="#e2e2e4" stroke="#222" stroke-width="1.0"/>
<rect x="673.80" y="194.60" width="27.70" height="3.10" rx="2.32" ry="1.55" fill="#111" opacity="0.75" filter="url(#blur1)"/>
<rect x="708.50" y="193.60" width="26.00" height="4.20" rx="3.15" ry="2.10" fill="#111" opacity="0.95" filter="url(#blur1)"/>
<rect x="668.10" y="210.90" width="71.10" height="15.50" fill="#d2d5e0" stroke="#222" stroke-width="1.0"/>
<rect x="670.60" y="218.00" width="30.90" height="4.40" rx="3.30" ry="2.20" fill="#111" opacity="1.0" filter="url(#blur1)"/>
<rect x="707.90" y="215.60" width="27.10" height="4.60" rx="3.45" ry="2.30" fill="#111" opacity="1.0" filter="url(#blur1)"/>
<rect x="668.10" y="234.30" width="71.10" height="16.00" fill="#d8e2ee" stroke="#222" stroke-width="1.0"/>
<rect x="671.70" y="236.30" width="28.80" height="3.10" rx="2.32" ry="1.55" fill="#111" opacity="0.6" filter="url(#blur1)"/>
<rect x="709.00" y="235.60" width="24.50" height="5.40" rx="4.05" ry="2.70" fill="#111" opacity="1.0" filter="url(#blur1)"/>
<rect x="668.10" y="257.70" width="71.10" height="16.00" fill="#dadade" stroke="#222" stroke-width="1.0"/>
<rect x="670.60" y="266.00" width="27.70" height="3.20" rx="2.40" ry="1.60" fill="#111" opacity="0.8" filter="url(#blur1)"/>
<rect x="706.40" y="265.40" width="24.90" height="3.80" rx="2.85" ry="1.90" fill="#111" opacity="0.85" filter="url(#blur1)"/>
<text x="639.94" y="200.00" font-family="Liberation Serif" font-size="10.49" font-weight="bold" fill="#000">DBF4</text>
<text x="642.08" y="223.40" font-family="Liberation Serif" font-size="10.72" font-weight="bold" fill="#000">actin</text>
<text x="639.44" y="247.30" font-family="Liberation Serif" font-size="10.69" font-weight="bold" fill="#000">DBF4</text>
<text x="641.68" y="270.20" font-family="Liberation Serif" font-size="10.68" font-weight="bold" fill="#000">actin</text>
<text x="742.86" y="210.90" font-family="Liberation Serif" font-size="9.08" font-weight="bold" fill="#000">MGC-803</text>
<text x="743.86" y="252.80" font-family="Liberation Serif" font-size="8.71" font-weight="bold" fill="#000">AGS</text>
<line x1="38.30" y1="346.40" x2="38.30" y2="432.40" stroke="#000" stroke-width="1.5"/>
<line x1="34.80" y1="346.40" x2="38.30" y2="346.40" stroke="#000" stroke-width="1.5"/>
<line x1="34.80" y1="362.80" x2="38.30" y2="362.80" stroke="#000" stroke-width="1.5"/>
<line x1="34.80" y1="380.50" x2="38.30" y2="380.50" stroke="#000" stroke-width="1.5"/>
<line x1="34.80" y1="397.80" x2="38.30" y2="397.80" stroke="#000" stroke-width="1.5"/>
<line x1="34.80" y1="415.30" x2="38.30" y2="415.30" stroke="#000" stroke-width="1.5"/>
<line x1="34.80" y1="432.40" x2="38.30" y2="432.40" stroke="#000" stroke-width="1.5"/>
<line x1="38.30" y1="432.20" x2="162.40" y2="432.20" stroke="#000" stroke-width="1.5"/>
<line x1="57.00" y1="432.20" x2="57.00" y2="435.40" stroke="#000" stroke-width="1.5"/>
<line x1="85.70" y1="432.20" x2="85.70" y2="435.40" stroke="#000" stroke-width="1.5"/>
<line x1="114.40" y1="432.20" x2="114.40" y2="435.40" stroke="#000" stroke-width="1.5"/>
<line x1="143.00" y1="432.20" x2="143.00" y2="435.40" stroke="#000" stroke-width="1.5"/>
<text x="22.78" y="355.56" font-family="Liberation Serif" font-size="8.30" font-weight="bold">1.0</text>
<text x="22.73" y="370.86" font-family="Liberation Serif" font-size="8.30" font-weight="bold">0.8</text>
<text x="22.69" y="387.46" font-family="Liberation Serif" font-size="8.30" font-weight="bold">0.6</text>
<text x="22.61" y="403.36" font-family="Liberation Serif" font-size="8.30" font-weight="bold">0.4</text>
<text x="22.82" y="418.96" font-family="Liberation Serif" font-size="8.30" font-weight="bold">0.2</text>
<text x="22.78" y="434.76" font-family="Liberation Serif" font-size="8.30" font-weight="bold">0.0</text>
<text x="57.30" y="446.80" text-anchor="middle" font-family="Liberation Serif" font-size="9.0" font-weight="bold">1</text>
<text x="86.00" y="446.80" text-anchor="middle" font-family="Liberation Serif" font-size="9.0" font-weight="bold">2</text>
<text x="114.70" y="446.80" text-anchor="middle" font-family="Liberation Serif" font-size="9.0" font-weight="bold">3</text>
<text x="143.30" y="446.80" text-anchor="middle" font-family="Liberation Serif" font-size="9.0" font-weight="bold">4</text>
<text x="152.04" y="446.20" font-family="Liberation Serif" font-size="9.04" font-weight="bold" fill="#000">days</text>
<text x="78.46" y="342.80" font-family="Liberation Serif" font-size="9.13" font-weight="bold" fill="#000">MGC-803</text>
<line x1="47.20" y1="354.50" x2="56.20" y2="354.50" stroke="#000" stroke-width="1.4"/>
<circle cx="51.70" cy="354.50" r="2.1" fill="#000"/>
<line x1="47.20" y1="366.60" x2="56.20" y2="366.60" stroke="#e31b1f" stroke-width="1.4"/>
<rect x="49.60" y="364.50" width="4.20" height="4.20" fill="#e31b1f" />
<text x="60.27" y="357.00" font-family="Liberation Serif" font-size="8.59" font-weight="bold" fill="#000">PEX</text>
<text x="60.27" y="368.90" font-family="Liberation Serif" font-size="8.99" font-weight="bold" fill="#000">PEX-DBF4</text>
<path d="M138.30,351.62L138.30,349.94M138.30,351.62L139.89,351.10M138.30,351.62L139.28,352.98M138.30,351.62L137.31,352.98M138.30,351.62L136.70,351.10M142.57,351.62L142.57,349.94M142.57,351.62L144.16,351.10M142.57,351.62L143.55,352.98M142.57,351.62L141.58,352.98M142.57,351.62L140.97,351.10M146.83,351.62L146.83,349.94M146.83,351.62L148.43,351.10M146.83,351.62L147.82,352.98M146.83,351.62L145.85,352.98M146.83,351.62L145.24,351.10M151.10,351.62L151.10,349.94M151.10,351.62L152.70,351.10M151.10,351.62L152.09,352.98M151.10,351.62L150.12,352.98M151.10,351.62L149.51,351.10" stroke="#6a6a6a" stroke-width="0.96" stroke-linecap="round" fill="none"/>
<polyline points="57.00,411.00 85.70,402.90 114.40,390.00 143.00,359.60" fill="none" stroke="#e31b1f" stroke-width="1.6"/>
<polyline points="57.00,413.50 85.70,408.70 114.40,399.40 143.00,377.80" fill="none" stroke="#000" stroke-width="1.6"/>
<rect x="54.60" y="408.60" width="4.80" height="4.80" fill="#e31b1f" />
<rect x="83.30" y="400.50" width="4.80" height="4.80" fill="#e31b1f" />
<line x1="114.40" y1="388.50" x2="114.40" y2="391.50" stroke="#e31b1f" stroke-width="1.1"/>
<line x1="112.80" y1="388.50" x2="116.00" y2="388.50" stroke="#e31b1f" stroke-width="1.1"/>
<line x1="112.80" y1="391.50" x2="116.00" y2="391.50" stroke="#e31b1f" stroke-width="1.1"/>
<rect x="112.00" y="387.60" width="4.80" height="4.80" fill="#e31b1f" />
<line x1="143.00" y1="356.60" x2="143.00" y2="362.60" stroke="#e31b1f" stroke-width="1.1"/>
<line x1="141.40" y1="356.60" x2="144.60" y2="356.60" stroke="#e31b1f" stroke-width="1.1"/>
<line x1="141.40" y1="362.60" x2="144.60" y2="362.60" stroke="#e31b1f" stroke-width="1.1"/>
<rect x="140.60" y="357.20" width="4.80" height="4.80" fill="#e31b1f" />
<circle cx="57.00" cy="413.50" r="2.5" fill="#000"/>
<circle cx="85.70" cy="408.70" r="2.5" fill="#000"/>
<circle cx="114.40" cy="399.40" r="2.5" fill="#000"/>
<circle cx="143.00" cy="377.80" r="2.5" fill="#000"/>
<text transform="translate(17.80,432.64) rotate(-90)" x="0" y="0" font-family="Liberation Serif" font-size="9.75" font-weight="bold" fill="#000">OD value</text>
<text transform="translate(17.80,388.83) rotate(-90)" x="0" y="0" font-family="Liberation Serif" font-size="5.60" font-weight="bold" fill="#000" textLength="29.71" lengthAdjust="spacingAndGlyphs">(459nm)</text>
<line x1="195.30" y1="346.40" x2="195.30" y2="432.00" stroke="#000" stroke-width="1.5"/>
<line x1="191.80" y1="346.40" x2="195.30" y2="346.40" stroke="#000" stroke-width="1.5"/>
<line x1="191.80" y1="374.90" x2="195.30" y2="374.90" stroke="#000" stroke-width="1.5"/>
<line x1="191.80" y1="403.50" x2="195.30" y2="403.50" stroke="#000" stroke-width="1.5"/>
<line x1="191.80" y1="432.00" x2="195.30" y2="432.00" stroke="#000" stroke-width="1.5"/>
<line x1="195.30" y1="432.60" x2="319.50" y2="432.60" stroke="#000" stroke-width="1.5"/>
<line x1="214.40" y1="432.60" x2="214.40" y2="435.80" stroke="#000" stroke-width="1.5"/>
<line x1="242.90" y1="432.60" x2="242.90" y2="435.80" stroke="#000" stroke-width="1.5"/>
<line x1="271.90" y1="432.60" x2="271.90" y2="435.80" stroke="#000" stroke-width="1.5"/>
<line x1="301.00" y1="432.60" x2="301.00" y2="435.80" stroke="#000" stroke-width="1.5"/>
<text x="177.58" y="358.44" font-family="Liberation Serif" font-size="8.30" font-weight="bold" textLength="11.55" lengthAdjust="spacingAndGlyphs">1.5</text>
<text x="177.58" y="381.86" font-family="Liberation Serif" font-size="8.30" font-weight="bold" textLength="11.55" lengthAdjust="spacingAndGlyphs">1.0</text>
<text x="177.58" y="408.06" font-family="Liberation Serif" font-size="8.30" font-weight="bold" textLength="11.55" lengthAdjust="spacingAndGlyphs">0.5</text>
<text x="177.58" y="430.96" font-family="Liberation Serif" font-size="8.30" font-weight="bold" textLength="11.55" lengthAdjust="spacingAndGlyphs">0.0</text>
<text x="214.70" y="446.80" text-anchor="middle" font-family="Liberation Serif" font-size="9.0" font-weight="bold">1</text>
<text x="243.20" y="446.80" text-anchor="middle" font-family="Liberation Serif" font-size="9.0" font-weight="bold">2</text>
<text x="272.20" y="446.80" text-anchor="middle" font-family="Liberation Serif" font-size="9.0" font-weight="bold">3</text>
<text x="301.30" y="446.80" text-anchor="middle" font-family="Liberation Serif" font-size="9.0" font-weight="bold">4</text>
<text x="308.43" y="446.40" font-family="Liberation Serif" font-size="9.31" font-weight="bold" fill="#000">days</text>
<text x="244.06" y="343.30" font-family="Liberation Serif" font-size="8.81" font-weight="bold" fill="#000">AGS</text>
<line x1="210.00" y1="354.10" x2="218.30" y2="354.10" stroke="#000" stroke-width="1.4"/>
<circle cx="214.15" cy="354.10" r="2.1" fill="#000"/>
<line x1="210.00" y1="365.40" x2="218.30" y2="365.40" stroke="#e31b1f" stroke-width="1.4"/>
<rect x="212.05" y="363.30" width="4.20" height="4.20" fill="#e31b1f" />
<text x="220.96" y="357.10" font-family="Liberation Serif" font-size="9.14" font-weight="bold" fill="#000">PEX</text>
<text x="220.96" y="368.50" font-family="Liberation Serif" font-size="9.34" font-weight="bold" fill="#000">PEX-DBF4</text>
<path d="M295.70,355.88L295.70,354.41M295.70,355.88L297.09,355.43M295.70,355.88L296.56,357.07M295.70,355.88L294.83,357.07M295.70,355.88L294.30,355.43M300.25,355.88L300.25,354.41M300.25,355.88L301.65,355.43M300.25,355.88L301.11,357.07M300.25,355.88L299.39,357.07M300.25,355.88L298.85,355.43M304.80,355.88L304.80,354.41M304.80,355.88L306.20,355.43M304.80,355.88L305.67,357.07M304.80,355.88L303.94,357.07M304.80,355.88L303.41,355.43" stroke="#6a6a6a" stroke-width="0.90" stroke-linecap="round" fill="none"/>
<polyline points="214.40,419.10 242.90,412.20 271.90,388.60 301.00,364.60" fill="none" stroke="#e31b1f" stroke-width="1.6"/>
<polyline points="214.40,419.90 242.90,416.30 271.90,403.30 301.00,385.90" fill="none" stroke="#000" stroke-width="1.6"/>
<rect x="212.00" y="416.70" width="4.80" height="4.80" fill="#e31b1f" />
<rect x="240.50" y="409.80" width="4.80" height="4.80" fill="#e31b1f" />
<line x1="271.90" y1="386.10" x2="271.90" y2="391.10" stroke="#e31b1f" stroke-width="1.1"/>
<line x1="270.30" y1="386.10" x2="273.50" y2="386.10" stroke="#e31b1f" stroke-width="1.1"/>
<line x1="270.30" y1="391.10" x2="273.50" y2="391.10" stroke="#e31b1f" stroke-width="1.1"/>
<rect x="269.50" y="386.20" width="4.80" height="4.80" fill="#e31b1f" />
<line x1="301.00" y1="359.60" x2="301.00" y2="369.60" stroke="#e31b1f" stroke-width="1.1"/>
<line x1="299.40" y1="359.60" x2="302.60" y2="359.60" stroke="#e31b1f" stroke-width="1.1"/>
<line x1="299.40" y1="369.60" x2="302.60" y2="369.60" stroke="#e31b1f" stroke-width="1.1"/>
<rect x="298.60" y="362.20" width="4.80" height="4.80" fill="#e31b1f" />
<circle cx="214.40" cy="419.90" r="2.5" fill="#000"/>
<circle cx="242.90" cy="416.30" r="2.5" fill="#000"/>
<circle cx="271.90" cy="403.30" r="2.5" fill="#000"/>
<line x1="301.00" y1="381.90" x2="301.00" y2="389.90" stroke="#000" stroke-width="1.1"/>
<line x1="299.40" y1="381.90" x2="302.60" y2="381.90" stroke="#000" stroke-width="1.1"/>
<line x1="299.40" y1="389.90" x2="302.60" y2="389.90" stroke="#000" stroke-width="1.1"/>
<circle cx="301.00" cy="385.90" r="2.5" fill="#000"/>
<text transform="translate(174.80,431.95) rotate(-90)" x="0" y="0" font-family="Liberation Serif" font-size="10.10" font-weight="bold" fill="#000">OD value</text>
<text transform="translate(174.80,386.73) rotate(-90)" x="0" y="0" font-family="Liberation Serif" font-size="5.60" font-weight="bold" fill="#000" textLength="29.71" lengthAdjust="spacingAndGlyphs">(459nm)</text>
<text x="510.29" y="343.30" font-family="Liberation Serif" font-size="7.32" font-weight="bold" fill="#000">PEX</text>
<text x="534.18" y="343.30" font-family="Liberation Serif" font-size="7.80" font-weight="bold" fill="#000">PEX-DBF4</text>
<rect x="509.50" y="347.00" width="56.80" height="15.40" fill="#c9dbe8" stroke="#222" stroke-width="1.0"/>
<rect x="511.70" y="353.60" width="23.00" height="4.20" rx="3.15" ry="2.10" fill="#111" opacity="0.9" filter="url(#blur1)"/>
<rect x="540.70" y="352.80" width="24.70" height="6.40" rx="4.80" ry="3.20" fill="#111" opacity="1.0" filter="url(#blur1)"/>
<rect x="509.50" y="364.90" width="56.80" height="14.80" fill="#c9dbe8" stroke="#222" stroke-width="1.0"/>
<rect x="511.70" y="370.90" width="21.30" height="3.50" rx="2.62" ry="1.75" fill="#111" opacity="0.7" filter="url(#blur1)"/>
<rect x="542.40" y="369.80" width="22.10" height="5.50" rx="4.12" ry="2.75" fill="#111" opacity="1.0" filter="url(#blur1)"/>
<rect x="509.50" y="381.90" width="56.80" height="14.50" fill="#c9dbe8" stroke="#222" stroke-width="1.0"/>
<rect x="511.70" y="388.00" width="22.30" height="3.50" rx="2.62" ry="1.75" fill="#111" opacity="0.9" filter="url(#blur1)"/>
<rect x="539.80" y="388.00" width="24.70" height="3.50" rx="2.62" ry="1.75" fill="#111" opacity="0.9" filter="url(#blur1)"/>
<text x="520.49" y="405.00" font-family="Liberation Serif" font-size="7.66" font-weight="bold" fill="#000">MGC-803</text>
<rect x="509.90" y="413.10" width="56.60" height="14.40" fill="#c9dbe8" stroke="#222" stroke-width="1.0"/>
<rect x="511.70" y="419.20" width="23.80" height="2.60" rx="1.95" ry="1.30" fill="#111" opacity="0.7" filter="url(#blur1)"/>
<rect x="541.50" y="418.40" width="24.50" height="4.10" rx="3.08" ry="2.05" fill="#111" opacity="1.0" filter="url(#blur1)"/>
<rect x="509.90" y="429.50" width="56.60" height="13.70" fill="#c9dbe8" stroke="#222" stroke-width="1.0"/>
<rect x="511.70" y="433.70" width="21.60" height="3.70" rx="2.77" ry="1.85" fill="#111" opacity="1.0" filter="url(#blur1)"/>
<rect x="540.00" y="433.30" width="24.50" height="4.90" rx="3.67" ry="2.45" fill="#111" opacity="1.0" filter="url(#blur1)"/>
<rect x="509.90" y="445.10" width="56.60" height="14.40" fill="#c9dbe8" stroke="#222" stroke-width="1.0"/>
<rect x="511.70" y="451.20" width="23.80" height="3.30" rx="2.48" ry="1.65" fill="#111" opacity="0.9" filter="url(#blur1)"/>
<rect x="540.70" y="450.40" width="23.10" height="3.40" rx="2.55" ry="1.70" fill="#111" opacity="0.95" filter="url(#blur1)"/>
<text x="531.36" y="470.50" font-family="Liberation Serif" font-size="7.41" font-weight="bold" fill="#000">AGS</text>
<text x="476.05" y="359.30" font-family="Liberation Serif" font-size="7.67" font-weight="bold" fill="#000">Cyclin  A</text>
<text x="480.19" y="375.10" font-family="Liberation Serif" font-size="7.55" font-weight="bold" fill="#000">PCNA</text>
<text x="483.77" y="392.70" font-family="Liberation Serif" font-size="7.83" font-weight="bold" fill="#000">actin</text>
<text x="476.06" y="422.30" font-family="Liberation Serif" font-size="7.62" font-weight="bold" fill="#000">Cyclin  A</text>
<text x="484.39" y="439.00" font-family="Liberation Serif" font-size="7.55" font-weight="bold" fill="#000">PCNA</text>
<text x="485.77" y="454.30" font-family="Liberation Serif" font-size="7.54" font-weight="bold" fill="#000">actin</text>
<line x1="605.50" y1="338.50" x2="605.50" y2="432.20" stroke="#000" stroke-width="1.5"/>
<line x1="602.00" y1="338.50" x2="605.50" y2="338.50" stroke="#000" stroke-width="1.5"/>
<line x1="602.00" y1="361.90" x2="605.50" y2="361.90" stroke="#000" stroke-width="1.5"/>
<line x1="602.00" y1="385.40" x2="605.50" y2="385.40" stroke="#000" stroke-width="1.5"/>
<line x1="602.00" y1="408.80" x2="605.50" y2="408.80" stroke="#000" stroke-width="1.5"/>
<line x1="602.00" y1="432.20" x2="605.50" y2="432.20" stroke="#000" stroke-width="1.5"/>
<line x1="605.50" y1="432.20" x2="747.10" y2="432.20" stroke="#000" stroke-width="1.5"/>
<text x="597.52" y="341.20" font-family="Liberation Serif" font-size="7.80" font-weight="normal" fill="#333">4</text>
<text x="597.67" y="364.60" font-family="Liberation Serif" font-size="7.80" font-weight="normal" fill="#333">3</text>
<text x="597.83" y="388.10" font-family="Liberation Serif" font-size="7.80" font-weight="normal" fill="#333">2</text>
<text x="597.87" y="411.50" font-family="Liberation Serif" font-size="7.80" font-weight="normal" fill="#333">1</text>
<text x="597.67" y="434.90" font-family="Liberation Serif" font-size="7.80" font-weight="normal" fill="#333">0</text>
<line x1="615.25" y1="404.90" x2="615.25" y2="409.80" stroke="#000" stroke-width="1.4"/>
<line x1="613.25" y1="404.90" x2="617.25" y2="404.90" stroke="#000" stroke-width="1.4"/>
<rect x="610.90" y="408.80" width="8.70" height="23.40" fill="#000" />
<line x1="628.65" y1="368.10" x2="628.65" y2="378.30" stroke="#e31b1f" stroke-width="1.3"/>
<line x1="626.65" y1="368.10" x2="630.65" y2="368.10" stroke="#e31b1f" stroke-width="1.3"/>
<rect x="624.20" y="377.30" width="8.90" height="54.90" fill="#e31b1f" />
<line x1="621.90" y1="432.20" x2="621.90" y2="435.20" stroke="#000" stroke-width="1.5"/>
<path d="M620.40,366.04L620.40,364.78M620.40,366.04L621.60,365.65M620.40,366.04L621.14,367.06M620.40,366.04L619.66,367.06M620.40,366.04L619.20,365.65M623.90,366.04L623.90,364.78M623.90,366.04L625.10,365.65M623.90,366.04L624.64,367.06M623.90,366.04L623.16,367.06M623.90,366.04L622.70,365.65" stroke="#6a6a6a" stroke-width="0.90" stroke-linecap="round" fill="none"/>
<line x1="651.35" y1="400.60" x2="651.35" y2="409.80" stroke="#000" stroke-width="1.4"/>
<line x1="649.35" y1="400.60" x2="653.35" y2="400.60" stroke="#000" stroke-width="1.4"/>
<rect x="646.90" y="408.80" width="8.90" height="23.40" fill="#000" />
<line x1="664.95" y1="367.90" x2="664.95" y2="376.10" stroke="#e31b1f" stroke-width="1.3"/>
<line x1="662.95" y1="367.90" x2="666.95" y2="367.90" stroke="#e31b1f" stroke-width="1.3"/>
<rect x="660.50" y="375.10" width="8.90" height="57.10" fill="#e31b1f" />
<line x1="658.15" y1="432.20" x2="658.15" y2="435.20" stroke="#000" stroke-width="1.5"/>
<path d="M657.80,366.04L657.80,364.78M657.80,366.04L659.00,365.65M657.80,366.04L658.54,367.06M657.80,366.04L657.06,367.06M657.80,366.04L656.60,365.65M661.30,366.04L661.30,364.78M661.30,366.04L662.50,365.65M661.30,366.04L662.04,367.06M661.30,366.04L660.56,367.06M661.30,366.04L660.10,365.65" stroke="#6a6a6a" stroke-width="0.90" stroke-linecap="round" fill="none"/>
<line x1="687.55" y1="404.80" x2="687.55" y2="409.80" stroke="#000" stroke-width="1.4"/>
<line x1="685.55" y1="404.80" x2="689.55" y2="404.80" stroke="#000" stroke-width="1.4"/>
<rect x="682.90" y="408.80" width="9.30" height="23.40" fill="#000" />
<line x1="701.35" y1="349.90" x2="701.35" y2="355.50" stroke="#e31b1f" stroke-width="1.3"/>
<line x1="699.35" y1="349.90" x2="703.35" y2="349.90" stroke="#e31b1f" stroke-width="1.3"/>
<rect x="696.90" y="354.50" width="8.90" height="77.70" fill="#e31b1f" />
<line x1="694.55" y1="432.20" x2="694.55" y2="435.20" stroke="#000" stroke-width="1.5"/>
<path d="M692.65,345.62L692.65,344.20M692.65,345.62L693.99,345.18M692.65,345.62L693.48,346.77M692.65,345.62L691.81,346.77M692.65,345.62L691.30,345.18M696.35,345.62L696.35,344.20M696.35,345.62L697.70,345.18M696.35,345.62L697.19,346.77M696.35,345.62L695.52,346.77M696.35,345.62L695.01,345.18" stroke="#6a6a6a" stroke-width="0.90" stroke-linecap="round" fill="none"/>
<line x1="724.00" y1="402.00" x2="724.00" y2="409.80" stroke="#000" stroke-width="1.4"/>
<line x1="722.00" y1="402.00" x2="726.00" y2="402.00" stroke="#000" stroke-width="1.4"/>
<rect x="719.60" y="408.80" width="8.80" height="23.40" fill="#000" />
<line x1="737.45" y1="381.00" x2="737.45" y2="389.00" stroke="#e31b1f" stroke-width="1.3"/>
<line x1="735.45" y1="381.00" x2="739.45" y2="381.00" stroke="#e31b1f" stroke-width="1.3"/>
<rect x="733.10" y="388.00" width="8.70" height="44.20" fill="#e31b1f" />
<line x1="730.75" y1="432.20" x2="730.75" y2="435.20" stroke="#000" stroke-width="1.5"/>
<path d="M727.75,378.42L727.75,377.00M727.75,378.42L729.09,377.98M727.75,378.42L728.58,379.57M727.75,378.42L726.91,379.57M727.75,378.42L726.40,377.98M731.45,378.42L731.45,377.00M731.45,378.42L732.80,377.98M731.45,378.42L732.29,379.57M731.45,378.42L730.62,379.57M731.45,378.42L730.11,377.98" stroke="#6a6a6a" stroke-width="0.90" stroke-linecap="round" fill="none"/>
<rect x="617.20" y="338.70" width="10.50" height="4.60" fill="#000" />
<rect x="617.20" y="346.80" width="10.50" height="5.40" fill="#e31b1f" />
<text x="632.20" y="343.80" font-family="Liberation Serif" font-size="8.02" font-weight="normal" fill="#000">PEX</text>
<text x="632.19" y="352.40" font-family="Liberation Serif" font-size="8.51" font-weight="normal" fill="#000">PEX-DBF4</text>
<text transform="translate(590.50,445.74) rotate(-90)" x="0" y="0" font-family="Liberation Serif" font-size="9.60" font-weight="bold" fill="#000" textLength="115.84" lengthAdjust="spacingAndGlyphs">Relative expression of protein</text>
<text x="608.68" y="444.40" font-family="Liberation Serif" font-size="7.60" font-weight="bold" fill="#000" textLength="26.46" lengthAdjust="spacingAndGlyphs">Cyclin A</text>
<text x="648.60" y="444.40" font-family="Liberation Serif" font-size="7.60" font-weight="bold" fill="#000" textLength="19.15" lengthAdjust="spacingAndGlyphs">PCNA</text>
<text x="681.08" y="444.40" font-family="Liberation Serif" font-size="7.60" font-weight="bold" fill="#000" textLength="25.95" lengthAdjust="spacingAndGlyphs">Cyclin A</text>
<text x="721.50" y="444.40" font-family="Liberation Serif" font-size="7.60" font-weight="bold" fill="#000" textLength="19.15" lengthAdjust="spacingAndGlyphs">PCNA</text>
<line x1="622.60" y1="449.20" x2="657.20" y2="449.20" stroke="#666" stroke-width="1.0"/>
<text x="622.88" y="460.70" font-family="Liberation Serif" font-size="9.00" font-weight="bold" fill="#000" textLength="34.17" lengthAdjust="spacingAndGlyphs">MGC-803</text>
<line x1="698.20" y1="449.20" x2="732.00" y2="449.20" stroke="#666" stroke-width="1.0"/>
<text x="706.26" y="460.70" font-family="Liberation Serif" font-size="9.00" font-weight="bold" fill="#000" textLength="15.45" lengthAdjust="spacingAndGlyphs">AGS</text>
</svg></body></html>
